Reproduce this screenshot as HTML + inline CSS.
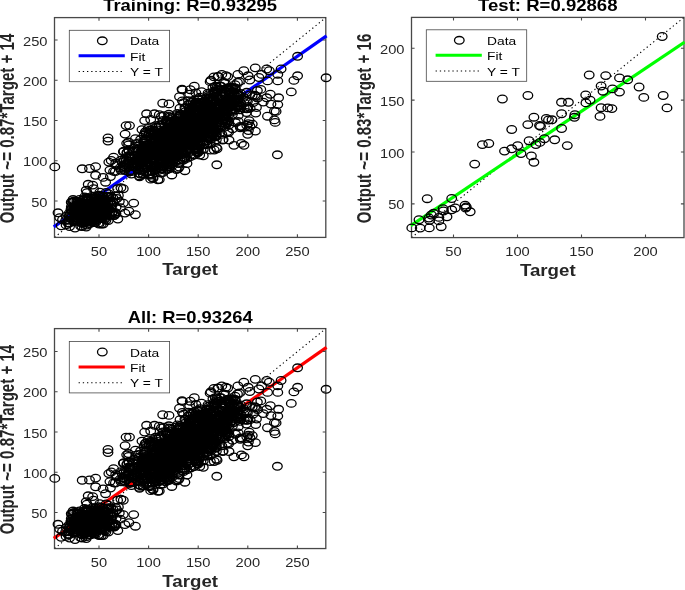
<!DOCTYPE html>
<html><head><meta charset="utf-8"><title>Regression</title>
<style>html,body{margin:0;padding:0;background:#fff}svg{display:block;font-family:"Liberation Sans",sans-serif;will-change:transform}</style>
</head><body>
<svg width="685" height="590" viewBox="0 0 685 590">
<rect width="685" height="590" fill="#fff"/>
<clipPath id="c1"><rect x="54.5" y="17.6" width="271.3" height="219.8"/></clipPath>
<rect x="54.5" y="17.6" width="271.3" height="219.8" fill="none" stroke="#484848" stroke-width="1.3"/>
<line x1="54.5" y1="237.4" x2="325.8" y2="17.6" stroke="#000" stroke-width="1.1" stroke-dasharray="1.3 2.9" clip-path="url(#c1)"/>
<line x1="53.76" y1="226.82" x2="326.54" y2="35.88" stroke="#0000ff" stroke-width="3.2"/>
<g fill="none" stroke="#000" stroke-width="1.3"><ellipse cx="176.7" cy="132.01" rx="4.8" ry="3.8"/><ellipse cx="174.94" cy="152.29" rx="4.8" ry="3.8"/><ellipse cx="217.4" cy="106.04" rx="4.8" ry="3.8"/><ellipse cx="191.72" cy="123.86" rx="4.8" ry="3.8"/><ellipse cx="134.73" cy="147.82" rx="4.8" ry="3.8"/><ellipse cx="199.16" cy="146.72" rx="4.8" ry="3.8"/><ellipse cx="157.84" cy="156.95" rx="4.8" ry="3.8"/><ellipse cx="182.95" cy="127.85" rx="4.8" ry="3.8"/><ellipse cx="193.5" cy="122.72" rx="4.8" ry="3.8"/><ellipse cx="235.43" cy="95.43" rx="4.8" ry="3.8"/><ellipse cx="165.85" cy="155.62" rx="4.8" ry="3.8"/><ellipse cx="181.14" cy="127.53" rx="4.8" ry="3.8"/><ellipse cx="171" cy="155.19" rx="4.8" ry="3.8"/><ellipse cx="220.65" cy="122.83" rx="4.8" ry="3.8"/><ellipse cx="197.01" cy="145.49" rx="4.8" ry="3.8"/><ellipse cx="223.19" cy="139.58" rx="4.8" ry="3.8"/><ellipse cx="181.15" cy="146.78" rx="4.8" ry="3.8"/><ellipse cx="182.46" cy="154.54" rx="4.8" ry="3.8"/><ellipse cx="204.23" cy="108.11" rx="4.8" ry="3.8"/><ellipse cx="195.09" cy="125.35" rx="4.8" ry="3.8"/><ellipse cx="202.63" cy="129.93" rx="4.8" ry="3.8"/><ellipse cx="146.67" cy="166.94" rx="4.8" ry="3.8"/><ellipse cx="222.67" cy="140.09" rx="4.8" ry="3.8"/><ellipse cx="191.44" cy="110.12" rx="4.8" ry="3.8"/><ellipse cx="213" cy="115.86" rx="4.8" ry="3.8"/><ellipse cx="166.78" cy="143.28" rx="4.8" ry="3.8"/><ellipse cx="191.27" cy="128.6" rx="4.8" ry="3.8"/><ellipse cx="184.76" cy="120.37" rx="4.8" ry="3.8"/><ellipse cx="175.49" cy="155.5" rx="4.8" ry="3.8"/><ellipse cx="225.23" cy="127.03" rx="4.8" ry="3.8"/><ellipse cx="166.18" cy="156.38" rx="4.8" ry="3.8"/><ellipse cx="240.21" cy="126.35" rx="4.8" ry="3.8"/><ellipse cx="199.37" cy="123.01" rx="4.8" ry="3.8"/><ellipse cx="144.8" cy="152.98" rx="4.8" ry="3.8"/><ellipse cx="187" cy="143.29" rx="4.8" ry="3.8"/><ellipse cx="154.51" cy="170.06" rx="4.8" ry="3.8"/><ellipse cx="179.88" cy="140.71" rx="4.8" ry="3.8"/><ellipse cx="153.75" cy="135.21" rx="4.8" ry="3.8"/><ellipse cx="160.89" cy="140.61" rx="4.8" ry="3.8"/><ellipse cx="209.88" cy="112.1" rx="4.8" ry="3.8"/><ellipse cx="188.85" cy="123.32" rx="4.8" ry="3.8"/><ellipse cx="192.57" cy="120.95" rx="4.8" ry="3.8"/><ellipse cx="207.05" cy="111.16" rx="4.8" ry="3.8"/><ellipse cx="193.98" cy="133.33" rx="4.8" ry="3.8"/><ellipse cx="183.92" cy="121.87" rx="4.8" ry="3.8"/><ellipse cx="195.79" cy="102.08" rx="4.8" ry="3.8"/><ellipse cx="150.86" cy="149.59" rx="4.8" ry="3.8"/><ellipse cx="191.41" cy="135.03" rx="4.8" ry="3.8"/><ellipse cx="192.71" cy="135.4" rx="4.8" ry="3.8"/><ellipse cx="194.88" cy="134.43" rx="4.8" ry="3.8"/><ellipse cx="177.6" cy="139.05" rx="4.8" ry="3.8"/><ellipse cx="169.82" cy="129.84" rx="4.8" ry="3.8"/><ellipse cx="182.33" cy="122.5" rx="4.8" ry="3.8"/><ellipse cx="228.69" cy="132.29" rx="4.8" ry="3.8"/><ellipse cx="174.17" cy="132.15" rx="4.8" ry="3.8"/><ellipse cx="203.28" cy="144.37" rx="4.8" ry="3.8"/><ellipse cx="163.01" cy="160" rx="4.8" ry="3.8"/><ellipse cx="191.28" cy="128.82" rx="4.8" ry="3.8"/><ellipse cx="206.97" cy="130.49" rx="4.8" ry="3.8"/><ellipse cx="207.09" cy="106.5" rx="4.8" ry="3.8"/><ellipse cx="188.25" cy="121.98" rx="4.8" ry="3.8"/><ellipse cx="203.32" cy="141.6" rx="4.8" ry="3.8"/><ellipse cx="202.61" cy="134.61" rx="4.8" ry="3.8"/><ellipse cx="140.56" cy="139.54" rx="4.8" ry="3.8"/><ellipse cx="228.15" cy="121.17" rx="4.8" ry="3.8"/><ellipse cx="150.38" cy="142.8" rx="4.8" ry="3.8"/><ellipse cx="157.82" cy="130.01" rx="4.8" ry="3.8"/><ellipse cx="179.02" cy="163.49" rx="4.8" ry="3.8"/><ellipse cx="181.45" cy="143.74" rx="4.8" ry="3.8"/><ellipse cx="196.51" cy="106.12" rx="4.8" ry="3.8"/><ellipse cx="218.13" cy="89.86" rx="4.8" ry="3.8"/><ellipse cx="178.94" cy="147.24" rx="4.8" ry="3.8"/><ellipse cx="187.74" cy="130.03" rx="4.8" ry="3.8"/><ellipse cx="176.47" cy="169.45" rx="4.8" ry="3.8"/><ellipse cx="129.14" cy="151.03" rx="4.8" ry="3.8"/><ellipse cx="166.12" cy="145.75" rx="4.8" ry="3.8"/><ellipse cx="186.66" cy="114.75" rx="4.8" ry="3.8"/><ellipse cx="215.27" cy="91.16" rx="4.8" ry="3.8"/><ellipse cx="164.32" cy="135.1" rx="4.8" ry="3.8"/><ellipse cx="147.65" cy="153.96" rx="4.8" ry="3.8"/><ellipse cx="183.46" cy="142.29" rx="4.8" ry="3.8"/><ellipse cx="237.62" cy="102.01" rx="4.8" ry="3.8"/><ellipse cx="214.09" cy="116.89" rx="4.8" ry="3.8"/><ellipse cx="167.78" cy="130.29" rx="4.8" ry="3.8"/><ellipse cx="166.52" cy="131.98" rx="4.8" ry="3.8"/><ellipse cx="184.54" cy="123.05" rx="4.8" ry="3.8"/><ellipse cx="149.23" cy="174.09" rx="4.8" ry="3.8"/><ellipse cx="211.77" cy="122.86" rx="4.8" ry="3.8"/><ellipse cx="161.37" cy="169.03" rx="4.8" ry="3.8"/><ellipse cx="149.21" cy="148.49" rx="4.8" ry="3.8"/><ellipse cx="194.07" cy="136.12" rx="4.8" ry="3.8"/><ellipse cx="205.88" cy="123.17" rx="4.8" ry="3.8"/><ellipse cx="158.27" cy="146.74" rx="4.8" ry="3.8"/><ellipse cx="207.52" cy="108.42" rx="4.8" ry="3.8"/><ellipse cx="194.03" cy="109.9" rx="4.8" ry="3.8"/><ellipse cx="197.74" cy="152.9" rx="4.8" ry="3.8"/><ellipse cx="223.28" cy="113.96" rx="4.8" ry="3.8"/><ellipse cx="242.06" cy="126.73" rx="4.8" ry="3.8"/><ellipse cx="256.44" cy="107.48" rx="4.8" ry="3.8"/><ellipse cx="240.45" cy="103.11" rx="4.8" ry="3.8"/><ellipse cx="211.17" cy="127.8" rx="4.8" ry="3.8"/><ellipse cx="193.03" cy="117.3" rx="4.8" ry="3.8"/><ellipse cx="178.5" cy="151.13" rx="4.8" ry="3.8"/><ellipse cx="210.85" cy="114.65" rx="4.8" ry="3.8"/><ellipse cx="159.27" cy="114.63" rx="4.8" ry="3.8"/><ellipse cx="203.28" cy="155.78" rx="4.8" ry="3.8"/><ellipse cx="198.62" cy="102.26" rx="4.8" ry="3.8"/><ellipse cx="182.3" cy="128.24" rx="4.8" ry="3.8"/><ellipse cx="215.06" cy="108.64" rx="4.8" ry="3.8"/><ellipse cx="223.76" cy="82.36" rx="4.8" ry="3.8"/><ellipse cx="164.48" cy="142.81" rx="4.8" ry="3.8"/><ellipse cx="172.45" cy="154.48" rx="4.8" ry="3.8"/><ellipse cx="215.18" cy="131.2" rx="4.8" ry="3.8"/><ellipse cx="235" cy="89.2" rx="4.8" ry="3.8"/><ellipse cx="208.42" cy="129.29" rx="4.8" ry="3.8"/><ellipse cx="120.03" cy="168.02" rx="4.8" ry="3.8"/><ellipse cx="210.73" cy="115.61" rx="4.8" ry="3.8"/><ellipse cx="189.37" cy="127" rx="4.8" ry="3.8"/><ellipse cx="208.88" cy="124.99" rx="4.8" ry="3.8"/><ellipse cx="175.61" cy="124.35" rx="4.8" ry="3.8"/><ellipse cx="209.02" cy="107.27" rx="4.8" ry="3.8"/><ellipse cx="232.46" cy="102.81" rx="4.8" ry="3.8"/><ellipse cx="178.23" cy="168.45" rx="4.8" ry="3.8"/><ellipse cx="227.51" cy="90.46" rx="4.8" ry="3.8"/><ellipse cx="198.69" cy="117.85" rx="4.8" ry="3.8"/><ellipse cx="138.95" cy="157.21" rx="4.8" ry="3.8"/><ellipse cx="181.31" cy="125.54" rx="4.8" ry="3.8"/><ellipse cx="164.41" cy="156.93" rx="4.8" ry="3.8"/><ellipse cx="192.45" cy="125.15" rx="4.8" ry="3.8"/><ellipse cx="183" cy="144.92" rx="4.8" ry="3.8"/><ellipse cx="195" cy="112.42" rx="4.8" ry="3.8"/><ellipse cx="172.72" cy="150.86" rx="4.8" ry="3.8"/><ellipse cx="209.07" cy="124.78" rx="4.8" ry="3.8"/><ellipse cx="162.38" cy="144.57" rx="4.8" ry="3.8"/><ellipse cx="165.33" cy="155.65" rx="4.8" ry="3.8"/><ellipse cx="209.33" cy="119.51" rx="4.8" ry="3.8"/><ellipse cx="185.39" cy="144.28" rx="4.8" ry="3.8"/><ellipse cx="164.38" cy="146.9" rx="4.8" ry="3.8"/><ellipse cx="184.22" cy="134.46" rx="4.8" ry="3.8"/><ellipse cx="177.3" cy="136.12" rx="4.8" ry="3.8"/><ellipse cx="187.88" cy="129.68" rx="4.8" ry="3.8"/><ellipse cx="135.55" cy="160.98" rx="4.8" ry="3.8"/><ellipse cx="144.84" cy="145.07" rx="4.8" ry="3.8"/><ellipse cx="144.69" cy="120.58" rx="4.8" ry="3.8"/><ellipse cx="222.86" cy="112.51" rx="4.8" ry="3.8"/><ellipse cx="216.37" cy="139.86" rx="4.8" ry="3.8"/><ellipse cx="149.57" cy="150.44" rx="4.8" ry="3.8"/><ellipse cx="149.44" cy="155.59" rx="4.8" ry="3.8"/><ellipse cx="138.01" cy="149.15" rx="4.8" ry="3.8"/><ellipse cx="219.57" cy="125.39" rx="4.8" ry="3.8"/><ellipse cx="164.15" cy="139.93" rx="4.8" ry="3.8"/><ellipse cx="175.33" cy="134.88" rx="4.8" ry="3.8"/><ellipse cx="151.66" cy="165.53" rx="4.8" ry="3.8"/><ellipse cx="169.75" cy="157.24" rx="4.8" ry="3.8"/><ellipse cx="185.42" cy="133.34" rx="4.8" ry="3.8"/><ellipse cx="141.7" cy="159.83" rx="4.8" ry="3.8"/><ellipse cx="203.92" cy="120.96" rx="4.8" ry="3.8"/><ellipse cx="179.62" cy="115.55" rx="4.8" ry="3.8"/><ellipse cx="231.23" cy="88.55" rx="4.8" ry="3.8"/><ellipse cx="159.17" cy="139.9" rx="4.8" ry="3.8"/><ellipse cx="137.86" cy="169.8" rx="4.8" ry="3.8"/><ellipse cx="199.17" cy="120.74" rx="4.8" ry="3.8"/><ellipse cx="233.37" cy="111.18" rx="4.8" ry="3.8"/><ellipse cx="194.81" cy="126.75" rx="4.8" ry="3.8"/><ellipse cx="228.44" cy="115.01" rx="4.8" ry="3.8"/><ellipse cx="175.2" cy="124.28" rx="4.8" ry="3.8"/><ellipse cx="191.66" cy="108.47" rx="4.8" ry="3.8"/><ellipse cx="210.11" cy="81.65" rx="4.8" ry="3.8"/><ellipse cx="182.13" cy="159.08" rx="4.8" ry="3.8"/><ellipse cx="216.18" cy="116.18" rx="4.8" ry="3.8"/><ellipse cx="204.6" cy="111.8" rx="4.8" ry="3.8"/><ellipse cx="169.97" cy="146.74" rx="4.8" ry="3.8"/><ellipse cx="173.24" cy="124.48" rx="4.8" ry="3.8"/><ellipse cx="122.28" cy="162.38" rx="4.8" ry="3.8"/><ellipse cx="247.43" cy="101.31" rx="4.8" ry="3.8"/><ellipse cx="218.92" cy="111.23" rx="4.8" ry="3.8"/><ellipse cx="191.99" cy="121.2" rx="4.8" ry="3.8"/><ellipse cx="161.32" cy="125.44" rx="4.8" ry="3.8"/><ellipse cx="184.85" cy="129.97" rx="4.8" ry="3.8"/><ellipse cx="226.4" cy="118.55" rx="4.8" ry="3.8"/><ellipse cx="170.04" cy="152.32" rx="4.8" ry="3.8"/><ellipse cx="224.01" cy="109.34" rx="4.8" ry="3.8"/><ellipse cx="208.46" cy="118.34" rx="4.8" ry="3.8"/><ellipse cx="229.63" cy="89.64" rx="4.8" ry="3.8"/><ellipse cx="252.27" cy="95.61" rx="4.8" ry="3.8"/><ellipse cx="165.05" cy="146.91" rx="4.8" ry="3.8"/><ellipse cx="237.48" cy="82.4" rx="4.8" ry="3.8"/><ellipse cx="139.52" cy="176.79" rx="4.8" ry="3.8"/><ellipse cx="170.64" cy="143.51" rx="4.8" ry="3.8"/><ellipse cx="180.71" cy="150.67" rx="4.8" ry="3.8"/><ellipse cx="141.52" cy="156.57" rx="4.8" ry="3.8"/><ellipse cx="198.23" cy="127.99" rx="4.8" ry="3.8"/><ellipse cx="189.06" cy="137.26" rx="4.8" ry="3.8"/><ellipse cx="207.16" cy="120.13" rx="4.8" ry="3.8"/><ellipse cx="163.4" cy="159.83" rx="4.8" ry="3.8"/><ellipse cx="193.08" cy="121.38" rx="4.8" ry="3.8"/><ellipse cx="246.77" cy="108.79" rx="4.8" ry="3.8"/><ellipse cx="267.48" cy="116.18" rx="4.8" ry="3.8"/><ellipse cx="189.36" cy="128.58" rx="4.8" ry="3.8"/><ellipse cx="177.21" cy="133.61" rx="4.8" ry="3.8"/><ellipse cx="207.27" cy="143.66" rx="4.8" ry="3.8"/><ellipse cx="184.25" cy="147.64" rx="4.8" ry="3.8"/><ellipse cx="202.99" cy="130.18" rx="4.8" ry="3.8"/><ellipse cx="206.51" cy="114.99" rx="4.8" ry="3.8"/><ellipse cx="181.2" cy="154.61" rx="4.8" ry="3.8"/><ellipse cx="197.83" cy="132.2" rx="4.8" ry="3.8"/><ellipse cx="206.61" cy="130.65" rx="4.8" ry="3.8"/><ellipse cx="239.74" cy="109.92" rx="4.8" ry="3.8"/><ellipse cx="179.83" cy="116.32" rx="4.8" ry="3.8"/><ellipse cx="211.03" cy="125.04" rx="4.8" ry="3.8"/><ellipse cx="184.02" cy="157.66" rx="4.8" ry="3.8"/><ellipse cx="211.08" cy="139.07" rx="4.8" ry="3.8"/><ellipse cx="180.41" cy="130.45" rx="4.8" ry="3.8"/><ellipse cx="139.7" cy="158.88" rx="4.8" ry="3.8"/><ellipse cx="167.2" cy="158.51" rx="4.8" ry="3.8"/><ellipse cx="147.97" cy="149.24" rx="4.8" ry="3.8"/><ellipse cx="197.09" cy="122.38" rx="4.8" ry="3.8"/><ellipse cx="168.85" cy="152.81" rx="4.8" ry="3.8"/><ellipse cx="200.64" cy="136.69" rx="4.8" ry="3.8"/><ellipse cx="192.97" cy="125.01" rx="4.8" ry="3.8"/><ellipse cx="178.29" cy="144.98" rx="4.8" ry="3.8"/><ellipse cx="180.84" cy="137.27" rx="4.8" ry="3.8"/><ellipse cx="215.67" cy="92.47" rx="4.8" ry="3.8"/><ellipse cx="209.49" cy="127.02" rx="4.8" ry="3.8"/><ellipse cx="206.63" cy="98.86" rx="4.8" ry="3.8"/><ellipse cx="182.11" cy="132.7" rx="4.8" ry="3.8"/><ellipse cx="184.79" cy="142.56" rx="4.8" ry="3.8"/><ellipse cx="150.68" cy="179.14" rx="4.8" ry="3.8"/><ellipse cx="192.07" cy="136.17" rx="4.8" ry="3.8"/><ellipse cx="176.18" cy="147.18" rx="4.8" ry="3.8"/><ellipse cx="137.64" cy="165.08" rx="4.8" ry="3.8"/><ellipse cx="209.58" cy="119.06" rx="4.8" ry="3.8"/><ellipse cx="164.8" cy="142.46" rx="4.8" ry="3.8"/><ellipse cx="163.89" cy="115.64" rx="4.8" ry="3.8"/><ellipse cx="184.82" cy="131.26" rx="4.8" ry="3.8"/><ellipse cx="207.98" cy="109.74" rx="4.8" ry="3.8"/><ellipse cx="190.41" cy="126.58" rx="4.8" ry="3.8"/><ellipse cx="195.29" cy="104.71" rx="4.8" ry="3.8"/><ellipse cx="173.23" cy="128.76" rx="4.8" ry="3.8"/><ellipse cx="184.14" cy="137.38" rx="4.8" ry="3.8"/><ellipse cx="159.38" cy="158.35" rx="4.8" ry="3.8"/><ellipse cx="185.41" cy="132.3" rx="4.8" ry="3.8"/><ellipse cx="211.52" cy="108.96" rx="4.8" ry="3.8"/><ellipse cx="204.09" cy="122.78" rx="4.8" ry="3.8"/><ellipse cx="227.62" cy="100.53" rx="4.8" ry="3.8"/><ellipse cx="216.42" cy="107.69" rx="4.8" ry="3.8"/><ellipse cx="232.22" cy="100.29" rx="4.8" ry="3.8"/><ellipse cx="190.2" cy="132.07" rx="4.8" ry="3.8"/><ellipse cx="213.23" cy="113.9" rx="4.8" ry="3.8"/><ellipse cx="194.76" cy="126.11" rx="4.8" ry="3.8"/><ellipse cx="173.27" cy="141.49" rx="4.8" ry="3.8"/><ellipse cx="171.71" cy="133.04" rx="4.8" ry="3.8"/><ellipse cx="173.48" cy="142.49" rx="4.8" ry="3.8"/><ellipse cx="174.62" cy="130.39" rx="4.8" ry="3.8"/><ellipse cx="185.5" cy="116.83" rx="4.8" ry="3.8"/><ellipse cx="190.49" cy="130.93" rx="4.8" ry="3.8"/><ellipse cx="217.93" cy="76.51" rx="4.8" ry="3.8"/><ellipse cx="167.2" cy="138.32" rx="4.8" ry="3.8"/><ellipse cx="199.1" cy="116.69" rx="4.8" ry="3.8"/><ellipse cx="200.12" cy="144.15" rx="4.8" ry="3.8"/><ellipse cx="138.34" cy="165.22" rx="4.8" ry="3.8"/><ellipse cx="172.37" cy="130.18" rx="4.8" ry="3.8"/><ellipse cx="172.48" cy="134.3" rx="4.8" ry="3.8"/><ellipse cx="184.5" cy="128.91" rx="4.8" ry="3.8"/><ellipse cx="192.28" cy="145.8" rx="4.8" ry="3.8"/><ellipse cx="250.03" cy="126.29" rx="4.8" ry="3.8"/><ellipse cx="196.73" cy="113.05" rx="4.8" ry="3.8"/><ellipse cx="176.21" cy="153.11" rx="4.8" ry="3.8"/><ellipse cx="215.07" cy="129.7" rx="4.8" ry="3.8"/><ellipse cx="183.58" cy="160.09" rx="4.8" ry="3.8"/><ellipse cx="171.32" cy="136.28" rx="4.8" ry="3.8"/><ellipse cx="158.06" cy="155.9" rx="4.8" ry="3.8"/><ellipse cx="164.53" cy="146.49" rx="4.8" ry="3.8"/><ellipse cx="219.58" cy="85.92" rx="4.8" ry="3.8"/><ellipse cx="171.82" cy="174.93" rx="4.8" ry="3.8"/><ellipse cx="162.74" cy="148.24" rx="4.8" ry="3.8"/><ellipse cx="143.88" cy="148.76" rx="4.8" ry="3.8"/><ellipse cx="129.97" cy="156.07" rx="4.8" ry="3.8"/><ellipse cx="128.73" cy="160.85" rx="4.8" ry="3.8"/><ellipse cx="213.95" cy="76.84" rx="4.8" ry="3.8"/><ellipse cx="150.03" cy="171.58" rx="4.8" ry="3.8"/><ellipse cx="162.39" cy="144.79" rx="4.8" ry="3.8"/><ellipse cx="113.57" cy="171.4" rx="4.8" ry="3.8"/><ellipse cx="190.07" cy="117.69" rx="4.8" ry="3.8"/><ellipse cx="199.91" cy="124.27" rx="4.8" ry="3.8"/><ellipse cx="172.68" cy="148.69" rx="4.8" ry="3.8"/><ellipse cx="186.2" cy="136.37" rx="4.8" ry="3.8"/><ellipse cx="176.67" cy="130.54" rx="4.8" ry="3.8"/><ellipse cx="148.31" cy="147.93" rx="4.8" ry="3.8"/><ellipse cx="154.55" cy="141.45" rx="4.8" ry="3.8"/><ellipse cx="174.33" cy="129.76" rx="4.8" ry="3.8"/><ellipse cx="163.82" cy="141.29" rx="4.8" ry="3.8"/><ellipse cx="253.18" cy="102.57" rx="4.8" ry="3.8"/><ellipse cx="165.05" cy="135.54" rx="4.8" ry="3.8"/><ellipse cx="199.95" cy="103.42" rx="4.8" ry="3.8"/><ellipse cx="187.41" cy="120.52" rx="4.8" ry="3.8"/><ellipse cx="197.31" cy="137.76" rx="4.8" ry="3.8"/><ellipse cx="162.1" cy="147.02" rx="4.8" ry="3.8"/><ellipse cx="143.95" cy="160.95" rx="4.8" ry="3.8"/><ellipse cx="177.41" cy="147.54" rx="4.8" ry="3.8"/><ellipse cx="167.61" cy="144.87" rx="4.8" ry="3.8"/><ellipse cx="219.64" cy="104.9" rx="4.8" ry="3.8"/><ellipse cx="130.61" cy="157.77" rx="4.8" ry="3.8"/><ellipse cx="180.23" cy="114.27" rx="4.8" ry="3.8"/><ellipse cx="218.08" cy="114.65" rx="4.8" ry="3.8"/><ellipse cx="206.67" cy="140.87" rx="4.8" ry="3.8"/><ellipse cx="143.92" cy="171.91" rx="4.8" ry="3.8"/><ellipse cx="228.47" cy="104.41" rx="4.8" ry="3.8"/><ellipse cx="216.15" cy="135.97" rx="4.8" ry="3.8"/><ellipse cx="203.37" cy="134.25" rx="4.8" ry="3.8"/><ellipse cx="172.96" cy="136.66" rx="4.8" ry="3.8"/><ellipse cx="232.12" cy="101.86" rx="4.8" ry="3.8"/><ellipse cx="138.01" cy="164.6" rx="4.8" ry="3.8"/><ellipse cx="197.79" cy="111.92" rx="4.8" ry="3.8"/><ellipse cx="144.56" cy="160.49" rx="4.8" ry="3.8"/><ellipse cx="213.46" cy="127.86" rx="4.8" ry="3.8"/><ellipse cx="166.76" cy="157.36" rx="4.8" ry="3.8"/><ellipse cx="186.76" cy="143.61" rx="4.8" ry="3.8"/><ellipse cx="188.99" cy="108.41" rx="4.8" ry="3.8"/><ellipse cx="151.94" cy="146.06" rx="4.8" ry="3.8"/><ellipse cx="196.52" cy="121.67" rx="4.8" ry="3.8"/><ellipse cx="189.83" cy="145.16" rx="4.8" ry="3.8"/><ellipse cx="225.27" cy="103.22" rx="4.8" ry="3.8"/><ellipse cx="208.22" cy="115.11" rx="4.8" ry="3.8"/><ellipse cx="217.52" cy="106.4" rx="4.8" ry="3.8"/><ellipse cx="235.03" cy="84.65" rx="4.8" ry="3.8"/><ellipse cx="232.6" cy="105.67" rx="4.8" ry="3.8"/><ellipse cx="166.39" cy="130.1" rx="4.8" ry="3.8"/><ellipse cx="248.11" cy="106.57" rx="4.8" ry="3.8"/><ellipse cx="229.47" cy="101.6" rx="4.8" ry="3.8"/><ellipse cx="154.7" cy="133.7" rx="4.8" ry="3.8"/><ellipse cx="237.57" cy="106.98" rx="4.8" ry="3.8"/><ellipse cx="206.11" cy="107.04" rx="4.8" ry="3.8"/><ellipse cx="174.5" cy="141.49" rx="4.8" ry="3.8"/><ellipse cx="180.88" cy="132.8" rx="4.8" ry="3.8"/><ellipse cx="200.38" cy="104.93" rx="4.8" ry="3.8"/><ellipse cx="198.64" cy="129.55" rx="4.8" ry="3.8"/><ellipse cx="169.95" cy="161.69" rx="4.8" ry="3.8"/><ellipse cx="145.84" cy="133.52" rx="4.8" ry="3.8"/><ellipse cx="170.99" cy="137.86" rx="4.8" ry="3.8"/><ellipse cx="226.22" cy="109.06" rx="4.8" ry="3.8"/><ellipse cx="217.12" cy="116.7" rx="4.8" ry="3.8"/><ellipse cx="159.44" cy="155.8" rx="4.8" ry="3.8"/><ellipse cx="152.29" cy="142.66" rx="4.8" ry="3.8"/><ellipse cx="236.89" cy="94.78" rx="4.8" ry="3.8"/><ellipse cx="226.8" cy="88.18" rx="4.8" ry="3.8"/><ellipse cx="171.01" cy="152.32" rx="4.8" ry="3.8"/><ellipse cx="184.4" cy="122.97" rx="4.8" ry="3.8"/><ellipse cx="151.82" cy="145.96" rx="4.8" ry="3.8"/><ellipse cx="174.65" cy="137.37" rx="4.8" ry="3.8"/><ellipse cx="186.44" cy="132.38" rx="4.8" ry="3.8"/><ellipse cx="195.47" cy="132.59" rx="4.8" ry="3.8"/><ellipse cx="149.97" cy="161.98" rx="4.8" ry="3.8"/><ellipse cx="224.22" cy="117" rx="4.8" ry="3.8"/><ellipse cx="204.81" cy="124.11" rx="4.8" ry="3.8"/><ellipse cx="195.08" cy="144.31" rx="4.8" ry="3.8"/><ellipse cx="190.37" cy="143.17" rx="4.8" ry="3.8"/><ellipse cx="188.82" cy="141.45" rx="4.8" ry="3.8"/><ellipse cx="159.04" cy="134.73" rx="4.8" ry="3.8"/><ellipse cx="208.54" cy="118.66" rx="4.8" ry="3.8"/><ellipse cx="191.65" cy="131.42" rx="4.8" ry="3.8"/><ellipse cx="178.33" cy="137.39" rx="4.8" ry="3.8"/><ellipse cx="185.16" cy="135.4" rx="4.8" ry="3.8"/><ellipse cx="162.05" cy="142.7" rx="4.8" ry="3.8"/><ellipse cx="156.77" cy="160.97" rx="4.8" ry="3.8"/><ellipse cx="141.96" cy="150.29" rx="4.8" ry="3.8"/><ellipse cx="181.4" cy="131.79" rx="4.8" ry="3.8"/><ellipse cx="150.99" cy="153.11" rx="4.8" ry="3.8"/><ellipse cx="211.83" cy="133.52" rx="4.8" ry="3.8"/><ellipse cx="194.91" cy="136.13" rx="4.8" ry="3.8"/><ellipse cx="201.39" cy="116.74" rx="4.8" ry="3.8"/><ellipse cx="190.81" cy="129.74" rx="4.8" ry="3.8"/><ellipse cx="210.78" cy="133.35" rx="4.8" ry="3.8"/><ellipse cx="221.93" cy="134.34" rx="4.8" ry="3.8"/><ellipse cx="161.19" cy="150.32" rx="4.8" ry="3.8"/><ellipse cx="124.29" cy="159.66" rx="4.8" ry="3.8"/><ellipse cx="182.89" cy="125.08" rx="4.8" ry="3.8"/><ellipse cx="155.84" cy="127.1" rx="4.8" ry="3.8"/><ellipse cx="203.69" cy="105.38" rx="4.8" ry="3.8"/><ellipse cx="168.84" cy="162.27" rx="4.8" ry="3.8"/><ellipse cx="179.91" cy="125.75" rx="4.8" ry="3.8"/><ellipse cx="204.27" cy="131.76" rx="4.8" ry="3.8"/><ellipse cx="146.12" cy="157.5" rx="4.8" ry="3.8"/><ellipse cx="175.72" cy="143.16" rx="4.8" ry="3.8"/><ellipse cx="175.47" cy="133.37" rx="4.8" ry="3.8"/><ellipse cx="209" cy="122.58" rx="4.8" ry="3.8"/><ellipse cx="189.9" cy="110.57" rx="4.8" ry="3.8"/><ellipse cx="153.66" cy="167.29" rx="4.8" ry="3.8"/><ellipse cx="173.37" cy="151.58" rx="4.8" ry="3.8"/><ellipse cx="207" cy="141.12" rx="4.8" ry="3.8"/><ellipse cx="177.37" cy="118.5" rx="4.8" ry="3.8"/><ellipse cx="197.62" cy="127.47" rx="4.8" ry="3.8"/><ellipse cx="198.26" cy="99.72" rx="4.8" ry="3.8"/><ellipse cx="200.35" cy="140.84" rx="4.8" ry="3.8"/><ellipse cx="146.85" cy="155.45" rx="4.8" ry="3.8"/><ellipse cx="225.22" cy="94.15" rx="4.8" ry="3.8"/><ellipse cx="209.37" cy="119.47" rx="4.8" ry="3.8"/><ellipse cx="183.29" cy="123.73" rx="4.8" ry="3.8"/><ellipse cx="156.46" cy="165.89" rx="4.8" ry="3.8"/><ellipse cx="126.22" cy="160.66" rx="4.8" ry="3.8"/><ellipse cx="190.25" cy="151.13" rx="4.8" ry="3.8"/><ellipse cx="157.76" cy="133.73" rx="4.8" ry="3.8"/><ellipse cx="179.41" cy="133.29" rx="4.8" ry="3.8"/><ellipse cx="192.04" cy="136.25" rx="4.8" ry="3.8"/><ellipse cx="184.48" cy="130.98" rx="4.8" ry="3.8"/><ellipse cx="218.88" cy="111.17" rx="4.8" ry="3.8"/><ellipse cx="187.15" cy="125.85" rx="4.8" ry="3.8"/><ellipse cx="152.09" cy="131.91" rx="4.8" ry="3.8"/><ellipse cx="255.58" cy="96.25" rx="4.8" ry="3.8"/><ellipse cx="173.4" cy="155.75" rx="4.8" ry="3.8"/><ellipse cx="211.28" cy="95.25" rx="4.8" ry="3.8"/><ellipse cx="167.25" cy="166.97" rx="4.8" ry="3.8"/><ellipse cx="164.22" cy="157.67" rx="4.8" ry="3.8"/><ellipse cx="194.07" cy="131.18" rx="4.8" ry="3.8"/><ellipse cx="179.98" cy="133.86" rx="4.8" ry="3.8"/><ellipse cx="212.87" cy="123.68" rx="4.8" ry="3.8"/><ellipse cx="226.79" cy="106.15" rx="4.8" ry="3.8"/><ellipse cx="135.41" cy="161.32" rx="4.8" ry="3.8"/><ellipse cx="141.41" cy="162.44" rx="4.8" ry="3.8"/><ellipse cx="216.41" cy="89.09" rx="4.8" ry="3.8"/><ellipse cx="142.61" cy="148.39" rx="4.8" ry="3.8"/><ellipse cx="190.06" cy="147.47" rx="4.8" ry="3.8"/><ellipse cx="207.9" cy="110.73" rx="4.8" ry="3.8"/><ellipse cx="193.36" cy="117.55" rx="4.8" ry="3.8"/><ellipse cx="129.44" cy="155.9" rx="4.8" ry="3.8"/><ellipse cx="184.71" cy="121.82" rx="4.8" ry="3.8"/><ellipse cx="181.86" cy="139.52" rx="4.8" ry="3.8"/><ellipse cx="231.8" cy="109.2" rx="4.8" ry="3.8"/><ellipse cx="229.81" cy="94.63" rx="4.8" ry="3.8"/><ellipse cx="237.01" cy="105.65" rx="4.8" ry="3.8"/><ellipse cx="152.69" cy="146" rx="4.8" ry="3.8"/><ellipse cx="200.16" cy="117.93" rx="4.8" ry="3.8"/><ellipse cx="189.36" cy="149.56" rx="4.8" ry="3.8"/><ellipse cx="172.11" cy="156.43" rx="4.8" ry="3.8"/><ellipse cx="159.77" cy="138.36" rx="4.8" ry="3.8"/><ellipse cx="143.91" cy="142.61" rx="4.8" ry="3.8"/><ellipse cx="167.07" cy="164.75" rx="4.8" ry="3.8"/><ellipse cx="165.45" cy="141.51" rx="4.8" ry="3.8"/><ellipse cx="123.95" cy="166.27" rx="4.8" ry="3.8"/><ellipse cx="166.06" cy="162.85" rx="4.8" ry="3.8"/><ellipse cx="191.68" cy="133.31" rx="4.8" ry="3.8"/><ellipse cx="138.83" cy="145.86" rx="4.8" ry="3.8"/><ellipse cx="143.49" cy="155.05" rx="4.8" ry="3.8"/><ellipse cx="144.46" cy="149.6" rx="4.8" ry="3.8"/><ellipse cx="208.38" cy="110.09" rx="4.8" ry="3.8"/><ellipse cx="155.15" cy="170.56" rx="4.8" ry="3.8"/><ellipse cx="206.54" cy="115.38" rx="4.8" ry="3.8"/><ellipse cx="167.34" cy="146.95" rx="4.8" ry="3.8"/><ellipse cx="215.63" cy="101.65" rx="4.8" ry="3.8"/><ellipse cx="172.25" cy="160.58" rx="4.8" ry="3.8"/><ellipse cx="201.52" cy="136.77" rx="4.8" ry="3.8"/><ellipse cx="222.95" cy="104.08" rx="4.8" ry="3.8"/><ellipse cx="144.92" cy="140.52" rx="4.8" ry="3.8"/><ellipse cx="244.04" cy="102.73" rx="4.8" ry="3.8"/><ellipse cx="179.73" cy="123.58" rx="4.8" ry="3.8"/><ellipse cx="186.9" cy="150.27" rx="4.8" ry="3.8"/><ellipse cx="170.33" cy="134.56" rx="4.8" ry="3.8"/><ellipse cx="232.63" cy="88.12" rx="4.8" ry="3.8"/><ellipse cx="194.7" cy="103.75" rx="4.8" ry="3.8"/><ellipse cx="197.21" cy="109.75" rx="4.8" ry="3.8"/><ellipse cx="199.75" cy="141.37" rx="4.8" ry="3.8"/><ellipse cx="191.68" cy="123.99" rx="4.8" ry="3.8"/><ellipse cx="158.68" cy="135.31" rx="4.8" ry="3.8"/><ellipse cx="134.57" cy="167.11" rx="4.8" ry="3.8"/><ellipse cx="169.62" cy="145.41" rx="4.8" ry="3.8"/><ellipse cx="160.22" cy="143.23" rx="4.8" ry="3.8"/><ellipse cx="168.1" cy="137.21" rx="4.8" ry="3.8"/><ellipse cx="192.86" cy="107.13" rx="4.8" ry="3.8"/><ellipse cx="179.96" cy="126.93" rx="4.8" ry="3.8"/><ellipse cx="216.54" cy="131.87" rx="4.8" ry="3.8"/><ellipse cx="169.07" cy="154.33" rx="4.8" ry="3.8"/><ellipse cx="159.01" cy="126.88" rx="4.8" ry="3.8"/><ellipse cx="227.55" cy="122.04" rx="4.8" ry="3.8"/><ellipse cx="227.66" cy="109.17" rx="4.8" ry="3.8"/><ellipse cx="257.4" cy="90.56" rx="4.8" ry="3.8"/><ellipse cx="165.56" cy="140.06" rx="4.8" ry="3.8"/><ellipse cx="189.6" cy="107.61" rx="4.8" ry="3.8"/><ellipse cx="198.39" cy="105.41" rx="4.8" ry="3.8"/><ellipse cx="215.22" cy="86.11" rx="4.8" ry="3.8"/><ellipse cx="151.65" cy="166.38" rx="4.8" ry="3.8"/><ellipse cx="197.78" cy="149.85" rx="4.8" ry="3.8"/><ellipse cx="227.56" cy="131.54" rx="4.8" ry="3.8"/><ellipse cx="127.23" cy="152.37" rx="4.8" ry="3.8"/><ellipse cx="205.96" cy="109.53" rx="4.8" ry="3.8"/><ellipse cx="215.48" cy="107.28" rx="4.8" ry="3.8"/><ellipse cx="211.58" cy="132.02" rx="4.8" ry="3.8"/><ellipse cx="186.54" cy="133.61" rx="4.8" ry="3.8"/><ellipse cx="156.17" cy="169.38" rx="4.8" ry="3.8"/><ellipse cx="199.86" cy="134.6" rx="4.8" ry="3.8"/><ellipse cx="221.27" cy="91.63" rx="4.8" ry="3.8"/><ellipse cx="179.61" cy="139.33" rx="4.8" ry="3.8"/><ellipse cx="155.64" cy="140.58" rx="4.8" ry="3.8"/><ellipse cx="219.66" cy="113.32" rx="4.8" ry="3.8"/><ellipse cx="190.42" cy="109.28" rx="4.8" ry="3.8"/><ellipse cx="165.21" cy="154.77" rx="4.8" ry="3.8"/><ellipse cx="162.61" cy="163.9" rx="4.8" ry="3.8"/><ellipse cx="186.95" cy="141.25" rx="4.8" ry="3.8"/><ellipse cx="196.66" cy="149.37" rx="4.8" ry="3.8"/><ellipse cx="169.45" cy="119.46" rx="4.8" ry="3.8"/><ellipse cx="204.35" cy="122.73" rx="4.8" ry="3.8"/><ellipse cx="227.17" cy="111.07" rx="4.8" ry="3.8"/><ellipse cx="158.55" cy="155.09" rx="4.8" ry="3.8"/><ellipse cx="148.15" cy="163.38" rx="4.8" ry="3.8"/><ellipse cx="176" cy="143.98" rx="4.8" ry="3.8"/><ellipse cx="175.19" cy="140.96" rx="4.8" ry="3.8"/><ellipse cx="187.47" cy="120.81" rx="4.8" ry="3.8"/><ellipse cx="150.49" cy="165.22" rx="4.8" ry="3.8"/><ellipse cx="120.98" cy="170.32" rx="4.8" ry="3.8"/><ellipse cx="171.07" cy="159.32" rx="4.8" ry="3.8"/><ellipse cx="165.65" cy="153.25" rx="4.8" ry="3.8"/><ellipse cx="185.41" cy="139.3" rx="4.8" ry="3.8"/><ellipse cx="191.73" cy="124.58" rx="4.8" ry="3.8"/><ellipse cx="168.37" cy="154.74" rx="4.8" ry="3.8"/><ellipse cx="137.36" cy="165.57" rx="4.8" ry="3.8"/><ellipse cx="174.31" cy="127.18" rx="4.8" ry="3.8"/><ellipse cx="213.02" cy="133.93" rx="4.8" ry="3.8"/><ellipse cx="220.6" cy="104.34" rx="4.8" ry="3.8"/><ellipse cx="187.98" cy="125.09" rx="4.8" ry="3.8"/><ellipse cx="212.54" cy="121.87" rx="4.8" ry="3.8"/><ellipse cx="186.92" cy="158.42" rx="4.8" ry="3.8"/><ellipse cx="217.87" cy="114.17" rx="4.8" ry="3.8"/><ellipse cx="191.53" cy="134.88" rx="4.8" ry="3.8"/><ellipse cx="187.36" cy="130" rx="4.8" ry="3.8"/><ellipse cx="185.67" cy="108.04" rx="4.8" ry="3.8"/><ellipse cx="235.4" cy="87.93" rx="4.8" ry="3.8"/><ellipse cx="188.4" cy="133.15" rx="4.8" ry="3.8"/><ellipse cx="182.33" cy="143.67" rx="4.8" ry="3.8"/><ellipse cx="200.22" cy="129.44" rx="4.8" ry="3.8"/><ellipse cx="182.73" cy="140.44" rx="4.8" ry="3.8"/><ellipse cx="182.36" cy="100.87" rx="4.8" ry="3.8"/><ellipse cx="179.9" cy="117.55" rx="4.8" ry="3.8"/><ellipse cx="189.29" cy="135.61" rx="4.8" ry="3.8"/><ellipse cx="228.93" cy="91.93" rx="4.8" ry="3.8"/><ellipse cx="173.9" cy="140.2" rx="4.8" ry="3.8"/><ellipse cx="213.09" cy="135.16" rx="4.8" ry="3.8"/><ellipse cx="216.93" cy="91.56" rx="4.8" ry="3.8"/><ellipse cx="216.74" cy="123.3" rx="4.8" ry="3.8"/><ellipse cx="144.94" cy="139.26" rx="4.8" ry="3.8"/><ellipse cx="166.62" cy="155.39" rx="4.8" ry="3.8"/><ellipse cx="258.93" cy="77.51" rx="4.8" ry="3.8"/><ellipse cx="130.92" cy="165.94" rx="4.8" ry="3.8"/><ellipse cx="239.89" cy="105.55" rx="4.8" ry="3.8"/><ellipse cx="169.14" cy="168.72" rx="4.8" ry="3.8"/><ellipse cx="152" cy="138.36" rx="4.8" ry="3.8"/><ellipse cx="146.51" cy="150.3" rx="4.8" ry="3.8"/><ellipse cx="207.56" cy="118.21" rx="4.8" ry="3.8"/><ellipse cx="202.82" cy="110.48" rx="4.8" ry="3.8"/><ellipse cx="238.66" cy="94.77" rx="4.8" ry="3.8"/><ellipse cx="128.96" cy="166.68" rx="4.8" ry="3.8"/><ellipse cx="216.37" cy="134.59" rx="4.8" ry="3.8"/><ellipse cx="123.91" cy="151.21" rx="4.8" ry="3.8"/><ellipse cx="190.15" cy="138.61" rx="4.8" ry="3.8"/><ellipse cx="115.36" cy="171.5" rx="4.8" ry="3.8"/><ellipse cx="164.54" cy="144.69" rx="4.8" ry="3.8"/><ellipse cx="233.92" cy="100.17" rx="4.8" ry="3.8"/><ellipse cx="230.27" cy="92.06" rx="4.8" ry="3.8"/><ellipse cx="162.85" cy="172.58" rx="4.8" ry="3.8"/><ellipse cx="211.44" cy="126.24" rx="4.8" ry="3.8"/><ellipse cx="190.13" cy="126.89" rx="4.8" ry="3.8"/><ellipse cx="203.82" cy="102.24" rx="4.8" ry="3.8"/><ellipse cx="213.44" cy="128.96" rx="4.8" ry="3.8"/><ellipse cx="189.64" cy="127.22" rx="4.8" ry="3.8"/><ellipse cx="183.79" cy="119.45" rx="4.8" ry="3.8"/><ellipse cx="188.34" cy="138.81" rx="4.8" ry="3.8"/><ellipse cx="168.61" cy="146.7" rx="4.8" ry="3.8"/><ellipse cx="203.31" cy="111.1" rx="4.8" ry="3.8"/><ellipse cx="163.17" cy="151.77" rx="4.8" ry="3.8"/><ellipse cx="153.48" cy="130.63" rx="4.8" ry="3.8"/><ellipse cx="216.4" cy="147.62" rx="4.8" ry="3.8"/><ellipse cx="192.58" cy="126.01" rx="4.8" ry="3.8"/><ellipse cx="192.64" cy="126.36" rx="4.8" ry="3.8"/><ellipse cx="193.46" cy="130.58" rx="4.8" ry="3.8"/><ellipse cx="167" cy="120.54" rx="4.8" ry="3.8"/><ellipse cx="182.58" cy="117.9" rx="4.8" ry="3.8"/><ellipse cx="126.72" cy="168.24" rx="4.8" ry="3.8"/><ellipse cx="225.85" cy="75.68" rx="4.8" ry="3.8"/><ellipse cx="183.22" cy="124.68" rx="4.8" ry="3.8"/><ellipse cx="145.89" cy="131.33" rx="4.8" ry="3.8"/><ellipse cx="152.31" cy="130.06" rx="4.8" ry="3.8"/><ellipse cx="173.53" cy="159.39" rx="4.8" ry="3.8"/><ellipse cx="183.39" cy="120.81" rx="4.8" ry="3.8"/><ellipse cx="225.84" cy="116.63" rx="4.8" ry="3.8"/><ellipse cx="222.28" cy="109.67" rx="4.8" ry="3.8"/><ellipse cx="174.04" cy="131.36" rx="4.8" ry="3.8"/><ellipse cx="208.29" cy="113" rx="4.8" ry="3.8"/><ellipse cx="212.17" cy="99.42" rx="4.8" ry="3.8"/><ellipse cx="188.06" cy="130.25" rx="4.8" ry="3.8"/><ellipse cx="203.19" cy="125.52" rx="4.8" ry="3.8"/><ellipse cx="160.23" cy="143.85" rx="4.8" ry="3.8"/><ellipse cx="171.6" cy="140.13" rx="4.8" ry="3.8"/><ellipse cx="159.56" cy="159.94" rx="4.8" ry="3.8"/><ellipse cx="154.7" cy="130.78" rx="4.8" ry="3.8"/><ellipse cx="190.2" cy="124.22" rx="4.8" ry="3.8"/><ellipse cx="228.42" cy="98.86" rx="4.8" ry="3.8"/><ellipse cx="178.84" cy="130.23" rx="4.8" ry="3.8"/><ellipse cx="169.59" cy="139.32" rx="4.8" ry="3.8"/><ellipse cx="240.74" cy="105.75" rx="4.8" ry="3.8"/><ellipse cx="158.31" cy="149.93" rx="4.8" ry="3.8"/><ellipse cx="175.94" cy="134.79" rx="4.8" ry="3.8"/><ellipse cx="219.25" cy="125.02" rx="4.8" ry="3.8"/><ellipse cx="217.21" cy="115.04" rx="4.8" ry="3.8"/><ellipse cx="192.79" cy="116.35" rx="4.8" ry="3.8"/><ellipse cx="178.38" cy="132.35" rx="4.8" ry="3.8"/><ellipse cx="168.78" cy="116.5" rx="4.8" ry="3.8"/><ellipse cx="201.25" cy="132.73" rx="4.8" ry="3.8"/><ellipse cx="238.02" cy="99.76" rx="4.8" ry="3.8"/><ellipse cx="198.07" cy="99.91" rx="4.8" ry="3.8"/><ellipse cx="165.5" cy="147.44" rx="4.8" ry="3.8"/><ellipse cx="210.27" cy="112.98" rx="4.8" ry="3.8"/><ellipse cx="196.44" cy="119.68" rx="4.8" ry="3.8"/><ellipse cx="137.77" cy="155.12" rx="4.8" ry="3.8"/><ellipse cx="219.08" cy="100.9" rx="4.8" ry="3.8"/><ellipse cx="184.99" cy="128.46" rx="4.8" ry="3.8"/><ellipse cx="170.05" cy="166.51" rx="4.8" ry="3.8"/><ellipse cx="174.35" cy="120.55" rx="4.8" ry="3.8"/><ellipse cx="144.43" cy="143.16" rx="4.8" ry="3.8"/><ellipse cx="202.82" cy="134.68" rx="4.8" ry="3.8"/><ellipse cx="207.17" cy="130.24" rx="4.8" ry="3.8"/><ellipse cx="190.64" cy="156.45" rx="4.8" ry="3.8"/><ellipse cx="182.36" cy="126.67" rx="4.8" ry="3.8"/><ellipse cx="159.51" cy="143.27" rx="4.8" ry="3.8"/><ellipse cx="181.94" cy="136.14" rx="4.8" ry="3.8"/><ellipse cx="180.3" cy="143.19" rx="4.8" ry="3.8"/><ellipse cx="172.22" cy="165.55" rx="4.8" ry="3.8"/><ellipse cx="164.72" cy="149.67" rx="4.8" ry="3.8"/><ellipse cx="184.4" cy="138.55" rx="4.8" ry="3.8"/><ellipse cx="131.37" cy="171.51" rx="4.8" ry="3.8"/><ellipse cx="148.04" cy="156.82" rx="4.8" ry="3.8"/><ellipse cx="194.41" cy="125.99" rx="4.8" ry="3.8"/><ellipse cx="202.37" cy="115.92" rx="4.8" ry="3.8"/><ellipse cx="177.6" cy="121.3" rx="4.8" ry="3.8"/><ellipse cx="186.21" cy="130.3" rx="4.8" ry="3.8"/><ellipse cx="161.5" cy="169.08" rx="4.8" ry="3.8"/><ellipse cx="232.26" cy="87.14" rx="4.8" ry="3.8"/><ellipse cx="175.46" cy="128.51" rx="4.8" ry="3.8"/><ellipse cx="160.21" cy="149.49" rx="4.8" ry="3.8"/><ellipse cx="205.37" cy="108.27" rx="4.8" ry="3.8"/><ellipse cx="195.11" cy="132.67" rx="4.8" ry="3.8"/><ellipse cx="162.52" cy="135.21" rx="4.8" ry="3.8"/><ellipse cx="211.6" cy="120.51" rx="4.8" ry="3.8"/><ellipse cx="211.59" cy="128.63" rx="4.8" ry="3.8"/><ellipse cx="232.39" cy="114.48" rx="4.8" ry="3.8"/><ellipse cx="203.05" cy="128.74" rx="4.8" ry="3.8"/><ellipse cx="237.7" cy="105.8" rx="4.8" ry="3.8"/><ellipse cx="155.82" cy="148.8" rx="4.8" ry="3.8"/><ellipse cx="176.15" cy="139.09" rx="4.8" ry="3.8"/><ellipse cx="165.27" cy="155.54" rx="4.8" ry="3.8"/><ellipse cx="182.14" cy="149.66" rx="4.8" ry="3.8"/><ellipse cx="200.48" cy="122.37" rx="4.8" ry="3.8"/><ellipse cx="174.56" cy="122.82" rx="4.8" ry="3.8"/><ellipse cx="206.8" cy="144.55" rx="4.8" ry="3.8"/><ellipse cx="179.09" cy="143.83" rx="4.8" ry="3.8"/><ellipse cx="173.97" cy="150.12" rx="4.8" ry="3.8"/><ellipse cx="166.57" cy="152.63" rx="4.8" ry="3.8"/><ellipse cx="152.83" cy="154.04" rx="4.8" ry="3.8"/><ellipse cx="176.87" cy="145.23" rx="4.8" ry="3.8"/><ellipse cx="213.39" cy="100.55" rx="4.8" ry="3.8"/><ellipse cx="174.58" cy="141.89" rx="4.8" ry="3.8"/><ellipse cx="167.82" cy="146.11" rx="4.8" ry="3.8"/><ellipse cx="195.4" cy="130.4" rx="4.8" ry="3.8"/><ellipse cx="179.01" cy="127.67" rx="4.8" ry="3.8"/><ellipse cx="203.93" cy="111.14" rx="4.8" ry="3.8"/><ellipse cx="145.3" cy="162.72" rx="4.8" ry="3.8"/><ellipse cx="228.98" cy="125.02" rx="4.8" ry="3.8"/><ellipse cx="158.89" cy="160.01" rx="4.8" ry="3.8"/><ellipse cx="204.9" cy="117.37" rx="4.8" ry="3.8"/><ellipse cx="154.98" cy="139.78" rx="4.8" ry="3.8"/><ellipse cx="186.38" cy="126.21" rx="4.8" ry="3.8"/><ellipse cx="151.88" cy="157.9" rx="4.8" ry="3.8"/><ellipse cx="270.32" cy="94.24" rx="4.8" ry="3.8"/><ellipse cx="190.33" cy="125.86" rx="4.8" ry="3.8"/><ellipse cx="161.13" cy="136.67" rx="4.8" ry="3.8"/><ellipse cx="139.2" cy="148.75" rx="4.8" ry="3.8"/><ellipse cx="197.78" cy="104.14" rx="4.8" ry="3.8"/><ellipse cx="199.55" cy="114.04" rx="4.8" ry="3.8"/><ellipse cx="220.02" cy="132.7" rx="4.8" ry="3.8"/><ellipse cx="199.86" cy="138.22" rx="4.8" ry="3.8"/><ellipse cx="135.36" cy="156.67" rx="4.8" ry="3.8"/><ellipse cx="194.49" cy="147.68" rx="4.8" ry="3.8"/><ellipse cx="176.38" cy="138.15" rx="4.8" ry="3.8"/><ellipse cx="188.2" cy="148.93" rx="4.8" ry="3.8"/><ellipse cx="185.33" cy="145.66" rx="4.8" ry="3.8"/><ellipse cx="197.01" cy="152.07" rx="4.8" ry="3.8"/><ellipse cx="166.16" cy="159.64" rx="4.8" ry="3.8"/><ellipse cx="180.14" cy="147.48" rx="4.8" ry="3.8"/><ellipse cx="208.34" cy="126.53" rx="4.8" ry="3.8"/><ellipse cx="197.68" cy="150.41" rx="4.8" ry="3.8"/><ellipse cx="184.4" cy="129.29" rx="4.8" ry="3.8"/><ellipse cx="208.19" cy="104.14" rx="4.8" ry="3.8"/><ellipse cx="178.05" cy="127.62" rx="4.8" ry="3.8"/><ellipse cx="215.76" cy="136.81" rx="4.8" ry="3.8"/><ellipse cx="179.16" cy="163.34" rx="4.8" ry="3.8"/><ellipse cx="193.57" cy="127.64" rx="4.8" ry="3.8"/><ellipse cx="170.46" cy="122.74" rx="4.8" ry="3.8"/><ellipse cx="158.82" cy="170.41" rx="4.8" ry="3.8"/><ellipse cx="162.79" cy="139.78" rx="4.8" ry="3.8"/><ellipse cx="168.79" cy="125" rx="4.8" ry="3.8"/><ellipse cx="170.9" cy="143.5" rx="4.8" ry="3.8"/><ellipse cx="205.69" cy="135.72" rx="4.8" ry="3.8"/><ellipse cx="240.31" cy="127.75" rx="4.8" ry="3.8"/><ellipse cx="186.99" cy="163.54" rx="4.8" ry="3.8"/><ellipse cx="164.08" cy="133.34" rx="4.8" ry="3.8"/><ellipse cx="167.64" cy="159.9" rx="4.8" ry="3.8"/><ellipse cx="200.72" cy="137.29" rx="4.8" ry="3.8"/><ellipse cx="224.7" cy="119.04" rx="4.8" ry="3.8"/><ellipse cx="246.49" cy="100.34" rx="4.8" ry="3.8"/><ellipse cx="192.59" cy="132.49" rx="4.8" ry="3.8"/><ellipse cx="165.11" cy="146.54" rx="4.8" ry="3.8"/><ellipse cx="222.56" cy="120.97" rx="4.8" ry="3.8"/><ellipse cx="226.62" cy="108.77" rx="4.8" ry="3.8"/><ellipse cx="192.36" cy="126.03" rx="4.8" ry="3.8"/><ellipse cx="183.35" cy="135.6" rx="4.8" ry="3.8"/><ellipse cx="238.18" cy="121.36" rx="4.8" ry="3.8"/><ellipse cx="195.8" cy="111.75" rx="4.8" ry="3.8"/><ellipse cx="176.63" cy="148.72" rx="4.8" ry="3.8"/><ellipse cx="223.21" cy="109.93" rx="4.8" ry="3.8"/><ellipse cx="192.34" cy="116.31" rx="4.8" ry="3.8"/><ellipse cx="195.03" cy="123.19" rx="4.8" ry="3.8"/><ellipse cx="216.08" cy="103.88" rx="4.8" ry="3.8"/><ellipse cx="188.02" cy="135.95" rx="4.8" ry="3.8"/><ellipse cx="188.32" cy="140.61" rx="4.8" ry="3.8"/><ellipse cx="173.3" cy="134.56" rx="4.8" ry="3.8"/><ellipse cx="197.86" cy="110.7" rx="4.8" ry="3.8"/><ellipse cx="165.37" cy="134.3" rx="4.8" ry="3.8"/><ellipse cx="190.88" cy="116.08" rx="4.8" ry="3.8"/><ellipse cx="215.32" cy="117.38" rx="4.8" ry="3.8"/><ellipse cx="168.86" cy="114.32" rx="4.8" ry="3.8"/><ellipse cx="200.14" cy="132.7" rx="4.8" ry="3.8"/><ellipse cx="151.82" cy="158.51" rx="4.8" ry="3.8"/><ellipse cx="218.03" cy="116.38" rx="4.8" ry="3.8"/><ellipse cx="177.41" cy="154.62" rx="4.8" ry="3.8"/><ellipse cx="188.89" cy="119.7" rx="4.8" ry="3.8"/><ellipse cx="160.14" cy="146.85" rx="4.8" ry="3.8"/><ellipse cx="197.28" cy="114.43" rx="4.8" ry="3.8"/><ellipse cx="257.49" cy="98" rx="4.8" ry="3.8"/><ellipse cx="211.91" cy="104.41" rx="4.8" ry="3.8"/><ellipse cx="204.22" cy="114.43" rx="4.8" ry="3.8"/><ellipse cx="197.01" cy="136.68" rx="4.8" ry="3.8"/><ellipse cx="203.69" cy="123.1" rx="4.8" ry="3.8"/><ellipse cx="227.23" cy="102.86" rx="4.8" ry="3.8"/><ellipse cx="198.86" cy="126.07" rx="4.8" ry="3.8"/><ellipse cx="177.35" cy="113.36" rx="4.8" ry="3.8"/><ellipse cx="207.48" cy="105.98" rx="4.8" ry="3.8"/><ellipse cx="199.3" cy="113.72" rx="4.8" ry="3.8"/><ellipse cx="155.8" cy="142.58" rx="4.8" ry="3.8"/><ellipse cx="217.93" cy="117.46" rx="4.8" ry="3.8"/><ellipse cx="216.65" cy="96.85" rx="4.8" ry="3.8"/><ellipse cx="180" cy="108.25" rx="4.8" ry="3.8"/><ellipse cx="169.41" cy="143.08" rx="4.8" ry="3.8"/><ellipse cx="198.39" cy="98.58" rx="4.8" ry="3.8"/><ellipse cx="209.2" cy="127.33" rx="4.8" ry="3.8"/><ellipse cx="188.31" cy="144.28" rx="4.8" ry="3.8"/><ellipse cx="152.1" cy="157.38" rx="4.8" ry="3.8"/><ellipse cx="200.24" cy="119.22" rx="4.8" ry="3.8"/><ellipse cx="163.22" cy="150.82" rx="4.8" ry="3.8"/><ellipse cx="158.23" cy="155.39" rx="4.8" ry="3.8"/><ellipse cx="184.25" cy="123.42" rx="4.8" ry="3.8"/><ellipse cx="186.59" cy="125.59" rx="4.8" ry="3.8"/><ellipse cx="160.6" cy="173.07" rx="4.8" ry="3.8"/><ellipse cx="193.95" cy="154.83" rx="4.8" ry="3.8"/><ellipse cx="172.18" cy="142.25" rx="4.8" ry="3.8"/><ellipse cx="165.51" cy="163.74" rx="4.8" ry="3.8"/><ellipse cx="208.98" cy="128.45" rx="4.8" ry="3.8"/><ellipse cx="184.88" cy="107.79" rx="4.8" ry="3.8"/><ellipse cx="217.88" cy="109.06" rx="4.8" ry="3.8"/><ellipse cx="225.64" cy="121.05" rx="4.8" ry="3.8"/><ellipse cx="175.99" cy="131.6" rx="4.8" ry="3.8"/><ellipse cx="192.42" cy="117.97" rx="4.8" ry="3.8"/><ellipse cx="190.05" cy="137.26" rx="4.8" ry="3.8"/><ellipse cx="208.65" cy="94.58" rx="4.8" ry="3.8"/><ellipse cx="164.14" cy="147.32" rx="4.8" ry="3.8"/><ellipse cx="173.25" cy="152.3" rx="4.8" ry="3.8"/><ellipse cx="184.66" cy="131.86" rx="4.8" ry="3.8"/><ellipse cx="240.59" cy="93.46" rx="4.8" ry="3.8"/><ellipse cx="178.52" cy="137.4" rx="4.8" ry="3.8"/><ellipse cx="189.57" cy="139.31" rx="4.8" ry="3.8"/><ellipse cx="158.97" cy="132.7" rx="4.8" ry="3.8"/><ellipse cx="145.56" cy="140.76" rx="4.8" ry="3.8"/><ellipse cx="163.03" cy="120.48" rx="4.8" ry="3.8"/><ellipse cx="123.33" cy="151.82" rx="4.8" ry="3.8"/><ellipse cx="128.43" cy="162.75" rx="4.8" ry="3.8"/><ellipse cx="174.26" cy="153.68" rx="4.8" ry="3.8"/><ellipse cx="179.22" cy="121.53" rx="4.8" ry="3.8"/><ellipse cx="228.93" cy="100.54" rx="4.8" ry="3.8"/><ellipse cx="160.1" cy="162.17" rx="4.8" ry="3.8"/><ellipse cx="194.73" cy="135.74" rx="4.8" ry="3.8"/><ellipse cx="192.03" cy="117.99" rx="4.8" ry="3.8"/><ellipse cx="219.59" cy="116.57" rx="4.8" ry="3.8"/><ellipse cx="186.18" cy="116.72" rx="4.8" ry="3.8"/><ellipse cx="207.93" cy="124.73" rx="4.8" ry="3.8"/><ellipse cx="196.64" cy="130.8" rx="4.8" ry="3.8"/><ellipse cx="173.93" cy="133.9" rx="4.8" ry="3.8"/><ellipse cx="185.51" cy="141.19" rx="4.8" ry="3.8"/><ellipse cx="149.5" cy="175.21" rx="4.8" ry="3.8"/><ellipse cx="191.48" cy="134.98" rx="4.8" ry="3.8"/><ellipse cx="211.6" cy="114.2" rx="4.8" ry="3.8"/><ellipse cx="180.51" cy="127.7" rx="4.8" ry="3.8"/><ellipse cx="153.36" cy="143.15" rx="4.8" ry="3.8"/><ellipse cx="156.6" cy="148.64" rx="4.8" ry="3.8"/><ellipse cx="194.31" cy="86.19" rx="4.8" ry="3.8"/><ellipse cx="184.35" cy="139.43" rx="4.8" ry="3.8"/><ellipse cx="211.04" cy="106.14" rx="4.8" ry="3.8"/><ellipse cx="192.06" cy="130.54" rx="4.8" ry="3.8"/><ellipse cx="221.76" cy="120.64" rx="4.8" ry="3.8"/><ellipse cx="134.23" cy="162.8" rx="4.8" ry="3.8"/><ellipse cx="184.72" cy="126.37" rx="4.8" ry="3.8"/><ellipse cx="193.2" cy="122.21" rx="4.8" ry="3.8"/><ellipse cx="200.98" cy="105.55" rx="4.8" ry="3.8"/><ellipse cx="128.22" cy="155.59" rx="4.8" ry="3.8"/><ellipse cx="183.04" cy="146.51" rx="4.8" ry="3.8"/><ellipse cx="235.27" cy="109.89" rx="4.8" ry="3.8"/><ellipse cx="157.2" cy="154.95" rx="4.8" ry="3.8"/><ellipse cx="165.11" cy="129.66" rx="4.8" ry="3.8"/><ellipse cx="146.15" cy="171.97" rx="4.8" ry="3.8"/><ellipse cx="149.32" cy="152.74" rx="4.8" ry="3.8"/><ellipse cx="205.3" cy="124.66" rx="4.8" ry="3.8"/><ellipse cx="177.55" cy="145.59" rx="4.8" ry="3.8"/><ellipse cx="211.83" cy="112.1" rx="4.8" ry="3.8"/><ellipse cx="166.33" cy="142.28" rx="4.8" ry="3.8"/><ellipse cx="182.11" cy="121.2" rx="4.8" ry="3.8"/><ellipse cx="191.51" cy="142.85" rx="4.8" ry="3.8"/><ellipse cx="227.17" cy="123.18" rx="4.8" ry="3.8"/><ellipse cx="167.4" cy="132.68" rx="4.8" ry="3.8"/><ellipse cx="136.21" cy="151.36" rx="4.8" ry="3.8"/><ellipse cx="175.18" cy="125.99" rx="4.8" ry="3.8"/><ellipse cx="173.64" cy="138.89" rx="4.8" ry="3.8"/><ellipse cx="169.54" cy="130.21" rx="4.8" ry="3.8"/><ellipse cx="172.63" cy="117.57" rx="4.8" ry="3.8"/><ellipse cx="224.52" cy="113.87" rx="4.8" ry="3.8"/><ellipse cx="174.61" cy="148.27" rx="4.8" ry="3.8"/><ellipse cx="173.03" cy="124.63" rx="4.8" ry="3.8"/><ellipse cx="174.36" cy="147.04" rx="4.8" ry="3.8"/><ellipse cx="150.03" cy="130.07" rx="4.8" ry="3.8"/><ellipse cx="187.66" cy="137.99" rx="4.8" ry="3.8"/><ellipse cx="221.93" cy="99.02" rx="4.8" ry="3.8"/><ellipse cx="212.58" cy="128.9" rx="4.8" ry="3.8"/><ellipse cx="156.86" cy="156.31" rx="4.8" ry="3.8"/><ellipse cx="196.66" cy="113.02" rx="4.8" ry="3.8"/><ellipse cx="229.42" cy="87.38" rx="4.8" ry="3.8"/><ellipse cx="197.6" cy="135.24" rx="4.8" ry="3.8"/><ellipse cx="146.58" cy="152.98" rx="4.8" ry="3.8"/><ellipse cx="222.7" cy="96.27" rx="4.8" ry="3.8"/><ellipse cx="173.97" cy="143.42" rx="4.8" ry="3.8"/><ellipse cx="190.66" cy="154.41" rx="4.8" ry="3.8"/><ellipse cx="139.54" cy="162.5" rx="4.8" ry="3.8"/><ellipse cx="169.64" cy="122.15" rx="4.8" ry="3.8"/><ellipse cx="229.22" cy="89.92" rx="4.8" ry="3.8"/><ellipse cx="195.76" cy="109.94" rx="4.8" ry="3.8"/><ellipse cx="186.84" cy="139.38" rx="4.8" ry="3.8"/><ellipse cx="174.2" cy="139.35" rx="4.8" ry="3.8"/><ellipse cx="224.11" cy="107.24" rx="4.8" ry="3.8"/><ellipse cx="208.77" cy="121.16" rx="4.8" ry="3.8"/><ellipse cx="216.03" cy="126.37" rx="4.8" ry="3.8"/><ellipse cx="156.75" cy="127.72" rx="4.8" ry="3.8"/><ellipse cx="208.57" cy="98.49" rx="4.8" ry="3.8"/><ellipse cx="226.75" cy="119.65" rx="4.8" ry="3.8"/><ellipse cx="204.93" cy="111.23" rx="4.8" ry="3.8"/><ellipse cx="223.3" cy="104.06" rx="4.8" ry="3.8"/><ellipse cx="206.31" cy="117.07" rx="4.8" ry="3.8"/><ellipse cx="224.12" cy="119.23" rx="4.8" ry="3.8"/><ellipse cx="203.8" cy="144.92" rx="4.8" ry="3.8"/><ellipse cx="171.57" cy="145.3" rx="4.8" ry="3.8"/><ellipse cx="186.2" cy="130.01" rx="4.8" ry="3.8"/><ellipse cx="161.1" cy="152.54" rx="4.8" ry="3.8"/><ellipse cx="157.41" cy="134.14" rx="4.8" ry="3.8"/><ellipse cx="140.12" cy="160.74" rx="4.8" ry="3.8"/><ellipse cx="116.56" cy="165.35" rx="4.8" ry="3.8"/><ellipse cx="123.85" cy="161.14" rx="4.8" ry="3.8"/><ellipse cx="188.48" cy="122.86" rx="4.8" ry="3.8"/><ellipse cx="157.91" cy="141.28" rx="4.8" ry="3.8"/><ellipse cx="232.51" cy="128.84" rx="4.8" ry="3.8"/><ellipse cx="175.24" cy="143.12" rx="4.8" ry="3.8"/><ellipse cx="202.57" cy="107.91" rx="4.8" ry="3.8"/><ellipse cx="201.78" cy="120.2" rx="4.8" ry="3.8"/><ellipse cx="209.93" cy="128.29" rx="4.8" ry="3.8"/><ellipse cx="182.33" cy="134.01" rx="4.8" ry="3.8"/><ellipse cx="171.51" cy="127.53" rx="4.8" ry="3.8"/><ellipse cx="193.35" cy="128.4" rx="4.8" ry="3.8"/><ellipse cx="219.52" cy="113.03" rx="4.8" ry="3.8"/><ellipse cx="161.11" cy="148.86" rx="4.8" ry="3.8"/><ellipse cx="169" cy="103.9" rx="4.8" ry="3.8"/><ellipse cx="221.61" cy="106.28" rx="4.8" ry="3.8"/><ellipse cx="124.45" cy="169.33" rx="4.8" ry="3.8"/><ellipse cx="168.55" cy="135.86" rx="4.8" ry="3.8"/><ellipse cx="126.31" cy="163.57" rx="4.8" ry="3.8"/><ellipse cx="188.4" cy="152.96" rx="4.8" ry="3.8"/><ellipse cx="181.95" cy="145.33" rx="4.8" ry="3.8"/><ellipse cx="175.58" cy="136.9" rx="4.8" ry="3.8"/><ellipse cx="206.76" cy="103.7" rx="4.8" ry="3.8"/><ellipse cx="169.37" cy="136.18" rx="4.8" ry="3.8"/><ellipse cx="211.77" cy="114.29" rx="4.8" ry="3.8"/><ellipse cx="206.84" cy="129.4" rx="4.8" ry="3.8"/><ellipse cx="197.27" cy="128.14" rx="4.8" ry="3.8"/><ellipse cx="207.36" cy="113.9" rx="4.8" ry="3.8"/><ellipse cx="229.04" cy="140.04" rx="4.8" ry="3.8"/><ellipse cx="148.2" cy="128.39" rx="4.8" ry="3.8"/><ellipse cx="178.23" cy="130.23" rx="4.8" ry="3.8"/><ellipse cx="212.19" cy="116.03" rx="4.8" ry="3.8"/><ellipse cx="153.21" cy="148.75" rx="4.8" ry="3.8"/><ellipse cx="120.87" cy="160.14" rx="4.8" ry="3.8"/><ellipse cx="190.73" cy="124.38" rx="4.8" ry="3.8"/><ellipse cx="178.41" cy="146.64" rx="4.8" ry="3.8"/><ellipse cx="196.05" cy="147.49" rx="4.8" ry="3.8"/><ellipse cx="172.54" cy="148.53" rx="4.8" ry="3.8"/><ellipse cx="231.91" cy="92.44" rx="4.8" ry="3.8"/><ellipse cx="165.15" cy="140.64" rx="4.8" ry="3.8"/><ellipse cx="125.2" cy="164.85" rx="4.8" ry="3.8"/><ellipse cx="174.74" cy="150.31" rx="4.8" ry="3.8"/><ellipse cx="166.31" cy="156.4" rx="4.8" ry="3.8"/><ellipse cx="159.94" cy="136.76" rx="4.8" ry="3.8"/><ellipse cx="224.38" cy="103.13" rx="4.8" ry="3.8"/><ellipse cx="214.28" cy="123.23" rx="4.8" ry="3.8"/><ellipse cx="179.52" cy="136.48" rx="4.8" ry="3.8"/><ellipse cx="166.96" cy="140.58" rx="4.8" ry="3.8"/><ellipse cx="148.28" cy="167.59" rx="4.8" ry="3.8"/><ellipse cx="195.9" cy="122.32" rx="4.8" ry="3.8"/><ellipse cx="185.7" cy="138.72" rx="4.8" ry="3.8"/><ellipse cx="155.58" cy="168.59" rx="4.8" ry="3.8"/><ellipse cx="143.33" cy="161.67" rx="4.8" ry="3.8"/><ellipse cx="168.42" cy="144.71" rx="4.8" ry="3.8"/><ellipse cx="172.19" cy="163.6" rx="4.8" ry="3.8"/><ellipse cx="159.05" cy="145.01" rx="4.8" ry="3.8"/><ellipse cx="161.31" cy="145.61" rx="4.8" ry="3.8"/><ellipse cx="173.98" cy="139.35" rx="4.8" ry="3.8"/><ellipse cx="141.38" cy="152.77" rx="4.8" ry="3.8"/><ellipse cx="156.4" cy="141.62" rx="4.8" ry="3.8"/><ellipse cx="184.85" cy="139.3" rx="4.8" ry="3.8"/><ellipse cx="187.1" cy="117.51" rx="4.8" ry="3.8"/><ellipse cx="166.58" cy="148.19" rx="4.8" ry="3.8"/><ellipse cx="173.82" cy="135.75" rx="4.8" ry="3.8"/><ellipse cx="179.15" cy="167.09" rx="4.8" ry="3.8"/><ellipse cx="190.46" cy="128.18" rx="4.8" ry="3.8"/><ellipse cx="219.08" cy="113.49" rx="4.8" ry="3.8"/><ellipse cx="163.68" cy="142.59" rx="4.8" ry="3.8"/><ellipse cx="155.52" cy="125.74" rx="4.8" ry="3.8"/><ellipse cx="214.64" cy="94.02" rx="4.8" ry="3.8"/><ellipse cx="135.81" cy="143.74" rx="4.8" ry="3.8"/><ellipse cx="198.43" cy="149.91" rx="4.8" ry="3.8"/><ellipse cx="223.64" cy="116.46" rx="4.8" ry="3.8"/><ellipse cx="206.69" cy="120.03" rx="4.8" ry="3.8"/><ellipse cx="186.65" cy="123.49" rx="4.8" ry="3.8"/><ellipse cx="141.69" cy="168.31" rx="4.8" ry="3.8"/><ellipse cx="192.36" cy="111.83" rx="4.8" ry="3.8"/><ellipse cx="233.75" cy="96.52" rx="4.8" ry="3.8"/><ellipse cx="184.85" cy="158.25" rx="4.8" ry="3.8"/><ellipse cx="210.46" cy="144.12" rx="4.8" ry="3.8"/><ellipse cx="208.09" cy="100.84" rx="4.8" ry="3.8"/><ellipse cx="165.5" cy="170.19" rx="4.8" ry="3.8"/><ellipse cx="199.73" cy="97.18" rx="4.8" ry="3.8"/><ellipse cx="224.13" cy="102.96" rx="4.8" ry="3.8"/><ellipse cx="247.7" cy="134.3" rx="4.8" ry="3.8"/><ellipse cx="190.64" cy="102.33" rx="4.8" ry="3.8"/><ellipse cx="249.75" cy="94.92" rx="4.8" ry="3.8"/><ellipse cx="223.75" cy="101.91" rx="4.8" ry="3.8"/><ellipse cx="179.01" cy="142.58" rx="4.8" ry="3.8"/><ellipse cx="240.68" cy="107.67" rx="4.8" ry="3.8"/><ellipse cx="191.95" cy="129.4" rx="4.8" ry="3.8"/><ellipse cx="236.81" cy="104.6" rx="4.8" ry="3.8"/><ellipse cx="162.72" cy="148.11" rx="4.8" ry="3.8"/><ellipse cx="190.24" cy="89.72" rx="4.8" ry="3.8"/><ellipse cx="159.52" cy="124.95" rx="4.8" ry="3.8"/><ellipse cx="207.94" cy="108.82" rx="4.8" ry="3.8"/><ellipse cx="203.84" cy="102.72" rx="4.8" ry="3.8"/><ellipse cx="223.36" cy="116.77" rx="4.8" ry="3.8"/><ellipse cx="163.2" cy="135.13" rx="4.8" ry="3.8"/><ellipse cx="170.82" cy="135.04" rx="4.8" ry="3.8"/><ellipse cx="220.14" cy="127.22" rx="4.8" ry="3.8"/><ellipse cx="202.71" cy="122.21" rx="4.8" ry="3.8"/><ellipse cx="218.5" cy="107.07" rx="4.8" ry="3.8"/><ellipse cx="205.03" cy="121.37" rx="4.8" ry="3.8"/><ellipse cx="167.9" cy="162.36" rx="4.8" ry="3.8"/><ellipse cx="174.07" cy="154.33" rx="4.8" ry="3.8"/><ellipse cx="217.59" cy="129.11" rx="4.8" ry="3.8"/><ellipse cx="199.72" cy="155.04" rx="4.8" ry="3.8"/><ellipse cx="162.03" cy="139.72" rx="4.8" ry="3.8"/><ellipse cx="193.18" cy="126.81" rx="4.8" ry="3.8"/><ellipse cx="131.36" cy="173.99" rx="4.8" ry="3.8"/><ellipse cx="225.18" cy="116.54" rx="4.8" ry="3.8"/><ellipse cx="189.02" cy="124.59" rx="4.8" ry="3.8"/><ellipse cx="140.87" cy="152.35" rx="4.8" ry="3.8"/><ellipse cx="175.26" cy="150.77" rx="4.8" ry="3.8"/><ellipse cx="154.46" cy="165.95" rx="4.8" ry="3.8"/><ellipse cx="233.59" cy="104.46" rx="4.8" ry="3.8"/><ellipse cx="188.41" cy="112.62" rx="4.8" ry="3.8"/><ellipse cx="155.3" cy="154.62" rx="4.8" ry="3.8"/><ellipse cx="143.87" cy="157.93" rx="4.8" ry="3.8"/><ellipse cx="160.77" cy="160.54" rx="4.8" ry="3.8"/><ellipse cx="191.16" cy="111.43" rx="4.8" ry="3.8"/><ellipse cx="249.15" cy="120.63" rx="4.8" ry="3.8"/><ellipse cx="150.77" cy="154.94" rx="4.8" ry="3.8"/><ellipse cx="200.52" cy="108.67" rx="4.8" ry="3.8"/><ellipse cx="148.28" cy="156.04" rx="4.8" ry="3.8"/><ellipse cx="164.05" cy="135.39" rx="4.8" ry="3.8"/><ellipse cx="143.06" cy="150.48" rx="4.8" ry="3.8"/><ellipse cx="128.58" cy="150.06" rx="4.8" ry="3.8"/><ellipse cx="211.41" cy="136.92" rx="4.8" ry="3.8"/><ellipse cx="196.32" cy="126.2" rx="4.8" ry="3.8"/><ellipse cx="150.99" cy="134.02" rx="4.8" ry="3.8"/><ellipse cx="179.94" cy="125.37" rx="4.8" ry="3.8"/><ellipse cx="230.17" cy="106.68" rx="4.8" ry="3.8"/><ellipse cx="194.94" cy="120.34" rx="4.8" ry="3.8"/><ellipse cx="210.75" cy="99.85" rx="4.8" ry="3.8"/><ellipse cx="211.09" cy="114.83" rx="4.8" ry="3.8"/><ellipse cx="168.68" cy="132.99" rx="4.8" ry="3.8"/><ellipse cx="186.53" cy="136.59" rx="4.8" ry="3.8"/><ellipse cx="204.9" cy="101.16" rx="4.8" ry="3.8"/><ellipse cx="210.33" cy="115.07" rx="4.8" ry="3.8"/><ellipse cx="219.85" cy="99.68" rx="4.8" ry="3.8"/><ellipse cx="168.83" cy="164.73" rx="4.8" ry="3.8"/><ellipse cx="163.14" cy="156.19" rx="4.8" ry="3.8"/><ellipse cx="193.07" cy="142.32" rx="4.8" ry="3.8"/><ellipse cx="175.77" cy="126.35" rx="4.8" ry="3.8"/><ellipse cx="140.74" cy="163.54" rx="4.8" ry="3.8"/><ellipse cx="124.72" cy="170.48" rx="4.8" ry="3.8"/><ellipse cx="175.91" cy="152.97" rx="4.8" ry="3.8"/><ellipse cx="178.85" cy="132.94" rx="4.8" ry="3.8"/><ellipse cx="155.26" cy="166.86" rx="4.8" ry="3.8"/><ellipse cx="225.05" cy="123.25" rx="4.8" ry="3.8"/><ellipse cx="190.7" cy="144.15" rx="4.8" ry="3.8"/><ellipse cx="200.75" cy="134.76" rx="4.8" ry="3.8"/><ellipse cx="194.64" cy="141.57" rx="4.8" ry="3.8"/><ellipse cx="128.93" cy="160.81" rx="4.8" ry="3.8"/><ellipse cx="141.42" cy="158.74" rx="4.8" ry="3.8"/><ellipse cx="168.18" cy="159.56" rx="4.8" ry="3.8"/><ellipse cx="133.67" cy="152.13" rx="4.8" ry="3.8"/><ellipse cx="232.88" cy="92.15" rx="4.8" ry="3.8"/><ellipse cx="191.94" cy="128.61" rx="4.8" ry="3.8"/><ellipse cx="226.64" cy="100.3" rx="4.8" ry="3.8"/><ellipse cx="151.16" cy="133.57" rx="4.8" ry="3.8"/><ellipse cx="150.03" cy="144.4" rx="4.8" ry="3.8"/><ellipse cx="183.66" cy="129.15" rx="4.8" ry="3.8"/><ellipse cx="166.13" cy="131.76" rx="4.8" ry="3.8"/><ellipse cx="187.68" cy="133.31" rx="4.8" ry="3.8"/><ellipse cx="175.5" cy="130.17" rx="4.8" ry="3.8"/><ellipse cx="154.93" cy="165.44" rx="4.8" ry="3.8"/><ellipse cx="208.37" cy="114.17" rx="4.8" ry="3.8"/><ellipse cx="144.54" cy="148.37" rx="4.8" ry="3.8"/><ellipse cx="187.2" cy="127.87" rx="4.8" ry="3.8"/><ellipse cx="177.7" cy="153.15" rx="4.8" ry="3.8"/><ellipse cx="159.76" cy="156.1" rx="4.8" ry="3.8"/><ellipse cx="165.45" cy="131.25" rx="4.8" ry="3.8"/><ellipse cx="208.84" cy="113.77" rx="4.8" ry="3.8"/><ellipse cx="178.01" cy="148.73" rx="4.8" ry="3.8"/><ellipse cx="176.49" cy="115.51" rx="4.8" ry="3.8"/><ellipse cx="229.59" cy="100.06" rx="4.8" ry="3.8"/><ellipse cx="203.88" cy="117.62" rx="4.8" ry="3.8"/><ellipse cx="145.45" cy="146.78" rx="4.8" ry="3.8"/><ellipse cx="202.27" cy="105.96" rx="4.8" ry="3.8"/><ellipse cx="212.9" cy="87.36" rx="4.8" ry="3.8"/><ellipse cx="164.31" cy="166.68" rx="4.8" ry="3.8"/><ellipse cx="173.01" cy="151.07" rx="4.8" ry="3.8"/><ellipse cx="239.43" cy="81.53" rx="4.8" ry="3.8"/><ellipse cx="187.98" cy="125.62" rx="4.8" ry="3.8"/><ellipse cx="213.67" cy="99.45" rx="4.8" ry="3.8"/><ellipse cx="171.87" cy="150.53" rx="4.8" ry="3.8"/><ellipse cx="159.06" cy="147.62" rx="4.8" ry="3.8"/><ellipse cx="181.4" cy="139.42" rx="4.8" ry="3.8"/><ellipse cx="163.04" cy="145.7" rx="4.8" ry="3.8"/><ellipse cx="168.34" cy="128.72" rx="4.8" ry="3.8"/><ellipse cx="238.33" cy="115.21" rx="4.8" ry="3.8"/><ellipse cx="215.15" cy="91.65" rx="4.8" ry="3.8"/><ellipse cx="180.61" cy="123.56" rx="4.8" ry="3.8"/><ellipse cx="170.9" cy="149.84" rx="4.8" ry="3.8"/><ellipse cx="180.57" cy="157.21" rx="4.8" ry="3.8"/><ellipse cx="143.74" cy="146.42" rx="4.8" ry="3.8"/><ellipse cx="221.1" cy="86.29" rx="4.8" ry="3.8"/><ellipse cx="254.77" cy="95.32" rx="4.8" ry="3.8"/><ellipse cx="180.25" cy="149.28" rx="4.8" ry="3.8"/><ellipse cx="115.73" cy="163.03" rx="4.8" ry="3.8"/><ellipse cx="190" cy="143.76" rx="4.8" ry="3.8"/><ellipse cx="198.18" cy="121.1" rx="4.8" ry="3.8"/><ellipse cx="246.68" cy="92.3" rx="4.8" ry="3.8"/><ellipse cx="191.11" cy="131.06" rx="4.8" ry="3.8"/><ellipse cx="139.03" cy="173.24" rx="4.8" ry="3.8"/><ellipse cx="179.03" cy="140.84" rx="4.8" ry="3.8"/><ellipse cx="212.5" cy="114.48" rx="4.8" ry="3.8"/><ellipse cx="206.96" cy="97.65" rx="4.8" ry="3.8"/><ellipse cx="195.09" cy="132.49" rx="4.8" ry="3.8"/><ellipse cx="134.62" cy="164.14" rx="4.8" ry="3.8"/><ellipse cx="165.6" cy="130.37" rx="4.8" ry="3.8"/><ellipse cx="219.48" cy="99.03" rx="4.8" ry="3.8"/><ellipse cx="213.14" cy="123.09" rx="4.8" ry="3.8"/><ellipse cx="175.07" cy="146.64" rx="4.8" ry="3.8"/><ellipse cx="246.39" cy="112.52" rx="4.8" ry="3.8"/><ellipse cx="208.15" cy="128.75" rx="4.8" ry="3.8"/><ellipse cx="194.96" cy="122.21" rx="4.8" ry="3.8"/><ellipse cx="147.44" cy="153.45" rx="4.8" ry="3.8"/><ellipse cx="206.82" cy="110.38" rx="4.8" ry="3.8"/><ellipse cx="155.88" cy="151.86" rx="4.8" ry="3.8"/><ellipse cx="212.96" cy="112.51" rx="4.8" ry="3.8"/><ellipse cx="188.14" cy="104.56" rx="4.8" ry="3.8"/><ellipse cx="183.61" cy="102.66" rx="4.8" ry="3.8"/><ellipse cx="131.79" cy="157.16" rx="4.8" ry="3.8"/><ellipse cx="164.84" cy="143.58" rx="4.8" ry="3.8"/><ellipse cx="197.58" cy="116.77" rx="4.8" ry="3.8"/><ellipse cx="190.06" cy="141.15" rx="4.8" ry="3.8"/><ellipse cx="193.96" cy="131.2" rx="4.8" ry="3.8"/><ellipse cx="174.02" cy="159.73" rx="4.8" ry="3.8"/><ellipse cx="181.71" cy="140.18" rx="4.8" ry="3.8"/><ellipse cx="224.54" cy="104.64" rx="4.8" ry="3.8"/><ellipse cx="150.68" cy="166.67" rx="4.8" ry="3.8"/><ellipse cx="159.3" cy="144.54" rx="4.8" ry="3.8"/><ellipse cx="188.16" cy="132.34" rx="4.8" ry="3.8"/><ellipse cx="173.08" cy="145.89" rx="4.8" ry="3.8"/><ellipse cx="185.88" cy="111.28" rx="4.8" ry="3.8"/><ellipse cx="168.95" cy="147.88" rx="4.8" ry="3.8"/><ellipse cx="191.01" cy="120.7" rx="4.8" ry="3.8"/><ellipse cx="255.27" cy="67.85" rx="4.8" ry="3.8"/><ellipse cx="149.69" cy="151.2" rx="4.8" ry="3.8"/><ellipse cx="171.33" cy="148.95" rx="4.8" ry="3.8"/><ellipse cx="143.59" cy="153.68" rx="4.8" ry="3.8"/><ellipse cx="178.71" cy="149.56" rx="4.8" ry="3.8"/><ellipse cx="250.16" cy="108.17" rx="4.8" ry="3.8"/><ellipse cx="221.28" cy="89.53" rx="4.8" ry="3.8"/><ellipse cx="159.48" cy="150.7" rx="4.8" ry="3.8"/><ellipse cx="197.11" cy="142.43" rx="4.8" ry="3.8"/><ellipse cx="206.28" cy="113.45" rx="4.8" ry="3.8"/><ellipse cx="161.36" cy="116.46" rx="4.8" ry="3.8"/><ellipse cx="170.1" cy="116.98" rx="4.8" ry="3.8"/><ellipse cx="189.6" cy="140.32" rx="4.8" ry="3.8"/><ellipse cx="165.93" cy="141.03" rx="4.8" ry="3.8"/><ellipse cx="187.22" cy="116.59" rx="4.8" ry="3.8"/><ellipse cx="159.61" cy="153.08" rx="4.8" ry="3.8"/><ellipse cx="195.47" cy="149.76" rx="4.8" ry="3.8"/><ellipse cx="173.75" cy="137.55" rx="4.8" ry="3.8"/><ellipse cx="138" cy="165.52" rx="4.8" ry="3.8"/><ellipse cx="211.57" cy="135.68" rx="4.8" ry="3.8"/><ellipse cx="185.29" cy="126.86" rx="4.8" ry="3.8"/><ellipse cx="196.15" cy="139.03" rx="4.8" ry="3.8"/><ellipse cx="164.18" cy="151.58" rx="4.8" ry="3.8"/><ellipse cx="149.49" cy="132.86" rx="4.8" ry="3.8"/><ellipse cx="167.46" cy="135.77" rx="4.8" ry="3.8"/><ellipse cx="174.6" cy="153.83" rx="4.8" ry="3.8"/><ellipse cx="138.54" cy="142.83" rx="4.8" ry="3.8"/><ellipse cx="237.81" cy="95.43" rx="4.8" ry="3.8"/><ellipse cx="206" cy="107.26" rx="4.8" ry="3.8"/><ellipse cx="194.4" cy="99.84" rx="4.8" ry="3.8"/><ellipse cx="144.06" cy="167.18" rx="4.8" ry="3.8"/><ellipse cx="218.34" cy="116.76" rx="4.8" ry="3.8"/><ellipse cx="182.93" cy="130.95" rx="4.8" ry="3.8"/><ellipse cx="183.53" cy="134.45" rx="4.8" ry="3.8"/><ellipse cx="248.25" cy="123.6" rx="4.8" ry="3.8"/><ellipse cx="184.17" cy="121.6" rx="4.8" ry="3.8"/><ellipse cx="206.67" cy="108.6" rx="4.8" ry="3.8"/><ellipse cx="135.45" cy="138.66" rx="4.8" ry="3.8"/><ellipse cx="157.03" cy="134.47" rx="4.8" ry="3.8"/><ellipse cx="210.08" cy="126.49" rx="4.8" ry="3.8"/><ellipse cx="158.6" cy="139.12" rx="4.8" ry="3.8"/><ellipse cx="237.21" cy="92.97" rx="4.8" ry="3.8"/><ellipse cx="149.58" cy="174.18" rx="4.8" ry="3.8"/><ellipse cx="221.57" cy="125.56" rx="4.8" ry="3.8"/><ellipse cx="176.36" cy="142.3" rx="4.8" ry="3.8"/><ellipse cx="244.31" cy="108.61" rx="4.8" ry="3.8"/><ellipse cx="215.54" cy="117.33" rx="4.8" ry="3.8"/><ellipse cx="145.84" cy="140.53" rx="4.8" ry="3.8"/><ellipse cx="165.55" cy="145.13" rx="4.8" ry="3.8"/><ellipse cx="154.41" cy="155.57" rx="4.8" ry="3.8"/><ellipse cx="178.42" cy="130.94" rx="4.8" ry="3.8"/><ellipse cx="128.44" cy="142.06" rx="4.8" ry="3.8"/><ellipse cx="161.96" cy="139.17" rx="4.8" ry="3.8"/><ellipse cx="208.57" cy="138.57" rx="4.8" ry="3.8"/><ellipse cx="197.69" cy="152.33" rx="4.8" ry="3.8"/><ellipse cx="209.87" cy="98.17" rx="4.8" ry="3.8"/><ellipse cx="206.92" cy="108.23" rx="4.8" ry="3.8"/><ellipse cx="126.68" cy="143.35" rx="4.8" ry="3.8"/><ellipse cx="207.95" cy="109.78" rx="4.8" ry="3.8"/><ellipse cx="170.54" cy="129.9" rx="4.8" ry="3.8"/><ellipse cx="198.86" cy="134.76" rx="4.8" ry="3.8"/><ellipse cx="207.15" cy="120.98" rx="4.8" ry="3.8"/><ellipse cx="246.73" cy="125.31" rx="4.8" ry="3.8"/><ellipse cx="150.65" cy="170.39" rx="4.8" ry="3.8"/><ellipse cx="200.01" cy="122.98" rx="4.8" ry="3.8"/><ellipse cx="142.95" cy="162.34" rx="4.8" ry="3.8"/><ellipse cx="160.43" cy="168.6" rx="4.8" ry="3.8"/><ellipse cx="160.18" cy="151.46" rx="4.8" ry="3.8"/><ellipse cx="167.47" cy="144.24" rx="4.8" ry="3.8"/><ellipse cx="202.13" cy="137.37" rx="4.8" ry="3.8"/><ellipse cx="240.44" cy="102.4" rx="4.8" ry="3.8"/><ellipse cx="218.29" cy="103.95" rx="4.8" ry="3.8"/><ellipse cx="139.52" cy="175.89" rx="4.8" ry="3.8"/><ellipse cx="203.82" cy="113.64" rx="4.8" ry="3.8"/><ellipse cx="122.88" cy="166.54" rx="4.8" ry="3.8"/><ellipse cx="128.61" cy="144.86" rx="4.8" ry="3.8"/><ellipse cx="209.23" cy="112.92" rx="4.8" ry="3.8"/><ellipse cx="208" cy="93.26" rx="4.8" ry="3.8"/><ellipse cx="177.15" cy="152.38" rx="4.8" ry="3.8"/><ellipse cx="202.39" cy="112.98" rx="4.8" ry="3.8"/><ellipse cx="196.68" cy="151.86" rx="4.8" ry="3.8"/><ellipse cx="165.01" cy="161.51" rx="4.8" ry="3.8"/><ellipse cx="206.42" cy="122.94" rx="4.8" ry="3.8"/><ellipse cx="197.91" cy="149.73" rx="4.8" ry="3.8"/><ellipse cx="220.43" cy="110.45" rx="4.8" ry="3.8"/><ellipse cx="235.45" cy="122.72" rx="4.8" ry="3.8"/><ellipse cx="129.16" cy="171.73" rx="4.8" ry="3.8"/><ellipse cx="215.83" cy="96.03" rx="4.8" ry="3.8"/><ellipse cx="145.06" cy="155.35" rx="4.8" ry="3.8"/><ellipse cx="140.11" cy="170.52" rx="4.8" ry="3.8"/><ellipse cx="204.7" cy="119.38" rx="4.8" ry="3.8"/><ellipse cx="157.7" cy="152.38" rx="4.8" ry="3.8"/><ellipse cx="198.26" cy="134.89" rx="4.8" ry="3.8"/><ellipse cx="185.22" cy="126.45" rx="4.8" ry="3.8"/><ellipse cx="214.44" cy="107.9" rx="4.8" ry="3.8"/><ellipse cx="166.04" cy="121.54" rx="4.8" ry="3.8"/><ellipse cx="200.62" cy="117.16" rx="4.8" ry="3.8"/><ellipse cx="164.6" cy="155" rx="4.8" ry="3.8"/><ellipse cx="194.91" cy="103.94" rx="4.8" ry="3.8"/><ellipse cx="239.35" cy="95.18" rx="4.8" ry="3.8"/><ellipse cx="235.01" cy="99" rx="4.8" ry="3.8"/><ellipse cx="190.57" cy="134.11" rx="4.8" ry="3.8"/><ellipse cx="151.6" cy="168.15" rx="4.8" ry="3.8"/><ellipse cx="169.01" cy="161.42" rx="4.8" ry="3.8"/><ellipse cx="193.2" cy="101.74" rx="4.8" ry="3.8"/><ellipse cx="182.86" cy="123.3" rx="4.8" ry="3.8"/><ellipse cx="195.72" cy="126.97" rx="4.8" ry="3.8"/><ellipse cx="186.52" cy="151.75" rx="4.8" ry="3.8"/><ellipse cx="175.85" cy="153.48" rx="4.8" ry="3.8"/><ellipse cx="200.51" cy="132.17" rx="4.8" ry="3.8"/><ellipse cx="200.99" cy="102.6" rx="4.8" ry="3.8"/><ellipse cx="181.06" cy="129.3" rx="4.8" ry="3.8"/><ellipse cx="191.99" cy="119.07" rx="4.8" ry="3.8"/><ellipse cx="167.21" cy="123.19" rx="4.8" ry="3.8"/><ellipse cx="247.69" cy="108.53" rx="4.8" ry="3.8"/><ellipse cx="137.56" cy="149.17" rx="4.8" ry="3.8"/><ellipse cx="243.51" cy="97.42" rx="4.8" ry="3.8"/><ellipse cx="142.98" cy="156.27" rx="4.8" ry="3.8"/><ellipse cx="206.05" cy="103.3" rx="4.8" ry="3.8"/><ellipse cx="182.95" cy="126.84" rx="4.8" ry="3.8"/><ellipse cx="145.17" cy="132.09" rx="4.8" ry="3.8"/><ellipse cx="153.42" cy="147" rx="4.8" ry="3.8"/><ellipse cx="213.61" cy="92.92" rx="4.8" ry="3.8"/><ellipse cx="200.63" cy="103.11" rx="4.8" ry="3.8"/><ellipse cx="129.64" cy="156.36" rx="4.8" ry="3.8"/><ellipse cx="194.62" cy="141.81" rx="4.8" ry="3.8"/><ellipse cx="190.05" cy="120.39" rx="4.8" ry="3.8"/><ellipse cx="192.97" cy="136.22" rx="4.8" ry="3.8"/><ellipse cx="215.96" cy="114.99" rx="4.8" ry="3.8"/><ellipse cx="155.19" cy="141.87" rx="4.8" ry="3.8"/><ellipse cx="187.51" cy="130.23" rx="4.8" ry="3.8"/><ellipse cx="222.8" cy="111.23" rx="4.8" ry="3.8"/><ellipse cx="209.58" cy="137.31" rx="4.8" ry="3.8"/><ellipse cx="186.31" cy="120.01" rx="4.8" ry="3.8"/><ellipse cx="208.04" cy="112.91" rx="4.8" ry="3.8"/><ellipse cx="140.63" cy="174.31" rx="4.8" ry="3.8"/><ellipse cx="190.42" cy="120.41" rx="4.8" ry="3.8"/><ellipse cx="168" cy="130.3" rx="4.8" ry="3.8"/><ellipse cx="198.26" cy="118.57" rx="4.8" ry="3.8"/><ellipse cx="195" cy="140.62" rx="4.8" ry="3.8"/><ellipse cx="173.97" cy="138.72" rx="4.8" ry="3.8"/><ellipse cx="174.54" cy="153.39" rx="4.8" ry="3.8"/><ellipse cx="162.39" cy="166.62" rx="4.8" ry="3.8"/><ellipse cx="227.32" cy="113.6" rx="4.8" ry="3.8"/><ellipse cx="225.29" cy="83.22" rx="4.8" ry="3.8"/><ellipse cx="178.07" cy="135.12" rx="4.8" ry="3.8"/><ellipse cx="188.27" cy="118.19" rx="4.8" ry="3.8"/><ellipse cx="130.43" cy="170.44" rx="4.8" ry="3.8"/><ellipse cx="197.14" cy="124.21" rx="4.8" ry="3.8"/><ellipse cx="176.31" cy="134.97" rx="4.8" ry="3.8"/><ellipse cx="188.44" cy="100.59" rx="4.8" ry="3.8"/><ellipse cx="227.93" cy="88.06" rx="4.8" ry="3.8"/><ellipse cx="204.63" cy="125.43" rx="4.8" ry="3.8"/><ellipse cx="189" cy="130.58" rx="4.8" ry="3.8"/><ellipse cx="230.47" cy="110.03" rx="4.8" ry="3.8"/><ellipse cx="234.12" cy="95.06" rx="4.8" ry="3.8"/><ellipse cx="225.5" cy="92.32" rx="4.8" ry="3.8"/><ellipse cx="141.95" cy="129.59" rx="4.8" ry="3.8"/><ellipse cx="132.45" cy="165.35" rx="4.8" ry="3.8"/><ellipse cx="183.67" cy="154.03" rx="4.8" ry="3.8"/><ellipse cx="193.09" cy="126.14" rx="4.8" ry="3.8"/><ellipse cx="177.36" cy="139.69" rx="4.8" ry="3.8"/><ellipse cx="184.11" cy="136.95" rx="4.8" ry="3.8"/><ellipse cx="136.61" cy="163.01" rx="4.8" ry="3.8"/><ellipse cx="172.4" cy="148.9" rx="4.8" ry="3.8"/><ellipse cx="190.52" cy="113.37" rx="4.8" ry="3.8"/><ellipse cx="176.37" cy="134.29" rx="4.8" ry="3.8"/><ellipse cx="126.82" cy="152.67" rx="4.8" ry="3.8"/><ellipse cx="167.9" cy="123.18" rx="4.8" ry="3.8"/><ellipse cx="216.86" cy="87.36" rx="4.8" ry="3.8"/><ellipse cx="196.05" cy="126.08" rx="4.8" ry="3.8"/><ellipse cx="214.25" cy="128.55" rx="4.8" ry="3.8"/><ellipse cx="155.04" cy="147.83" rx="4.8" ry="3.8"/><ellipse cx="156.67" cy="132.42" rx="4.8" ry="3.8"/><ellipse cx="203.27" cy="149.45" rx="4.8" ry="3.8"/><ellipse cx="143.96" cy="135.19" rx="4.8" ry="3.8"/><ellipse cx="202.88" cy="133.03" rx="4.8" ry="3.8"/><ellipse cx="171.33" cy="128.84" rx="4.8" ry="3.8"/><ellipse cx="178.18" cy="147.6" rx="4.8" ry="3.8"/><ellipse cx="210.48" cy="118.93" rx="4.8" ry="3.8"/><ellipse cx="213.72" cy="91.13" rx="4.8" ry="3.8"/><ellipse cx="233.92" cy="145.35" rx="4.8" ry="3.8"/><ellipse cx="160.49" cy="149.23" rx="4.8" ry="3.8"/><ellipse cx="205.68" cy="118.38" rx="4.8" ry="3.8"/><ellipse cx="140.39" cy="166.47" rx="4.8" ry="3.8"/><ellipse cx="194.08" cy="155.14" rx="4.8" ry="3.8"/><ellipse cx="149.07" cy="133.74" rx="4.8" ry="3.8"/><ellipse cx="168.03" cy="127.21" rx="4.8" ry="3.8"/><ellipse cx="211.7" cy="107.71" rx="4.8" ry="3.8"/><ellipse cx="142" cy="159.2" rx="4.8" ry="3.8"/><ellipse cx="167.54" cy="169.28" rx="4.8" ry="3.8"/><ellipse cx="195.29" cy="133.54" rx="4.8" ry="3.8"/><ellipse cx="207.33" cy="117.6" rx="4.8" ry="3.8"/><ellipse cx="142.36" cy="147.69" rx="4.8" ry="3.8"/><ellipse cx="138.43" cy="156.37" rx="4.8" ry="3.8"/><ellipse cx="184" cy="130.95" rx="4.8" ry="3.8"/><ellipse cx="165.3" cy="148.2" rx="4.8" ry="3.8"/><ellipse cx="159.58" cy="163.76" rx="4.8" ry="3.8"/><ellipse cx="150.93" cy="156.64" rx="4.8" ry="3.8"/><ellipse cx="194.51" cy="125.38" rx="4.8" ry="3.8"/><ellipse cx="186.88" cy="128.16" rx="4.8" ry="3.8"/><ellipse cx="187.43" cy="135.22" rx="4.8" ry="3.8"/><ellipse cx="190.29" cy="124.54" rx="4.8" ry="3.8"/><ellipse cx="213.14" cy="120.39" rx="4.8" ry="3.8"/><ellipse cx="182.51" cy="140.93" rx="4.8" ry="3.8"/><ellipse cx="173.07" cy="139.5" rx="4.8" ry="3.8"/><ellipse cx="194.44" cy="135.73" rx="4.8" ry="3.8"/><ellipse cx="141.94" cy="160.62" rx="4.8" ry="3.8"/><ellipse cx="203.59" cy="120.59" rx="4.8" ry="3.8"/><ellipse cx="174.49" cy="149.76" rx="4.8" ry="3.8"/><ellipse cx="174.37" cy="147.41" rx="4.8" ry="3.8"/><ellipse cx="194.87" cy="114.1" rx="4.8" ry="3.8"/><ellipse cx="162.04" cy="162.35" rx="4.8" ry="3.8"/><ellipse cx="93.56" cy="196.44" rx="4.8" ry="3.8"/><ellipse cx="91.34" cy="198.11" rx="4.8" ry="3.8"/><ellipse cx="112.31" cy="213.12" rx="4.8" ry="3.8"/><ellipse cx="104.09" cy="199.98" rx="4.8" ry="3.8"/><ellipse cx="105.76" cy="207.34" rx="4.8" ry="3.8"/><ellipse cx="100.92" cy="211.36" rx="4.8" ry="3.8"/><ellipse cx="88.21" cy="210.29" rx="4.8" ry="3.8"/><ellipse cx="111.19" cy="207.75" rx="4.8" ry="3.8"/><ellipse cx="100.92" cy="207.7" rx="4.8" ry="3.8"/><ellipse cx="80.29" cy="210.21" rx="4.8" ry="3.8"/><ellipse cx="97.26" cy="213.55" rx="4.8" ry="3.8"/><ellipse cx="96.95" cy="213.61" rx="4.8" ry="3.8"/><ellipse cx="78.21" cy="210.73" rx="4.8" ry="3.8"/><ellipse cx="86.16" cy="217.34" rx="4.8" ry="3.8"/><ellipse cx="68.87" cy="213.71" rx="4.8" ry="3.8"/><ellipse cx="92.1" cy="212.79" rx="4.8" ry="3.8"/><ellipse cx="91.4" cy="220.05" rx="4.8" ry="3.8"/><ellipse cx="93.95" cy="206.61" rx="4.8" ry="3.8"/><ellipse cx="92.53" cy="213.74" rx="4.8" ry="3.8"/><ellipse cx="90.06" cy="209.21" rx="4.8" ry="3.8"/><ellipse cx="102.34" cy="206.05" rx="4.8" ry="3.8"/><ellipse cx="92.23" cy="214.53" rx="4.8" ry="3.8"/><ellipse cx="99.77" cy="200.52" rx="4.8" ry="3.8"/><ellipse cx="82.96" cy="207.08" rx="4.8" ry="3.8"/><ellipse cx="92.9" cy="209.89" rx="4.8" ry="3.8"/><ellipse cx="73.14" cy="201.37" rx="4.8" ry="3.8"/><ellipse cx="84.42" cy="203.44" rx="4.8" ry="3.8"/><ellipse cx="83.84" cy="210.93" rx="4.8" ry="3.8"/><ellipse cx="96.65" cy="205.86" rx="4.8" ry="3.8"/><ellipse cx="82.64" cy="206.86" rx="4.8" ry="3.8"/><ellipse cx="93.94" cy="202.79" rx="4.8" ry="3.8"/><ellipse cx="82.75" cy="211.69" rx="4.8" ry="3.8"/><ellipse cx="84.24" cy="216.71" rx="4.8" ry="3.8"/><ellipse cx="92.24" cy="206.96" rx="4.8" ry="3.8"/><ellipse cx="106.65" cy="209.29" rx="4.8" ry="3.8"/><ellipse cx="93.87" cy="201.78" rx="4.8" ry="3.8"/><ellipse cx="87.67" cy="210.09" rx="4.8" ry="3.8"/><ellipse cx="90.74" cy="214.56" rx="4.8" ry="3.8"/><ellipse cx="76.86" cy="205" rx="4.8" ry="3.8"/><ellipse cx="91.22" cy="210.37" rx="4.8" ry="3.8"/><ellipse cx="73.72" cy="212.22" rx="4.8" ry="3.8"/><ellipse cx="103.59" cy="215.33" rx="4.8" ry="3.8"/><ellipse cx="78.06" cy="204.84" rx="4.8" ry="3.8"/><ellipse cx="106.76" cy="196.76" rx="4.8" ry="3.8"/><ellipse cx="82.25" cy="207.48" rx="4.8" ry="3.8"/><ellipse cx="79.81" cy="208.45" rx="4.8" ry="3.8"/><ellipse cx="84.57" cy="209.76" rx="4.8" ry="3.8"/><ellipse cx="105.64" cy="205.05" rx="4.8" ry="3.8"/><ellipse cx="86.11" cy="210.42" rx="4.8" ry="3.8"/><ellipse cx="92.36" cy="213.08" rx="4.8" ry="3.8"/><ellipse cx="91.63" cy="205.81" rx="4.8" ry="3.8"/><ellipse cx="108.32" cy="220.53" rx="4.8" ry="3.8"/><ellipse cx="74.4" cy="221.1" rx="4.8" ry="3.8"/><ellipse cx="99.88" cy="192.11" rx="4.8" ry="3.8"/><ellipse cx="91.47" cy="209.02" rx="4.8" ry="3.8"/><ellipse cx="103.12" cy="223.97" rx="4.8" ry="3.8"/><ellipse cx="90.99" cy="213.29" rx="4.8" ry="3.8"/><ellipse cx="83.1" cy="209.07" rx="4.8" ry="3.8"/><ellipse cx="81.88" cy="204.16" rx="4.8" ry="3.8"/><ellipse cx="89.04" cy="207.73" rx="4.8" ry="3.8"/><ellipse cx="120.34" cy="207.65" rx="4.8" ry="3.8"/><ellipse cx="100.49" cy="213.71" rx="4.8" ry="3.8"/><ellipse cx="104.44" cy="201.12" rx="4.8" ry="3.8"/><ellipse cx="90.8" cy="203.37" rx="4.8" ry="3.8"/><ellipse cx="108.89" cy="197.58" rx="4.8" ry="3.8"/><ellipse cx="89.1" cy="210.62" rx="4.8" ry="3.8"/><ellipse cx="102.71" cy="217.58" rx="4.8" ry="3.8"/><ellipse cx="81.67" cy="208.37" rx="4.8" ry="3.8"/><ellipse cx="96.08" cy="196.68" rx="4.8" ry="3.8"/><ellipse cx="110.72" cy="204.25" rx="4.8" ry="3.8"/><ellipse cx="94.51" cy="218.02" rx="4.8" ry="3.8"/><ellipse cx="86.8" cy="208.93" rx="4.8" ry="3.8"/><ellipse cx="86.3" cy="210.36" rx="4.8" ry="3.8"/><ellipse cx="96.55" cy="215.22" rx="4.8" ry="3.8"/><ellipse cx="82.11" cy="223.26" rx="4.8" ry="3.8"/><ellipse cx="103.14" cy="214.73" rx="4.8" ry="3.8"/><ellipse cx="86.46" cy="204.34" rx="4.8" ry="3.8"/><ellipse cx="84.56" cy="197.01" rx="4.8" ry="3.8"/><ellipse cx="97.84" cy="207.7" rx="4.8" ry="3.8"/><ellipse cx="90.5" cy="211.36" rx="4.8" ry="3.8"/><ellipse cx="99" cy="195.27" rx="4.8" ry="3.8"/><ellipse cx="83.9" cy="218.37" rx="4.8" ry="3.8"/><ellipse cx="96.41" cy="201.9" rx="4.8" ry="3.8"/><ellipse cx="70.78" cy="218.09" rx="4.8" ry="3.8"/><ellipse cx="76.86" cy="208.73" rx="4.8" ry="3.8"/><ellipse cx="95.28" cy="214" rx="4.8" ry="3.8"/><ellipse cx="75.28" cy="208.21" rx="4.8" ry="3.8"/><ellipse cx="87.18" cy="197.93" rx="4.8" ry="3.8"/><ellipse cx="101.25" cy="211.91" rx="4.8" ry="3.8"/><ellipse cx="85.72" cy="212.68" rx="4.8" ry="3.8"/><ellipse cx="80.17" cy="211.31" rx="4.8" ry="3.8"/><ellipse cx="100.88" cy="218.09" rx="4.8" ry="3.8"/><ellipse cx="86.29" cy="200.92" rx="4.8" ry="3.8"/><ellipse cx="98.16" cy="214" rx="4.8" ry="3.8"/><ellipse cx="79.22" cy="217.65" rx="4.8" ry="3.8"/><ellipse cx="89.93" cy="214.7" rx="4.8" ry="3.8"/><ellipse cx="71.56" cy="215.91" rx="4.8" ry="3.8"/><ellipse cx="82.83" cy="200.04" rx="4.8" ry="3.8"/><ellipse cx="83.47" cy="210.5" rx="4.8" ry="3.8"/><ellipse cx="102.17" cy="203.53" rx="4.8" ry="3.8"/><ellipse cx="86.87" cy="225" rx="4.8" ry="3.8"/><ellipse cx="106.19" cy="203.27" rx="4.8" ry="3.8"/><ellipse cx="83.78" cy="211.79" rx="4.8" ry="3.8"/><ellipse cx="77.42" cy="218.25" rx="4.8" ry="3.8"/><ellipse cx="70.98" cy="210.19" rx="4.8" ry="3.8"/><ellipse cx="95.4" cy="207.98" rx="4.8" ry="3.8"/><ellipse cx="98.6" cy="205.04" rx="4.8" ry="3.8"/><ellipse cx="90.57" cy="215.79" rx="4.8" ry="3.8"/><ellipse cx="96.29" cy="201.18" rx="4.8" ry="3.8"/><ellipse cx="96.77" cy="200.69" rx="4.8" ry="3.8"/><ellipse cx="83.32" cy="217.72" rx="4.8" ry="3.8"/><ellipse cx="104.33" cy="211.37" rx="4.8" ry="3.8"/><ellipse cx="92.04" cy="210.98" rx="4.8" ry="3.8"/><ellipse cx="89.35" cy="211.99" rx="4.8" ry="3.8"/><ellipse cx="82.51" cy="223.13" rx="4.8" ry="3.8"/><ellipse cx="112.28" cy="204.78" rx="4.8" ry="3.8"/><ellipse cx="65.65" cy="220.39" rx="4.8" ry="3.8"/><ellipse cx="75.38" cy="217.57" rx="4.8" ry="3.8"/><ellipse cx="96.08" cy="198.26" rx="4.8" ry="3.8"/><ellipse cx="86.09" cy="205.92" rx="4.8" ry="3.8"/><ellipse cx="96.39" cy="217.11" rx="4.8" ry="3.8"/><ellipse cx="103.9" cy="218.65" rx="4.8" ry="3.8"/><ellipse cx="82.09" cy="213.86" rx="4.8" ry="3.8"/><ellipse cx="104.35" cy="206.75" rx="4.8" ry="3.8"/><ellipse cx="87.57" cy="215.79" rx="4.8" ry="3.8"/><ellipse cx="90.17" cy="209.78" rx="4.8" ry="3.8"/><ellipse cx="97.96" cy="199.54" rx="4.8" ry="3.8"/><ellipse cx="98.04" cy="208.54" rx="4.8" ry="3.8"/><ellipse cx="87.22" cy="200.11" rx="4.8" ry="3.8"/><ellipse cx="91.52" cy="209.93" rx="4.8" ry="3.8"/><ellipse cx="110.9" cy="196.1" rx="4.8" ry="3.8"/><ellipse cx="95.99" cy="209.74" rx="4.8" ry="3.8"/><ellipse cx="81.38" cy="204.65" rx="4.8" ry="3.8"/><ellipse cx="83.58" cy="204.96" rx="4.8" ry="3.8"/><ellipse cx="79.57" cy="211.27" rx="4.8" ry="3.8"/><ellipse cx="93.97" cy="208.44" rx="4.8" ry="3.8"/><ellipse cx="91.92" cy="207.26" rx="4.8" ry="3.8"/><ellipse cx="75.46" cy="219.94" rx="4.8" ry="3.8"/><ellipse cx="87.29" cy="198.78" rx="4.8" ry="3.8"/><ellipse cx="87.57" cy="216.58" rx="4.8" ry="3.8"/><ellipse cx="81.08" cy="211.46" rx="4.8" ry="3.8"/><ellipse cx="103.42" cy="211.39" rx="4.8" ry="3.8"/><ellipse cx="95.88" cy="207.82" rx="4.8" ry="3.8"/><ellipse cx="84.77" cy="217.19" rx="4.8" ry="3.8"/><ellipse cx="87.24" cy="215.31" rx="4.8" ry="3.8"/><ellipse cx="95.6" cy="220.6" rx="4.8" ry="3.8"/><ellipse cx="102.75" cy="202.86" rx="4.8" ry="3.8"/><ellipse cx="96.09" cy="199.23" rx="4.8" ry="3.8"/><ellipse cx="96.39" cy="220.11" rx="4.8" ry="3.8"/><ellipse cx="89.73" cy="207.21" rx="4.8" ry="3.8"/><ellipse cx="80.8" cy="219.11" rx="4.8" ry="3.8"/><ellipse cx="94.32" cy="205.98" rx="4.8" ry="3.8"/><ellipse cx="83.93" cy="212.76" rx="4.8" ry="3.8"/><ellipse cx="82.95" cy="215.05" rx="4.8" ry="3.8"/><ellipse cx="88.38" cy="203.38" rx="4.8" ry="3.8"/><ellipse cx="69.6" cy="215.95" rx="4.8" ry="3.8"/><ellipse cx="108.61" cy="204.7" rx="4.8" ry="3.8"/><ellipse cx="90.94" cy="204.48" rx="4.8" ry="3.8"/><ellipse cx="76.94" cy="220.31" rx="4.8" ry="3.8"/><ellipse cx="69.01" cy="223.34" rx="4.8" ry="3.8"/><ellipse cx="92.09" cy="204.18" rx="4.8" ry="3.8"/><ellipse cx="84.04" cy="215.59" rx="4.8" ry="3.8"/><ellipse cx="93.96" cy="205.39" rx="4.8" ry="3.8"/><ellipse cx="92.18" cy="222.11" rx="4.8" ry="3.8"/><ellipse cx="92.02" cy="215.26" rx="4.8" ry="3.8"/><ellipse cx="81.16" cy="201.88" rx="4.8" ry="3.8"/><ellipse cx="105.05" cy="204.27" rx="4.8" ry="3.8"/><ellipse cx="92.41" cy="208.54" rx="4.8" ry="3.8"/><ellipse cx="82" cy="211.85" rx="4.8" ry="3.8"/><ellipse cx="112.17" cy="211.83" rx="4.8" ry="3.8"/><ellipse cx="81.09" cy="210.63" rx="4.8" ry="3.8"/><ellipse cx="99.85" cy="202.91" rx="4.8" ry="3.8"/><ellipse cx="77.41" cy="213.19" rx="4.8" ry="3.8"/><ellipse cx="85.88" cy="218.85" rx="4.8" ry="3.8"/><ellipse cx="90.01" cy="213.22" rx="4.8" ry="3.8"/><ellipse cx="100.18" cy="205.46" rx="4.8" ry="3.8"/><ellipse cx="79.67" cy="211.41" rx="4.8" ry="3.8"/><ellipse cx="84.78" cy="215.15" rx="4.8" ry="3.8"/><ellipse cx="83.21" cy="204.39" rx="4.8" ry="3.8"/><ellipse cx="84.09" cy="222.29" rx="4.8" ry="3.8"/><ellipse cx="79.74" cy="206.68" rx="4.8" ry="3.8"/><ellipse cx="115.04" cy="212.47" rx="4.8" ry="3.8"/><ellipse cx="84.79" cy="213.16" rx="4.8" ry="3.8"/><ellipse cx="72.11" cy="210.68" rx="4.8" ry="3.8"/><ellipse cx="88.47" cy="208.55" rx="4.8" ry="3.8"/><ellipse cx="116.08" cy="207.17" rx="4.8" ry="3.8"/><ellipse cx="98.65" cy="203.13" rx="4.8" ry="3.8"/><ellipse cx="81.42" cy="215.47" rx="4.8" ry="3.8"/><ellipse cx="107.86" cy="202.26" rx="4.8" ry="3.8"/><ellipse cx="90.81" cy="217.05" rx="4.8" ry="3.8"/><ellipse cx="99.73" cy="204.93" rx="4.8" ry="3.8"/><ellipse cx="115.58" cy="195.95" rx="4.8" ry="3.8"/><ellipse cx="98.78" cy="206.78" rx="4.8" ry="3.8"/><ellipse cx="89.83" cy="213.7" rx="4.8" ry="3.8"/><ellipse cx="92.8" cy="208.01" rx="4.8" ry="3.8"/><ellipse cx="96.94" cy="201.8" rx="4.8" ry="3.8"/><ellipse cx="92.84" cy="213.11" rx="4.8" ry="3.8"/><ellipse cx="98.82" cy="198.43" rx="4.8" ry="3.8"/><ellipse cx="79.02" cy="209.33" rx="4.8" ry="3.8"/><ellipse cx="95.69" cy="205.59" rx="4.8" ry="3.8"/><ellipse cx="95.17" cy="209.76" rx="4.8" ry="3.8"/><ellipse cx="87.86" cy="199.52" rx="4.8" ry="3.8"/><ellipse cx="109.96" cy="215.63" rx="4.8" ry="3.8"/><ellipse cx="94.36" cy="213.69" rx="4.8" ry="3.8"/><ellipse cx="82.85" cy="221.72" rx="4.8" ry="3.8"/><ellipse cx="93.34" cy="209.85" rx="4.8" ry="3.8"/><ellipse cx="82.58" cy="205.58" rx="4.8" ry="3.8"/><ellipse cx="118.39" cy="195.45" rx="4.8" ry="3.8"/><ellipse cx="103.23" cy="210.4" rx="4.8" ry="3.8"/><ellipse cx="97.02" cy="209.08" rx="4.8" ry="3.8"/><ellipse cx="103.03" cy="203.98" rx="4.8" ry="3.8"/><ellipse cx="88.66" cy="206.74" rx="4.8" ry="3.8"/><ellipse cx="80.43" cy="206.65" rx="4.8" ry="3.8"/><ellipse cx="107.21" cy="209.36" rx="4.8" ry="3.8"/><ellipse cx="95.78" cy="219.87" rx="4.8" ry="3.8"/><ellipse cx="100.37" cy="202.54" rx="4.8" ry="3.8"/><ellipse cx="76.78" cy="201.13" rx="4.8" ry="3.8"/><ellipse cx="90.46" cy="221.24" rx="4.8" ry="3.8"/><ellipse cx="72.59" cy="207.52" rx="4.8" ry="3.8"/><ellipse cx="85.8" cy="203.68" rx="4.8" ry="3.8"/><ellipse cx="70.41" cy="214.23" rx="4.8" ry="3.8"/><ellipse cx="100.86" cy="212.55" rx="4.8" ry="3.8"/><ellipse cx="97.28" cy="211.12" rx="4.8" ry="3.8"/><ellipse cx="93.23" cy="207.42" rx="4.8" ry="3.8"/><ellipse cx="115.98" cy="213.49" rx="4.8" ry="3.8"/><ellipse cx="98.47" cy="200.06" rx="4.8" ry="3.8"/><ellipse cx="75.54" cy="212.14" rx="4.8" ry="3.8"/><ellipse cx="116.9" cy="198.47" rx="4.8" ry="3.8"/><ellipse cx="86.22" cy="221.86" rx="4.8" ry="3.8"/><ellipse cx="92.73" cy="214.32" rx="4.8" ry="3.8"/><ellipse cx="82.32" cy="216.9" rx="4.8" ry="3.8"/><ellipse cx="92.63" cy="212.65" rx="4.8" ry="3.8"/><ellipse cx="78.19" cy="213.67" rx="4.8" ry="3.8"/><ellipse cx="93.98" cy="214.94" rx="4.8" ry="3.8"/><ellipse cx="102.46" cy="218.64" rx="4.8" ry="3.8"/><ellipse cx="93.99" cy="211.9" rx="4.8" ry="3.8"/><ellipse cx="108.04" cy="211.05" rx="4.8" ry="3.8"/><ellipse cx="81.09" cy="220.39" rx="4.8" ry="3.8"/><ellipse cx="113" cy="201.98" rx="4.8" ry="3.8"/><ellipse cx="76.01" cy="214.77" rx="4.8" ry="3.8"/><ellipse cx="77.55" cy="202.43" rx="4.8" ry="3.8"/><ellipse cx="94.12" cy="222.58" rx="4.8" ry="3.8"/><ellipse cx="91.61" cy="203.86" rx="4.8" ry="3.8"/><ellipse cx="89.1" cy="207.18" rx="4.8" ry="3.8"/><ellipse cx="87.75" cy="209.14" rx="4.8" ry="3.8"/><ellipse cx="91.65" cy="214.39" rx="4.8" ry="3.8"/><ellipse cx="93.27" cy="208.43" rx="4.8" ry="3.8"/><ellipse cx="88.62" cy="214.78" rx="4.8" ry="3.8"/><ellipse cx="76.86" cy="210.84" rx="4.8" ry="3.8"/><ellipse cx="99.03" cy="224.17" rx="4.8" ry="3.8"/><ellipse cx="82.63" cy="202.62" rx="4.8" ry="3.8"/><ellipse cx="100.11" cy="212.92" rx="4.8" ry="3.8"/><ellipse cx="105.37" cy="213.76" rx="4.8" ry="3.8"/><ellipse cx="79.57" cy="199.36" rx="4.8" ry="3.8"/><ellipse cx="83.82" cy="212.6" rx="4.8" ry="3.8"/><ellipse cx="69.2" cy="220.37" rx="4.8" ry="3.8"/><ellipse cx="74.91" cy="213.68" rx="4.8" ry="3.8"/><ellipse cx="84.79" cy="214.96" rx="4.8" ry="3.8"/><ellipse cx="81.44" cy="206.79" rx="4.8" ry="3.8"/><ellipse cx="107.57" cy="209.6" rx="4.8" ry="3.8"/><ellipse cx="108.54" cy="196.32" rx="4.8" ry="3.8"/><ellipse cx="105.26" cy="205.43" rx="4.8" ry="3.8"/><ellipse cx="71.12" cy="209.08" rx="4.8" ry="3.8"/><ellipse cx="84.15" cy="209.87" rx="4.8" ry="3.8"/><ellipse cx="66.35" cy="216.15" rx="4.8" ry="3.8"/><ellipse cx="91.9" cy="215.84" rx="4.8" ry="3.8"/><ellipse cx="92.63" cy="198.75" rx="4.8" ry="3.8"/><ellipse cx="91.86" cy="214.21" rx="4.8" ry="3.8"/><ellipse cx="117.85" cy="219.12" rx="4.8" ry="3.8"/><ellipse cx="77.99" cy="209.58" rx="4.8" ry="3.8"/><ellipse cx="81.95" cy="226.44" rx="4.8" ry="3.8"/><ellipse cx="92.22" cy="204.29" rx="4.8" ry="3.8"/><ellipse cx="79.49" cy="202.43" rx="4.8" ry="3.8"/><ellipse cx="95.11" cy="201.43" rx="4.8" ry="3.8"/><ellipse cx="70.65" cy="213.57" rx="4.8" ry="3.8"/><ellipse cx="108.39" cy="193.7" rx="4.8" ry="3.8"/><ellipse cx="104.99" cy="207.42" rx="4.8" ry="3.8"/><ellipse cx="91.29" cy="213.94" rx="4.8" ry="3.8"/><ellipse cx="102.35" cy="212.41" rx="4.8" ry="3.8"/><ellipse cx="90.57" cy="223.42" rx="4.8" ry="3.8"/><ellipse cx="89.79" cy="208.73" rx="4.8" ry="3.8"/><ellipse cx="114.11" cy="215.53" rx="4.8" ry="3.8"/><ellipse cx="82.66" cy="212.77" rx="4.8" ry="3.8"/><ellipse cx="73.88" cy="221.81" rx="4.8" ry="3.8"/><ellipse cx="74.14" cy="208.75" rx="4.8" ry="3.8"/><ellipse cx="88.51" cy="205" rx="4.8" ry="3.8"/><ellipse cx="76.03" cy="208.74" rx="4.8" ry="3.8"/><ellipse cx="83.73" cy="210.63" rx="4.8" ry="3.8"/><ellipse cx="100.38" cy="208.02" rx="4.8" ry="3.8"/><ellipse cx="84.83" cy="221.88" rx="4.8" ry="3.8"/><ellipse cx="89.85" cy="205" rx="4.8" ry="3.8"/><ellipse cx="81.42" cy="212.06" rx="4.8" ry="3.8"/><ellipse cx="67.65" cy="222.8" rx="4.8" ry="3.8"/><ellipse cx="93.97" cy="200.92" rx="4.8" ry="3.8"/><ellipse cx="85.32" cy="221.86" rx="4.8" ry="3.8"/><ellipse cx="84.47" cy="221.3" rx="4.8" ry="3.8"/><ellipse cx="85.74" cy="198.23" rx="4.8" ry="3.8"/><ellipse cx="92.71" cy="210.6" rx="4.8" ry="3.8"/><ellipse cx="101.67" cy="210.49" rx="4.8" ry="3.8"/><ellipse cx="93.11" cy="208.23" rx="4.8" ry="3.8"/><ellipse cx="94.49" cy="218.91" rx="4.8" ry="3.8"/><ellipse cx="97.71" cy="202.94" rx="4.8" ry="3.8"/><ellipse cx="78.19" cy="202.43" rx="4.8" ry="3.8"/><ellipse cx="89.33" cy="205.76" rx="4.8" ry="3.8"/><ellipse cx="95.82" cy="203.23" rx="4.8" ry="3.8"/><ellipse cx="81.32" cy="215.48" rx="4.8" ry="3.8"/><ellipse cx="93.66" cy="205.45" rx="4.8" ry="3.8"/><ellipse cx="96.07" cy="206.78" rx="4.8" ry="3.8"/><ellipse cx="83.18" cy="204.06" rx="4.8" ry="3.8"/><ellipse cx="94.82" cy="202.25" rx="4.8" ry="3.8"/><ellipse cx="101.38" cy="224.08" rx="4.8" ry="3.8"/><ellipse cx="91.66" cy="214.16" rx="4.8" ry="3.8"/><ellipse cx="90.55" cy="213.12" rx="4.8" ry="3.8"/><ellipse cx="85.29" cy="209.67" rx="4.8" ry="3.8"/><ellipse cx="93.31" cy="214.76" rx="4.8" ry="3.8"/><ellipse cx="79.56" cy="208.39" rx="4.8" ry="3.8"/><ellipse cx="78.78" cy="209.28" rx="4.8" ry="3.8"/><ellipse cx="84.58" cy="217.27" rx="4.8" ry="3.8"/><ellipse cx="103.35" cy="196.79" rx="4.8" ry="3.8"/><ellipse cx="87.82" cy="210.82" rx="4.8" ry="3.8"/><ellipse cx="100.8" cy="216.91" rx="4.8" ry="3.8"/><ellipse cx="78.41" cy="204.7" rx="4.8" ry="3.8"/><ellipse cx="100.1" cy="211.54" rx="4.8" ry="3.8"/><ellipse cx="79.57" cy="209.64" rx="4.8" ry="3.8"/><ellipse cx="71.85" cy="216.63" rx="4.8" ry="3.8"/><ellipse cx="86.24" cy="227.01" rx="4.8" ry="3.8"/><ellipse cx="96.32" cy="203.92" rx="4.8" ry="3.8"/><ellipse cx="102.15" cy="217.42" rx="4.8" ry="3.8"/><ellipse cx="73.34" cy="218.45" rx="4.8" ry="3.8"/><ellipse cx="73.08" cy="199.54" rx="4.8" ry="3.8"/><ellipse cx="77.1" cy="214.47" rx="4.8" ry="3.8"/><ellipse cx="91.61" cy="206.79" rx="4.8" ry="3.8"/><ellipse cx="106.89" cy="214.28" rx="4.8" ry="3.8"/><ellipse cx="99.88" cy="207.34" rx="4.8" ry="3.8"/><ellipse cx="74.69" cy="211.83" rx="4.8" ry="3.8"/><ellipse cx="71.86" cy="202.6" rx="4.8" ry="3.8"/><ellipse cx="80.11" cy="205.19" rx="4.8" ry="3.8"/><ellipse cx="105.07" cy="211.5" rx="4.8" ry="3.8"/><ellipse cx="78.05" cy="211.36" rx="4.8" ry="3.8"/><ellipse cx="76.18" cy="206.6" rx="4.8" ry="3.8"/><ellipse cx="91.24" cy="214.93" rx="4.8" ry="3.8"/><ellipse cx="80.65" cy="206.95" rx="4.8" ry="3.8"/><ellipse cx="71.24" cy="202.24" rx="4.8" ry="3.8"/><ellipse cx="79.41" cy="213.28" rx="4.8" ry="3.8"/><ellipse cx="77.69" cy="201.51" rx="4.8" ry="3.8"/><ellipse cx="99.23" cy="199.8" rx="4.8" ry="3.8"/><ellipse cx="97.13" cy="208.22" rx="4.8" ry="3.8"/><ellipse cx="109.97" cy="202.11" rx="4.8" ry="3.8"/><ellipse cx="94.46" cy="205.46" rx="4.8" ry="3.8"/><ellipse cx="98.16" cy="206.79" rx="4.8" ry="3.8"/><ellipse cx="87.02" cy="221.23" rx="4.8" ry="3.8"/><ellipse cx="114.49" cy="214.37" rx="4.8" ry="3.8"/><ellipse cx="62.49" cy="219.75" rx="4.8" ry="3.8"/><ellipse cx="112.95" cy="197.88" rx="4.8" ry="3.8"/><ellipse cx="81.65" cy="209.82" rx="4.8" ry="3.8"/><ellipse cx="88.78" cy="223.53" rx="4.8" ry="3.8"/><ellipse cx="84.95" cy="209.05" rx="4.8" ry="3.8"/><ellipse cx="103.56" cy="215.68" rx="4.8" ry="3.8"/><ellipse cx="61.19" cy="225.73" rx="4.8" ry="3.8"/><ellipse cx="93.17" cy="208.99" rx="4.8" ry="3.8"/><ellipse cx="90.93" cy="208.94" rx="4.8" ry="3.8"/><ellipse cx="84.55" cy="220.17" rx="4.8" ry="3.8"/><ellipse cx="94.69" cy="206.68" rx="4.8" ry="3.8"/><ellipse cx="96.23" cy="200.67" rx="4.8" ry="3.8"/><ellipse cx="77.76" cy="209.61" rx="4.8" ry="3.8"/><ellipse cx="88.89" cy="205.43" rx="4.8" ry="3.8"/><ellipse cx="82.68" cy="212.53" rx="4.8" ry="3.8"/><ellipse cx="81.68" cy="209.94" rx="4.8" ry="3.8"/><ellipse cx="95.53" cy="215.58" rx="4.8" ry="3.8"/><ellipse cx="105.4" cy="199.69" rx="4.8" ry="3.8"/><ellipse cx="94.6" cy="210.01" rx="4.8" ry="3.8"/><ellipse cx="86.14" cy="221.76" rx="4.8" ry="3.8"/><ellipse cx="97.21" cy="215.32" rx="4.8" ry="3.8"/><ellipse cx="82.86" cy="204.71" rx="4.8" ry="3.8"/><ellipse cx="77.68" cy="215.78" rx="4.8" ry="3.8"/><ellipse cx="99.72" cy="195.95" rx="4.8" ry="3.8"/><ellipse cx="80.52" cy="204.41" rx="4.8" ry="3.8"/><ellipse cx="80.97" cy="209.11" rx="4.8" ry="3.8"/><ellipse cx="95.08" cy="216.79" rx="4.8" ry="3.8"/><ellipse cx="101.79" cy="195.97" rx="4.8" ry="3.8"/><ellipse cx="89.73" cy="208.34" rx="4.8" ry="3.8"/><ellipse cx="74.55" cy="200.91" rx="4.8" ry="3.8"/><ellipse cx="89.86" cy="218.65" rx="4.8" ry="3.8"/><ellipse cx="98.56" cy="218.33" rx="4.8" ry="3.8"/><ellipse cx="80.57" cy="226.02" rx="4.8" ry="3.8"/><ellipse cx="106.14" cy="192.44" rx="4.8" ry="3.8"/><ellipse cx="81.21" cy="216.03" rx="4.8" ry="3.8"/><ellipse cx="81.92" cy="215.31" rx="4.8" ry="3.8"/><ellipse cx="95.95" cy="199.29" rx="4.8" ry="3.8"/><ellipse cx="76.59" cy="209.55" rx="4.8" ry="3.8"/><ellipse cx="87.98" cy="215.13" rx="4.8" ry="3.8"/><ellipse cx="108.06" cy="207.58" rx="4.8" ry="3.8"/><ellipse cx="106.07" cy="200.05" rx="4.8" ry="3.8"/><ellipse cx="109.63" cy="211.94" rx="4.8" ry="3.8"/><ellipse cx="89.78" cy="207.67" rx="4.8" ry="3.8"/><ellipse cx="86.68" cy="200.51" rx="4.8" ry="3.8"/><ellipse cx="80.22" cy="205.14" rx="4.8" ry="3.8"/><ellipse cx="105.98" cy="220.29" rx="4.8" ry="3.8"/><ellipse cx="77.06" cy="218.44" rx="4.8" ry="3.8"/><ellipse cx="82.31" cy="208.86" rx="4.8" ry="3.8"/><ellipse cx="86.93" cy="210.11" rx="4.8" ry="3.8"/><ellipse cx="83.38" cy="211.82" rx="4.8" ry="3.8"/><ellipse cx="95.09" cy="204.2" rx="4.8" ry="3.8"/><ellipse cx="79.39" cy="212.75" rx="4.8" ry="3.8"/><ellipse cx="79.64" cy="213.14" rx="4.8" ry="3.8"/><ellipse cx="71.28" cy="207.06" rx="4.8" ry="3.8"/><ellipse cx="97.41" cy="209.59" rx="4.8" ry="3.8"/><ellipse cx="80.6" cy="214.82" rx="4.8" ry="3.8"/><ellipse cx="80.83" cy="222.04" rx="4.8" ry="3.8"/><ellipse cx="73.84" cy="220.78" rx="4.8" ry="3.8"/><ellipse cx="96.25" cy="204.93" rx="4.8" ry="3.8"/><ellipse cx="69.57" cy="226.58" rx="4.8" ry="3.8"/><ellipse cx="95.8" cy="222.36" rx="4.8" ry="3.8"/><ellipse cx="106.73" cy="210.42" rx="4.8" ry="3.8"/><ellipse cx="90.14" cy="210.09" rx="4.8" ry="3.8"/><ellipse cx="82.14" cy="212.45" rx="4.8" ry="3.8"/><ellipse cx="85.36" cy="202.61" rx="4.8" ry="3.8"/><ellipse cx="87.94" cy="210.67" rx="4.8" ry="3.8"/><ellipse cx="82.52" cy="215.67" rx="4.8" ry="3.8"/><ellipse cx="79.95" cy="211.82" rx="4.8" ry="3.8"/><ellipse cx="54.8" cy="166.9" rx="4.8" ry="3.8"/><ellipse cx="82.2" cy="168.8" rx="4.8" ry="3.8"/><ellipse cx="89.5" cy="168.5" rx="4.8" ry="3.8"/><ellipse cx="95.6" cy="166.6" rx="4.8" ry="3.8"/><ellipse cx="95.6" cy="175.3" rx="4.8" ry="3.8"/><ellipse cx="103.1" cy="177.4" rx="4.8" ry="3.8"/><ellipse cx="105.6" cy="182.2" rx="4.8" ry="3.8"/><ellipse cx="110.4" cy="176.6" rx="4.8" ry="3.8"/><ellipse cx="108.8" cy="162.1" rx="4.8" ry="3.8"/><ellipse cx="111.2" cy="160.5" rx="4.8" ry="3.8"/><ellipse cx="109.9" cy="170.1" rx="4.8" ry="3.8"/><ellipse cx="113.6" cy="157.2" rx="4.8" ry="3.8"/><ellipse cx="88.2" cy="184.3" rx="4.8" ry="3.8"/><ellipse cx="92.7" cy="185.1" rx="4.8" ry="3.8"/><ellipse cx="93.5" cy="188.7" rx="4.8" ry="3.8"/><ellipse cx="86.2" cy="190.3" rx="4.8" ry="3.8"/><ellipse cx="87" cy="192.7" rx="4.8" ry="3.8"/><ellipse cx="120.9" cy="187.8" rx="4.8" ry="3.8"/><ellipse cx="123.3" cy="188.7" rx="4.8" ry="3.8"/><ellipse cx="117.6" cy="188.7" rx="4.8" ry="3.8"/><ellipse cx="133.7" cy="203.1" rx="4.8" ry="3.8"/><ellipse cx="135.4" cy="214.7" rx="4.8" ry="3.8"/><ellipse cx="128.9" cy="211.2" rx="4.8" ry="3.8"/><ellipse cx="124.9" cy="213.1" rx="4.8" ry="3.8"/><ellipse cx="123.3" cy="203.1" rx="4.8" ry="3.8"/><ellipse cx="119.3" cy="201.5" rx="4.8" ry="3.8"/><ellipse cx="143.4" cy="174.2" rx="4.8" ry="3.8"/><ellipse cx="153.1" cy="178.2" rx="4.8" ry="3.8"/><ellipse cx="157.9" cy="179.8" rx="4.8" ry="3.8"/><ellipse cx="75" cy="228.1" rx="4.8" ry="3.8"/><ellipse cx="66.1" cy="224.9" rx="4.8" ry="3.8"/><ellipse cx="58" cy="212.8" rx="4.8" ry="3.8"/><ellipse cx="59.7" cy="217.6" rx="4.8" ry="3.8"/><ellipse cx="98.3" cy="223.3" rx="4.8" ry="3.8"/><ellipse cx="104.8" cy="219.3" rx="4.8" ry="3.8"/><ellipse cx="114.4" cy="215.2" rx="4.8" ry="3.8"/><ellipse cx="326.1" cy="77.8" rx="4.8" ry="3.8"/><ellipse cx="297.6" cy="56.3" rx="4.8" ry="3.8"/><ellipse cx="297.6" cy="75.8" rx="4.8" ry="3.8"/><ellipse cx="293.9" cy="80.4" rx="4.8" ry="3.8"/><ellipse cx="291.3" cy="91.9" rx="4.8" ry="3.8"/><ellipse cx="281.1" cy="69" rx="4.8" ry="3.8"/><ellipse cx="277.8" cy="74.4" rx="4.8" ry="3.8"/><ellipse cx="277.8" cy="80.9" rx="4.8" ry="3.8"/><ellipse cx="266.7" cy="69" rx="4.8" ry="3.8"/><ellipse cx="269.3" cy="70.7" rx="4.8" ry="3.8"/><ellipse cx="267.6" cy="80.9" rx="4.8" ry="3.8"/><ellipse cx="261.6" cy="74.4" rx="4.8" ry="3.8"/><ellipse cx="278.6" cy="97.8" rx="4.8" ry="3.8"/><ellipse cx="277.8" cy="104.6" rx="4.8" ry="3.8"/><ellipse cx="271" cy="104.1" rx="4.8" ry="3.8"/><ellipse cx="266.7" cy="97.8" rx="4.8" ry="3.8"/><ellipse cx="263.3" cy="102.1" rx="4.8" ry="3.8"/><ellipse cx="276.1" cy="111.4" rx="4.8" ry="3.8"/><ellipse cx="274.4" cy="111.1" rx="4.8" ry="3.8"/><ellipse cx="274.4" cy="119.9" rx="4.8" ry="3.8"/><ellipse cx="275.2" cy="122.4" rx="4.8" ry="3.8"/><ellipse cx="243.8" cy="70.7" rx="4.8" ry="3.8"/><ellipse cx="237.9" cy="74.4" rx="4.8" ry="3.8"/><ellipse cx="248.1" cy="75.8" rx="4.8" ry="3.8"/><ellipse cx="249.8" cy="80" rx="4.8" ry="3.8"/><ellipse cx="221.8" cy="74.4" rx="4.8" ry="3.8"/><ellipse cx="218.4" cy="76.6" rx="4.8" ry="3.8"/><ellipse cx="227.7" cy="76.6" rx="4.8" ry="3.8"/><ellipse cx="260.8" cy="89.4" rx="4.8" ry="3.8"/><ellipse cx="255.7" cy="113.1" rx="4.8" ry="3.8"/><ellipse cx="252.3" cy="124.1" rx="4.8" ry="3.8"/><ellipse cx="277.4" cy="154.8" rx="4.8" ry="3.8"/><ellipse cx="241.4" cy="143.4" rx="4.8" ry="3.8"/><ellipse cx="244" cy="145.3" rx="4.8" ry="3.8"/><ellipse cx="255.4" cy="131.1" rx="4.8" ry="3.8"/><ellipse cx="248.4" cy="130.5" rx="4.8" ry="3.8"/><ellipse cx="214.2" cy="150" rx="4.8" ry="3.8"/><ellipse cx="210.4" cy="150" rx="4.8" ry="3.8"/><ellipse cx="217.1" cy="148.7" rx="4.8" ry="3.8"/><ellipse cx="182" cy="89.1" rx="4.8" ry="3.8"/><ellipse cx="189.6" cy="94.1" rx="4.8" ry="3.8"/><ellipse cx="195.9" cy="92.9" rx="4.8" ry="3.8"/><ellipse cx="179.5" cy="96.7" rx="4.8" ry="3.8"/><ellipse cx="201.6" cy="91.6" rx="4.8" ry="3.8"/><ellipse cx="210.9" cy="80.3" rx="4.8" ry="3.8"/><ellipse cx="108" cy="138" rx="4.8" ry="3.8"/><ellipse cx="108" cy="141.1" rx="4.8" ry="3.8"/><ellipse cx="126.1" cy="125.6" rx="4.8" ry="3.8"/><ellipse cx="129.5" cy="125.6" rx="4.8" ry="3.8"/><ellipse cx="125.1" cy="134.1" rx="4.8" ry="3.8"/><ellipse cx="146.6" cy="113.8" rx="4.8" ry="3.8"/><ellipse cx="154.5" cy="113.8" rx="4.8" ry="3.8"/><ellipse cx="150.7" cy="119.5" rx="4.8" ry="3.8"/><ellipse cx="162.7" cy="103.2" rx="4.8" ry="3.8"/><ellipse cx="182.4" cy="89.9" rx="4.8" ry="3.8"/><ellipse cx="216.8" cy="164.8" rx="4.8" ry="3.8"/><ellipse cx="184.9" cy="170.7" rx="4.8" ry="3.8"/><ellipse cx="159.3" cy="179.6" rx="4.8" ry="3.8"/><ellipse cx="152.6" cy="177.7" rx="4.8" ry="3.8"/><ellipse cx="143.1" cy="174.3" rx="4.8" ry="3.8"/></g>
<path d="M99 237.4v-3.1M99 17.6v3.1M148.6 237.4v-3.1M148.6 17.6v3.1M198.2 237.4v-3.1M198.2 17.6v3.1M247.8 237.4v-3.1M247.8 17.6v3.1M297.4 237.4v-3.1M297.4 17.6v3.1M54.5 201h3.1M325.8 201h-3.1M54.5 160.75h3.1M325.8 160.75h-3.1M54.5 120.5h3.1M325.8 120.5h-3.1M54.5 80.25h3.1M325.8 80.25h-3.1M54.5 40h3.1M325.8 40h-3.1" stroke="#484848" stroke-width="1.1" fill="none"/>
<text transform="translate(99,255.65) scale(1,0.85)" font-size="14.7" text-anchor="middle" fill="#262626">50</text>
<text transform="translate(148.6,255.65) scale(1,0.85)" font-size="14.7" text-anchor="middle" fill="#262626">100</text>
<text transform="translate(198.2,255.65) scale(1,0.85)" font-size="14.7" text-anchor="middle" fill="#262626">150</text>
<text transform="translate(247.8,255.65) scale(1,0.85)" font-size="14.7" text-anchor="middle" fill="#262626">200</text>
<text transform="translate(297.4,255.65) scale(1,0.85)" font-size="14.7" text-anchor="middle" fill="#262626">250</text>
<text transform="translate(47.5,206.5) scale(1,0.85)" font-size="14.7" text-anchor="end" fill="#262626">50</text>
<text transform="translate(47.5,166.25) scale(1,0.85)" font-size="14.7" text-anchor="end" fill="#262626">100</text>
<text transform="translate(47.5,126) scale(1,0.85)" font-size="14.7" text-anchor="end" fill="#262626">150</text>
<text transform="translate(47.5,85.75) scale(1,0.85)" font-size="14.7" text-anchor="end" fill="#262626">200</text>
<text transform="translate(47.5,45.5) scale(1,0.85)" font-size="14.7" text-anchor="end" fill="#262626">250</text>
<text transform="translate(190.15,275.3) scale(1,0.85)" font-size="18.7" font-weight="bold" text-anchor="middle" fill="#262626">Target</text>
<text transform="translate(14.1,128.5) scale(1,0.808) rotate(-90)" font-size="19.4" font-weight="bold" text-anchor="middle" fill="#262626" textLength="234.6" lengthAdjust="spacingAndGlyphs">Output ~= 0.87*Target + 14</text>
<text transform="translate(190.15,11) scale(1,0.85)" font-size="18.5" font-weight="bold" text-anchor="middle" fill="#000" textLength="174" lengthAdjust="spacingAndGlyphs">Training: R=0.93295</text>
<rect x="69.3" y="30.3" width="100.3" height="51.4" fill="#fff" stroke="#484848" stroke-width="0.8"/>
<ellipse cx="102.3" cy="40.8" rx="4.8" ry="3.8" fill="none" stroke="#000" stroke-width="1.3"/>
<line x1="78.6" y1="55.7" x2="124.8" y2="55.7" stroke="#0000ff" stroke-width="3"/>
<line x1="78.6" y1="71.5" x2="124.8" y2="71.5" stroke="#000" stroke-width="1.1" stroke-dasharray="1.3 2.9"/>
<text transform="translate(130,45.4) scale(1,0.85)" font-size="13.8" text-anchor="start" fill="#000">Data</text>
<text transform="translate(130,60.75) scale(1,0.85)" font-size="13.8" text-anchor="start" fill="#000">Fit</text>
<text transform="translate(130,76.1) scale(1,0.85)" font-size="13.8" text-anchor="start" fill="#000">Y = T</text>
<clipPath id="c2"><rect x="411.5" y="17.4" width="272.5" height="220.2"/></clipPath>
<rect x="411.5" y="17.4" width="272.5" height="220.2" fill="none" stroke="#484848" stroke-width="1.3"/>
<line x1="411.5" y1="237.6" x2="684" y2="17.4" stroke="#000" stroke-width="1.1" stroke-dasharray="1.3 2.9" clip-path="url(#c2)"/>
<line x1="410.75" y1="225.7" x2="684.75" y2="42.1" stroke="#00ff00" stroke-width="3.2"/>
<g fill="none" stroke="#000" stroke-width="1.3"><ellipse cx="411.8" cy="227.9" rx="4.8" ry="3.8"/><ellipse cx="420.2" cy="228.1" rx="4.8" ry="3.8"/><ellipse cx="429.3" cy="227.9" rx="4.8" ry="3.8"/><ellipse cx="441.2" cy="226.7" rx="4.8" ry="3.8"/><ellipse cx="419" cy="219.7" rx="4.8" ry="3.8"/><ellipse cx="427.2" cy="198.7" rx="4.8" ry="3.8"/><ellipse cx="451.7" cy="198.5" rx="4.8" ry="3.8"/><ellipse cx="428.9" cy="218" rx="4.8" ry="3.8"/><ellipse cx="431.3" cy="215" rx="4.8" ry="3.8"/><ellipse cx="433.6" cy="213.3" rx="4.8" ry="3.8"/><ellipse cx="429.5" cy="220.3" rx="4.8" ry="3.8"/><ellipse cx="438.9" cy="220.9" rx="4.8" ry="3.8"/><ellipse cx="438.9" cy="217.4" rx="4.8" ry="3.8"/><ellipse cx="443" cy="208.6" rx="4.8" ry="3.8"/><ellipse cx="443.5" cy="211" rx="4.8" ry="3.8"/><ellipse cx="447" cy="216.8" rx="4.8" ry="3.8"/><ellipse cx="451.7" cy="209.8" rx="4.8" ry="3.8"/><ellipse cx="455.2" cy="208" rx="4.8" ry="3.8"/><ellipse cx="465.1" cy="205.1" rx="4.8" ry="3.8"/><ellipse cx="466.3" cy="206.9" rx="4.8" ry="3.8"/><ellipse cx="465.7" cy="208" rx="4.8" ry="3.8"/><ellipse cx="470.2" cy="211.8" rx="4.8" ry="3.8"/><ellipse cx="474.7" cy="164.1" rx="4.8" ry="3.8"/><ellipse cx="482.4" cy="144.6" rx="4.8" ry="3.8"/><ellipse cx="488.8" cy="143.5" rx="4.8" ry="3.8"/><ellipse cx="511.7" cy="129.5" rx="4.8" ry="3.8"/><ellipse cx="504.5" cy="151.1" rx="4.8" ry="3.8"/><ellipse cx="511.7" cy="148.8" rx="4.8" ry="3.8"/><ellipse cx="517.7" cy="145.6" rx="4.8" ry="3.8"/><ellipse cx="521" cy="153.6" rx="4.8" ry="3.8"/><ellipse cx="527.8" cy="124.6" rx="4.8" ry="3.8"/><ellipse cx="533.9" cy="117.2" rx="4.8" ry="3.8"/><ellipse cx="529.1" cy="140.7" rx="4.8" ry="3.8"/><ellipse cx="531.4" cy="155.9" rx="4.8" ry="3.8"/><ellipse cx="533.9" cy="162.3" rx="4.8" ry="3.8"/><ellipse cx="535.9" cy="144.6" rx="4.8" ry="3.8"/><ellipse cx="539.9" cy="142.4" rx="4.8" ry="3.8"/><ellipse cx="544.4" cy="138.7" rx="4.8" ry="3.8"/><ellipse cx="539.5" cy="125.5" rx="4.8" ry="3.8"/><ellipse cx="540.5" cy="126.3" rx="4.8" ry="3.8"/><ellipse cx="546.3" cy="118.5" rx="4.8" ry="3.8"/><ellipse cx="548.5" cy="120" rx="4.8" ry="3.8"/><ellipse cx="552" cy="119.8" rx="4.8" ry="3.8"/><ellipse cx="554.7" cy="139.8" rx="4.8" ry="3.8"/><ellipse cx="561.6" cy="113.7" rx="4.8" ry="3.8"/><ellipse cx="561.6" cy="128.5" rx="4.8" ry="3.8"/><ellipse cx="567.3" cy="145.6" rx="4.8" ry="3.8"/><ellipse cx="502.4" cy="99" rx="4.8" ry="3.8"/><ellipse cx="527.9" cy="95.5" rx="4.8" ry="3.8"/><ellipse cx="561.5" cy="102.3" rx="4.8" ry="3.8"/><ellipse cx="568.4" cy="102.3" rx="4.8" ry="3.8"/><ellipse cx="574.9" cy="114.7" rx="4.8" ry="3.8"/><ellipse cx="574.4" cy="117.3" rx="4.8" ry="3.8"/><ellipse cx="662.2" cy="36.5" rx="4.8" ry="3.8"/><ellipse cx="589.2" cy="75" rx="4.8" ry="3.8"/><ellipse cx="605.7" cy="75.6" rx="4.8" ry="3.8"/><ellipse cx="619.5" cy="77.9" rx="4.8" ry="3.8"/><ellipse cx="627.7" cy="79.8" rx="4.8" ry="3.8"/><ellipse cx="601.1" cy="86" rx="4.8" ry="3.8"/><ellipse cx="603" cy="91.2" rx="4.8" ry="3.8"/><ellipse cx="612.5" cy="88.9" rx="4.8" ry="3.8"/><ellipse cx="619.5" cy="92.1" rx="4.8" ry="3.8"/><ellipse cx="639.1" cy="87" rx="4.8" ry="3.8"/><ellipse cx="643.8" cy="97.4" rx="4.8" ry="3.8"/><ellipse cx="663.2" cy="95.5" rx="4.8" ry="3.8"/><ellipse cx="667" cy="107.9" rx="4.8" ry="3.8"/><ellipse cx="585.7" cy="95" rx="4.8" ry="3.8"/><ellipse cx="590.1" cy="100.1" rx="4.8" ry="3.8"/><ellipse cx="585.9" cy="102.9" rx="4.8" ry="3.8"/><ellipse cx="601.1" cy="107.7" rx="4.8" ry="3.8"/><ellipse cx="607.8" cy="107.9" rx="4.8" ry="3.8"/><ellipse cx="611.9" cy="108.6" rx="4.8" ry="3.8"/><ellipse cx="600" cy="116.4" rx="4.8" ry="3.8"/></g>
<path d="M453.5 237.6v-3.1M453.5 17.4v3.1M517.5 237.6v-3.1M517.5 17.4v3.1M581.5 237.6v-3.1M581.5 17.4v3.1M645.5 237.6v-3.1M645.5 17.4v3.1M411.5 203.85h3.1M684 203.85h-3.1M411.5 152h3.1M684 152h-3.1M411.5 100.15h3.1M684 100.15h-3.1M411.5 48.3h3.1M684 48.3h-3.1" stroke="#484848" stroke-width="1.1" fill="none"/>
<text transform="translate(453.5,256.15) scale(1,0.85)" font-size="14.7" text-anchor="middle" fill="#262626">50</text>
<text transform="translate(517.5,256.15) scale(1,0.85)" font-size="14.7" text-anchor="middle" fill="#262626">100</text>
<text transform="translate(581.5,256.15) scale(1,0.85)" font-size="14.7" text-anchor="middle" fill="#262626">150</text>
<text transform="translate(645.5,256.15) scale(1,0.85)" font-size="14.7" text-anchor="middle" fill="#262626">200</text>
<text transform="translate(404.5,209.35) scale(1,0.85)" font-size="14.7" text-anchor="end" fill="#262626">50</text>
<text transform="translate(404.5,157.5) scale(1,0.85)" font-size="14.7" text-anchor="end" fill="#262626">100</text>
<text transform="translate(404.5,105.65) scale(1,0.85)" font-size="14.7" text-anchor="end" fill="#262626">150</text>
<text transform="translate(404.5,53.8) scale(1,0.85)" font-size="14.7" text-anchor="end" fill="#262626">200</text>
<text transform="translate(547.75,275.8) scale(1,0.85)" font-size="18.7" font-weight="bold" text-anchor="middle" fill="#262626">Target</text>
<text transform="translate(371.2,128.5) scale(1,0.808) rotate(-90)" font-size="19.4" font-weight="bold" text-anchor="middle" fill="#262626" textLength="234.6" lengthAdjust="spacingAndGlyphs">Output ~= 0.83*Target + 16</text>
<text transform="translate(547.75,10.5) scale(1,0.85)" font-size="18.5" font-weight="bold" text-anchor="middle" fill="#000" textLength="139.5" lengthAdjust="spacingAndGlyphs">Test: R=0.92868</text>
<rect x="426.3" y="29.8" width="100.4" height="51.5" fill="#fff" stroke="#484848" stroke-width="0.8"/>
<ellipse cx="459.3" cy="40.3" rx="4.8" ry="3.8" fill="none" stroke="#000" stroke-width="1.3"/>
<line x1="435.6" y1="55.2" x2="481.8" y2="55.2" stroke="#00ff00" stroke-width="3"/>
<line x1="435.6" y1="71" x2="481.8" y2="71" stroke="#000" stroke-width="1.1" stroke-dasharray="1.3 2.9"/>
<text transform="translate(487,44.9) scale(1,0.85)" font-size="13.8" text-anchor="start" fill="#000">Data</text>
<text transform="translate(487,60.25) scale(1,0.85)" font-size="13.8" text-anchor="start" fill="#000">Fit</text>
<text transform="translate(487,75.6) scale(1,0.85)" font-size="13.8" text-anchor="start" fill="#000">Y = T</text>
<clipPath id="c3"><rect x="54.5" y="328.6" width="271.3" height="219.95"/></clipPath>
<rect x="54.5" y="328.6" width="271.3" height="219.95" fill="none" stroke="#484848" stroke-width="1.3"/>
<line x1="54.5" y1="548.55" x2="325.8" y2="328.6" stroke="#000" stroke-width="1.1" stroke-dasharray="1.3 2.9" clip-path="url(#c3)"/>
<line x1="53.76" y1="538.32" x2="326.54" y2="347.38" stroke="#ff0000" stroke-width="3.2"/>
<g fill="none" stroke="#000" stroke-width="1.3"><ellipse cx="176.7" cy="443.51" rx="4.8" ry="3.8"/><ellipse cx="174.94" cy="463.79" rx="4.8" ry="3.8"/><ellipse cx="217.4" cy="417.54" rx="4.8" ry="3.8"/><ellipse cx="191.72" cy="435.36" rx="4.8" ry="3.8"/><ellipse cx="134.73" cy="459.32" rx="4.8" ry="3.8"/><ellipse cx="199.16" cy="458.22" rx="4.8" ry="3.8"/><ellipse cx="157.84" cy="468.45" rx="4.8" ry="3.8"/><ellipse cx="182.95" cy="439.35" rx="4.8" ry="3.8"/><ellipse cx="193.5" cy="434.22" rx="4.8" ry="3.8"/><ellipse cx="235.43" cy="406.93" rx="4.8" ry="3.8"/><ellipse cx="165.85" cy="467.12" rx="4.8" ry="3.8"/><ellipse cx="181.14" cy="439.03" rx="4.8" ry="3.8"/><ellipse cx="171" cy="466.69" rx="4.8" ry="3.8"/><ellipse cx="220.65" cy="434.33" rx="4.8" ry="3.8"/><ellipse cx="197.01" cy="456.99" rx="4.8" ry="3.8"/><ellipse cx="223.19" cy="451.08" rx="4.8" ry="3.8"/><ellipse cx="181.15" cy="458.28" rx="4.8" ry="3.8"/><ellipse cx="182.46" cy="466.04" rx="4.8" ry="3.8"/><ellipse cx="204.23" cy="419.61" rx="4.8" ry="3.8"/><ellipse cx="195.09" cy="436.85" rx="4.8" ry="3.8"/><ellipse cx="202.63" cy="441.43" rx="4.8" ry="3.8"/><ellipse cx="146.67" cy="478.44" rx="4.8" ry="3.8"/><ellipse cx="222.67" cy="451.59" rx="4.8" ry="3.8"/><ellipse cx="191.44" cy="421.62" rx="4.8" ry="3.8"/><ellipse cx="213" cy="427.36" rx="4.8" ry="3.8"/><ellipse cx="166.78" cy="454.78" rx="4.8" ry="3.8"/><ellipse cx="191.27" cy="440.1" rx="4.8" ry="3.8"/><ellipse cx="184.76" cy="431.87" rx="4.8" ry="3.8"/><ellipse cx="175.49" cy="467" rx="4.8" ry="3.8"/><ellipse cx="225.23" cy="438.53" rx="4.8" ry="3.8"/><ellipse cx="166.18" cy="467.88" rx="4.8" ry="3.8"/><ellipse cx="240.21" cy="437.85" rx="4.8" ry="3.8"/><ellipse cx="199.37" cy="434.51" rx="4.8" ry="3.8"/><ellipse cx="144.8" cy="464.48" rx="4.8" ry="3.8"/><ellipse cx="187" cy="454.79" rx="4.8" ry="3.8"/><ellipse cx="154.51" cy="481.56" rx="4.8" ry="3.8"/><ellipse cx="179.88" cy="452.21" rx="4.8" ry="3.8"/><ellipse cx="153.75" cy="446.71" rx="4.8" ry="3.8"/><ellipse cx="160.89" cy="452.11" rx="4.8" ry="3.8"/><ellipse cx="209.88" cy="423.6" rx="4.8" ry="3.8"/><ellipse cx="188.85" cy="434.82" rx="4.8" ry="3.8"/><ellipse cx="192.57" cy="432.45" rx="4.8" ry="3.8"/><ellipse cx="207.05" cy="422.66" rx="4.8" ry="3.8"/><ellipse cx="193.98" cy="444.83" rx="4.8" ry="3.8"/><ellipse cx="183.92" cy="433.37" rx="4.8" ry="3.8"/><ellipse cx="195.79" cy="413.58" rx="4.8" ry="3.8"/><ellipse cx="150.86" cy="461.09" rx="4.8" ry="3.8"/><ellipse cx="191.41" cy="446.53" rx="4.8" ry="3.8"/><ellipse cx="192.71" cy="446.9" rx="4.8" ry="3.8"/><ellipse cx="194.88" cy="445.93" rx="4.8" ry="3.8"/><ellipse cx="177.6" cy="450.55" rx="4.8" ry="3.8"/><ellipse cx="169.82" cy="441.34" rx="4.8" ry="3.8"/><ellipse cx="182.33" cy="434" rx="4.8" ry="3.8"/><ellipse cx="228.69" cy="443.79" rx="4.8" ry="3.8"/><ellipse cx="174.17" cy="443.65" rx="4.8" ry="3.8"/><ellipse cx="203.28" cy="455.87" rx="4.8" ry="3.8"/><ellipse cx="163.01" cy="471.5" rx="4.8" ry="3.8"/><ellipse cx="191.28" cy="440.32" rx="4.8" ry="3.8"/><ellipse cx="206.97" cy="441.99" rx="4.8" ry="3.8"/><ellipse cx="207.09" cy="418" rx="4.8" ry="3.8"/><ellipse cx="188.25" cy="433.48" rx="4.8" ry="3.8"/><ellipse cx="203.32" cy="453.1" rx="4.8" ry="3.8"/><ellipse cx="202.61" cy="446.11" rx="4.8" ry="3.8"/><ellipse cx="140.56" cy="451.04" rx="4.8" ry="3.8"/><ellipse cx="228.15" cy="432.67" rx="4.8" ry="3.8"/><ellipse cx="150.38" cy="454.3" rx="4.8" ry="3.8"/><ellipse cx="157.82" cy="441.51" rx="4.8" ry="3.8"/><ellipse cx="179.02" cy="474.99" rx="4.8" ry="3.8"/><ellipse cx="181.45" cy="455.24" rx="4.8" ry="3.8"/><ellipse cx="196.51" cy="417.62" rx="4.8" ry="3.8"/><ellipse cx="218.13" cy="401.36" rx="4.8" ry="3.8"/><ellipse cx="178.94" cy="458.74" rx="4.8" ry="3.8"/><ellipse cx="187.74" cy="441.53" rx="4.8" ry="3.8"/><ellipse cx="176.47" cy="480.95" rx="4.8" ry="3.8"/><ellipse cx="129.14" cy="462.53" rx="4.8" ry="3.8"/><ellipse cx="166.12" cy="457.25" rx="4.8" ry="3.8"/><ellipse cx="186.66" cy="426.25" rx="4.8" ry="3.8"/><ellipse cx="215.27" cy="402.66" rx="4.8" ry="3.8"/><ellipse cx="164.32" cy="446.6" rx="4.8" ry="3.8"/><ellipse cx="147.65" cy="465.46" rx="4.8" ry="3.8"/><ellipse cx="183.46" cy="453.79" rx="4.8" ry="3.8"/><ellipse cx="237.62" cy="413.51" rx="4.8" ry="3.8"/><ellipse cx="214.09" cy="428.39" rx="4.8" ry="3.8"/><ellipse cx="167.78" cy="441.79" rx="4.8" ry="3.8"/><ellipse cx="166.52" cy="443.48" rx="4.8" ry="3.8"/><ellipse cx="184.54" cy="434.55" rx="4.8" ry="3.8"/><ellipse cx="149.23" cy="485.59" rx="4.8" ry="3.8"/><ellipse cx="211.77" cy="434.36" rx="4.8" ry="3.8"/><ellipse cx="161.37" cy="480.53" rx="4.8" ry="3.8"/><ellipse cx="149.21" cy="459.99" rx="4.8" ry="3.8"/><ellipse cx="194.07" cy="447.62" rx="4.8" ry="3.8"/><ellipse cx="205.88" cy="434.67" rx="4.8" ry="3.8"/><ellipse cx="158.27" cy="458.24" rx="4.8" ry="3.8"/><ellipse cx="207.52" cy="419.92" rx="4.8" ry="3.8"/><ellipse cx="194.03" cy="421.4" rx="4.8" ry="3.8"/><ellipse cx="197.74" cy="464.4" rx="4.8" ry="3.8"/><ellipse cx="223.28" cy="425.46" rx="4.8" ry="3.8"/><ellipse cx="242.06" cy="438.23" rx="4.8" ry="3.8"/><ellipse cx="256.44" cy="418.98" rx="4.8" ry="3.8"/><ellipse cx="240.45" cy="414.61" rx="4.8" ry="3.8"/><ellipse cx="211.17" cy="439.3" rx="4.8" ry="3.8"/><ellipse cx="193.03" cy="428.8" rx="4.8" ry="3.8"/><ellipse cx="178.5" cy="462.63" rx="4.8" ry="3.8"/><ellipse cx="210.85" cy="426.15" rx="4.8" ry="3.8"/><ellipse cx="159.27" cy="426.13" rx="4.8" ry="3.8"/><ellipse cx="203.28" cy="467.28" rx="4.8" ry="3.8"/><ellipse cx="198.62" cy="413.76" rx="4.8" ry="3.8"/><ellipse cx="182.3" cy="439.74" rx="4.8" ry="3.8"/><ellipse cx="215.06" cy="420.14" rx="4.8" ry="3.8"/><ellipse cx="223.76" cy="393.86" rx="4.8" ry="3.8"/><ellipse cx="164.48" cy="454.31" rx="4.8" ry="3.8"/><ellipse cx="172.45" cy="465.98" rx="4.8" ry="3.8"/><ellipse cx="215.18" cy="442.7" rx="4.8" ry="3.8"/><ellipse cx="235" cy="400.7" rx="4.8" ry="3.8"/><ellipse cx="208.42" cy="440.79" rx="4.8" ry="3.8"/><ellipse cx="120.03" cy="479.52" rx="4.8" ry="3.8"/><ellipse cx="210.73" cy="427.11" rx="4.8" ry="3.8"/><ellipse cx="189.37" cy="438.5" rx="4.8" ry="3.8"/><ellipse cx="208.88" cy="436.49" rx="4.8" ry="3.8"/><ellipse cx="175.61" cy="435.85" rx="4.8" ry="3.8"/><ellipse cx="209.02" cy="418.77" rx="4.8" ry="3.8"/><ellipse cx="232.46" cy="414.31" rx="4.8" ry="3.8"/><ellipse cx="178.23" cy="479.95" rx="4.8" ry="3.8"/><ellipse cx="227.51" cy="401.96" rx="4.8" ry="3.8"/><ellipse cx="198.69" cy="429.35" rx="4.8" ry="3.8"/><ellipse cx="138.95" cy="468.71" rx="4.8" ry="3.8"/><ellipse cx="181.31" cy="437.04" rx="4.8" ry="3.8"/><ellipse cx="164.41" cy="468.43" rx="4.8" ry="3.8"/><ellipse cx="192.45" cy="436.65" rx="4.8" ry="3.8"/><ellipse cx="183" cy="456.42" rx="4.8" ry="3.8"/><ellipse cx="195" cy="423.92" rx="4.8" ry="3.8"/><ellipse cx="172.72" cy="462.36" rx="4.8" ry="3.8"/><ellipse cx="209.07" cy="436.28" rx="4.8" ry="3.8"/><ellipse cx="162.38" cy="456.07" rx="4.8" ry="3.8"/><ellipse cx="165.33" cy="467.15" rx="4.8" ry="3.8"/><ellipse cx="209.33" cy="431.01" rx="4.8" ry="3.8"/><ellipse cx="185.39" cy="455.78" rx="4.8" ry="3.8"/><ellipse cx="164.38" cy="458.4" rx="4.8" ry="3.8"/><ellipse cx="184.22" cy="445.96" rx="4.8" ry="3.8"/><ellipse cx="177.3" cy="447.62" rx="4.8" ry="3.8"/><ellipse cx="187.88" cy="441.18" rx="4.8" ry="3.8"/><ellipse cx="135.55" cy="472.48" rx="4.8" ry="3.8"/><ellipse cx="144.84" cy="456.57" rx="4.8" ry="3.8"/><ellipse cx="144.69" cy="432.08" rx="4.8" ry="3.8"/><ellipse cx="222.86" cy="424.01" rx="4.8" ry="3.8"/><ellipse cx="216.37" cy="451.36" rx="4.8" ry="3.8"/><ellipse cx="149.57" cy="461.94" rx="4.8" ry="3.8"/><ellipse cx="149.44" cy="467.09" rx="4.8" ry="3.8"/><ellipse cx="138.01" cy="460.65" rx="4.8" ry="3.8"/><ellipse cx="219.57" cy="436.89" rx="4.8" ry="3.8"/><ellipse cx="164.15" cy="451.43" rx="4.8" ry="3.8"/><ellipse cx="175.33" cy="446.38" rx="4.8" ry="3.8"/><ellipse cx="151.66" cy="477.03" rx="4.8" ry="3.8"/><ellipse cx="169.75" cy="468.74" rx="4.8" ry="3.8"/><ellipse cx="185.42" cy="444.84" rx="4.8" ry="3.8"/><ellipse cx="141.7" cy="471.33" rx="4.8" ry="3.8"/><ellipse cx="203.92" cy="432.46" rx="4.8" ry="3.8"/><ellipse cx="179.62" cy="427.05" rx="4.8" ry="3.8"/><ellipse cx="231.23" cy="400.05" rx="4.8" ry="3.8"/><ellipse cx="159.17" cy="451.4" rx="4.8" ry="3.8"/><ellipse cx="137.86" cy="481.3" rx="4.8" ry="3.8"/><ellipse cx="199.17" cy="432.24" rx="4.8" ry="3.8"/><ellipse cx="233.37" cy="422.68" rx="4.8" ry="3.8"/><ellipse cx="194.81" cy="438.25" rx="4.8" ry="3.8"/><ellipse cx="228.44" cy="426.51" rx="4.8" ry="3.8"/><ellipse cx="175.2" cy="435.78" rx="4.8" ry="3.8"/><ellipse cx="191.66" cy="419.97" rx="4.8" ry="3.8"/><ellipse cx="210.11" cy="393.15" rx="4.8" ry="3.8"/><ellipse cx="182.13" cy="470.58" rx="4.8" ry="3.8"/><ellipse cx="216.18" cy="427.68" rx="4.8" ry="3.8"/><ellipse cx="204.6" cy="423.3" rx="4.8" ry="3.8"/><ellipse cx="169.97" cy="458.24" rx="4.8" ry="3.8"/><ellipse cx="173.24" cy="435.98" rx="4.8" ry="3.8"/><ellipse cx="122.28" cy="473.88" rx="4.8" ry="3.8"/><ellipse cx="247.43" cy="412.81" rx="4.8" ry="3.8"/><ellipse cx="218.92" cy="422.73" rx="4.8" ry="3.8"/><ellipse cx="191.99" cy="432.7" rx="4.8" ry="3.8"/><ellipse cx="161.32" cy="436.94" rx="4.8" ry="3.8"/><ellipse cx="184.85" cy="441.47" rx="4.8" ry="3.8"/><ellipse cx="226.4" cy="430.05" rx="4.8" ry="3.8"/><ellipse cx="170.04" cy="463.82" rx="4.8" ry="3.8"/><ellipse cx="224.01" cy="420.84" rx="4.8" ry="3.8"/><ellipse cx="208.46" cy="429.84" rx="4.8" ry="3.8"/><ellipse cx="229.63" cy="401.14" rx="4.8" ry="3.8"/><ellipse cx="252.27" cy="407.11" rx="4.8" ry="3.8"/><ellipse cx="165.05" cy="458.41" rx="4.8" ry="3.8"/><ellipse cx="237.48" cy="393.9" rx="4.8" ry="3.8"/><ellipse cx="139.52" cy="488.29" rx="4.8" ry="3.8"/><ellipse cx="170.64" cy="455.01" rx="4.8" ry="3.8"/><ellipse cx="180.71" cy="462.17" rx="4.8" ry="3.8"/><ellipse cx="141.52" cy="468.07" rx="4.8" ry="3.8"/><ellipse cx="198.23" cy="439.49" rx="4.8" ry="3.8"/><ellipse cx="189.06" cy="448.76" rx="4.8" ry="3.8"/><ellipse cx="207.16" cy="431.63" rx="4.8" ry="3.8"/><ellipse cx="163.4" cy="471.33" rx="4.8" ry="3.8"/><ellipse cx="193.08" cy="432.88" rx="4.8" ry="3.8"/><ellipse cx="246.77" cy="420.29" rx="4.8" ry="3.8"/><ellipse cx="267.48" cy="427.68" rx="4.8" ry="3.8"/><ellipse cx="189.36" cy="440.08" rx="4.8" ry="3.8"/><ellipse cx="177.21" cy="445.11" rx="4.8" ry="3.8"/><ellipse cx="207.27" cy="455.16" rx="4.8" ry="3.8"/><ellipse cx="184.25" cy="459.14" rx="4.8" ry="3.8"/><ellipse cx="202.99" cy="441.68" rx="4.8" ry="3.8"/><ellipse cx="206.51" cy="426.49" rx="4.8" ry="3.8"/><ellipse cx="181.2" cy="466.11" rx="4.8" ry="3.8"/><ellipse cx="197.83" cy="443.7" rx="4.8" ry="3.8"/><ellipse cx="206.61" cy="442.15" rx="4.8" ry="3.8"/><ellipse cx="239.74" cy="421.42" rx="4.8" ry="3.8"/><ellipse cx="179.83" cy="427.82" rx="4.8" ry="3.8"/><ellipse cx="211.03" cy="436.54" rx="4.8" ry="3.8"/><ellipse cx="184.02" cy="469.16" rx="4.8" ry="3.8"/><ellipse cx="211.08" cy="450.57" rx="4.8" ry="3.8"/><ellipse cx="180.41" cy="441.95" rx="4.8" ry="3.8"/><ellipse cx="139.7" cy="470.38" rx="4.8" ry="3.8"/><ellipse cx="167.2" cy="470.01" rx="4.8" ry="3.8"/><ellipse cx="147.97" cy="460.74" rx="4.8" ry="3.8"/><ellipse cx="197.09" cy="433.88" rx="4.8" ry="3.8"/><ellipse cx="168.85" cy="464.31" rx="4.8" ry="3.8"/><ellipse cx="200.64" cy="448.19" rx="4.8" ry="3.8"/><ellipse cx="192.97" cy="436.51" rx="4.8" ry="3.8"/><ellipse cx="178.29" cy="456.48" rx="4.8" ry="3.8"/><ellipse cx="180.84" cy="448.77" rx="4.8" ry="3.8"/><ellipse cx="215.67" cy="403.97" rx="4.8" ry="3.8"/><ellipse cx="209.49" cy="438.52" rx="4.8" ry="3.8"/><ellipse cx="206.63" cy="410.36" rx="4.8" ry="3.8"/><ellipse cx="182.11" cy="444.2" rx="4.8" ry="3.8"/><ellipse cx="184.79" cy="454.06" rx="4.8" ry="3.8"/><ellipse cx="150.68" cy="490.64" rx="4.8" ry="3.8"/><ellipse cx="192.07" cy="447.67" rx="4.8" ry="3.8"/><ellipse cx="176.18" cy="458.68" rx="4.8" ry="3.8"/><ellipse cx="137.64" cy="476.58" rx="4.8" ry="3.8"/><ellipse cx="209.58" cy="430.56" rx="4.8" ry="3.8"/><ellipse cx="164.8" cy="453.96" rx="4.8" ry="3.8"/><ellipse cx="163.89" cy="427.14" rx="4.8" ry="3.8"/><ellipse cx="184.82" cy="442.76" rx="4.8" ry="3.8"/><ellipse cx="207.98" cy="421.24" rx="4.8" ry="3.8"/><ellipse cx="190.41" cy="438.08" rx="4.8" ry="3.8"/><ellipse cx="195.29" cy="416.21" rx="4.8" ry="3.8"/><ellipse cx="173.23" cy="440.26" rx="4.8" ry="3.8"/><ellipse cx="184.14" cy="448.88" rx="4.8" ry="3.8"/><ellipse cx="159.38" cy="469.85" rx="4.8" ry="3.8"/><ellipse cx="185.41" cy="443.8" rx="4.8" ry="3.8"/><ellipse cx="211.52" cy="420.46" rx="4.8" ry="3.8"/><ellipse cx="204.09" cy="434.28" rx="4.8" ry="3.8"/><ellipse cx="227.62" cy="412.03" rx="4.8" ry="3.8"/><ellipse cx="216.42" cy="419.19" rx="4.8" ry="3.8"/><ellipse cx="232.22" cy="411.79" rx="4.8" ry="3.8"/><ellipse cx="190.2" cy="443.57" rx="4.8" ry="3.8"/><ellipse cx="213.23" cy="425.4" rx="4.8" ry="3.8"/><ellipse cx="194.76" cy="437.61" rx="4.8" ry="3.8"/><ellipse cx="173.27" cy="452.99" rx="4.8" ry="3.8"/><ellipse cx="171.71" cy="444.54" rx="4.8" ry="3.8"/><ellipse cx="173.48" cy="453.99" rx="4.8" ry="3.8"/><ellipse cx="174.62" cy="441.89" rx="4.8" ry="3.8"/><ellipse cx="185.5" cy="428.33" rx="4.8" ry="3.8"/><ellipse cx="190.49" cy="442.43" rx="4.8" ry="3.8"/><ellipse cx="217.93" cy="388.01" rx="4.8" ry="3.8"/><ellipse cx="167.2" cy="449.82" rx="4.8" ry="3.8"/><ellipse cx="199.1" cy="428.19" rx="4.8" ry="3.8"/><ellipse cx="200.12" cy="455.65" rx="4.8" ry="3.8"/><ellipse cx="138.34" cy="476.72" rx="4.8" ry="3.8"/><ellipse cx="172.37" cy="441.68" rx="4.8" ry="3.8"/><ellipse cx="172.48" cy="445.8" rx="4.8" ry="3.8"/><ellipse cx="184.5" cy="440.41" rx="4.8" ry="3.8"/><ellipse cx="192.28" cy="457.3" rx="4.8" ry="3.8"/><ellipse cx="250.03" cy="437.79" rx="4.8" ry="3.8"/><ellipse cx="196.73" cy="424.55" rx="4.8" ry="3.8"/><ellipse cx="176.21" cy="464.61" rx="4.8" ry="3.8"/><ellipse cx="215.07" cy="441.2" rx="4.8" ry="3.8"/><ellipse cx="183.58" cy="471.59" rx="4.8" ry="3.8"/><ellipse cx="171.32" cy="447.78" rx="4.8" ry="3.8"/><ellipse cx="158.06" cy="467.4" rx="4.8" ry="3.8"/><ellipse cx="164.53" cy="457.99" rx="4.8" ry="3.8"/><ellipse cx="219.58" cy="397.42" rx="4.8" ry="3.8"/><ellipse cx="171.82" cy="486.43" rx="4.8" ry="3.8"/><ellipse cx="162.74" cy="459.74" rx="4.8" ry="3.8"/><ellipse cx="143.88" cy="460.26" rx="4.8" ry="3.8"/><ellipse cx="129.97" cy="467.57" rx="4.8" ry="3.8"/><ellipse cx="128.73" cy="472.35" rx="4.8" ry="3.8"/><ellipse cx="213.95" cy="388.34" rx="4.8" ry="3.8"/><ellipse cx="150.03" cy="483.08" rx="4.8" ry="3.8"/><ellipse cx="162.39" cy="456.29" rx="4.8" ry="3.8"/><ellipse cx="113.57" cy="482.9" rx="4.8" ry="3.8"/><ellipse cx="190.07" cy="429.19" rx="4.8" ry="3.8"/><ellipse cx="199.91" cy="435.77" rx="4.8" ry="3.8"/><ellipse cx="172.68" cy="460.19" rx="4.8" ry="3.8"/><ellipse cx="186.2" cy="447.87" rx="4.8" ry="3.8"/><ellipse cx="176.67" cy="442.04" rx="4.8" ry="3.8"/><ellipse cx="148.31" cy="459.43" rx="4.8" ry="3.8"/><ellipse cx="154.55" cy="452.95" rx="4.8" ry="3.8"/><ellipse cx="174.33" cy="441.26" rx="4.8" ry="3.8"/><ellipse cx="163.82" cy="452.79" rx="4.8" ry="3.8"/><ellipse cx="253.18" cy="414.07" rx="4.8" ry="3.8"/><ellipse cx="165.05" cy="447.04" rx="4.8" ry="3.8"/><ellipse cx="199.95" cy="414.92" rx="4.8" ry="3.8"/><ellipse cx="187.41" cy="432.02" rx="4.8" ry="3.8"/><ellipse cx="197.31" cy="449.26" rx="4.8" ry="3.8"/><ellipse cx="162.1" cy="458.52" rx="4.8" ry="3.8"/><ellipse cx="143.95" cy="472.45" rx="4.8" ry="3.8"/><ellipse cx="177.41" cy="459.04" rx="4.8" ry="3.8"/><ellipse cx="167.61" cy="456.37" rx="4.8" ry="3.8"/><ellipse cx="219.64" cy="416.4" rx="4.8" ry="3.8"/><ellipse cx="130.61" cy="469.27" rx="4.8" ry="3.8"/><ellipse cx="180.23" cy="425.77" rx="4.8" ry="3.8"/><ellipse cx="218.08" cy="426.15" rx="4.8" ry="3.8"/><ellipse cx="206.67" cy="452.37" rx="4.8" ry="3.8"/><ellipse cx="143.92" cy="483.41" rx="4.8" ry="3.8"/><ellipse cx="228.47" cy="415.91" rx="4.8" ry="3.8"/><ellipse cx="216.15" cy="447.47" rx="4.8" ry="3.8"/><ellipse cx="203.37" cy="445.75" rx="4.8" ry="3.8"/><ellipse cx="172.96" cy="448.16" rx="4.8" ry="3.8"/><ellipse cx="232.12" cy="413.36" rx="4.8" ry="3.8"/><ellipse cx="138.01" cy="476.1" rx="4.8" ry="3.8"/><ellipse cx="197.79" cy="423.42" rx="4.8" ry="3.8"/><ellipse cx="144.56" cy="471.99" rx="4.8" ry="3.8"/><ellipse cx="213.46" cy="439.36" rx="4.8" ry="3.8"/><ellipse cx="166.76" cy="468.86" rx="4.8" ry="3.8"/><ellipse cx="186.76" cy="455.11" rx="4.8" ry="3.8"/><ellipse cx="188.99" cy="419.91" rx="4.8" ry="3.8"/><ellipse cx="151.94" cy="457.56" rx="4.8" ry="3.8"/><ellipse cx="196.52" cy="433.17" rx="4.8" ry="3.8"/><ellipse cx="189.83" cy="456.66" rx="4.8" ry="3.8"/><ellipse cx="225.27" cy="414.72" rx="4.8" ry="3.8"/><ellipse cx="208.22" cy="426.61" rx="4.8" ry="3.8"/><ellipse cx="217.52" cy="417.9" rx="4.8" ry="3.8"/><ellipse cx="235.03" cy="396.15" rx="4.8" ry="3.8"/><ellipse cx="232.6" cy="417.17" rx="4.8" ry="3.8"/><ellipse cx="166.39" cy="441.6" rx="4.8" ry="3.8"/><ellipse cx="248.11" cy="418.07" rx="4.8" ry="3.8"/><ellipse cx="229.47" cy="413.1" rx="4.8" ry="3.8"/><ellipse cx="154.7" cy="445.2" rx="4.8" ry="3.8"/><ellipse cx="237.57" cy="418.48" rx="4.8" ry="3.8"/><ellipse cx="206.11" cy="418.54" rx="4.8" ry="3.8"/><ellipse cx="174.5" cy="452.99" rx="4.8" ry="3.8"/><ellipse cx="180.88" cy="444.3" rx="4.8" ry="3.8"/><ellipse cx="200.38" cy="416.43" rx="4.8" ry="3.8"/><ellipse cx="198.64" cy="441.05" rx="4.8" ry="3.8"/><ellipse cx="169.95" cy="473.19" rx="4.8" ry="3.8"/><ellipse cx="145.84" cy="445.02" rx="4.8" ry="3.8"/><ellipse cx="170.99" cy="449.36" rx="4.8" ry="3.8"/><ellipse cx="226.22" cy="420.56" rx="4.8" ry="3.8"/><ellipse cx="217.12" cy="428.2" rx="4.8" ry="3.8"/><ellipse cx="159.44" cy="467.3" rx="4.8" ry="3.8"/><ellipse cx="152.29" cy="454.16" rx="4.8" ry="3.8"/><ellipse cx="236.89" cy="406.28" rx="4.8" ry="3.8"/><ellipse cx="226.8" cy="399.68" rx="4.8" ry="3.8"/><ellipse cx="171.01" cy="463.82" rx="4.8" ry="3.8"/><ellipse cx="184.4" cy="434.47" rx="4.8" ry="3.8"/><ellipse cx="151.82" cy="457.46" rx="4.8" ry="3.8"/><ellipse cx="174.65" cy="448.87" rx="4.8" ry="3.8"/><ellipse cx="186.44" cy="443.88" rx="4.8" ry="3.8"/><ellipse cx="195.47" cy="444.09" rx="4.8" ry="3.8"/><ellipse cx="149.97" cy="473.48" rx="4.8" ry="3.8"/><ellipse cx="224.22" cy="428.5" rx="4.8" ry="3.8"/><ellipse cx="204.81" cy="435.61" rx="4.8" ry="3.8"/><ellipse cx="195.08" cy="455.81" rx="4.8" ry="3.8"/><ellipse cx="190.37" cy="454.67" rx="4.8" ry="3.8"/><ellipse cx="188.82" cy="452.95" rx="4.8" ry="3.8"/><ellipse cx="159.04" cy="446.23" rx="4.8" ry="3.8"/><ellipse cx="208.54" cy="430.16" rx="4.8" ry="3.8"/><ellipse cx="191.65" cy="442.92" rx="4.8" ry="3.8"/><ellipse cx="178.33" cy="448.89" rx="4.8" ry="3.8"/><ellipse cx="185.16" cy="446.9" rx="4.8" ry="3.8"/><ellipse cx="162.05" cy="454.2" rx="4.8" ry="3.8"/><ellipse cx="156.77" cy="472.47" rx="4.8" ry="3.8"/><ellipse cx="141.96" cy="461.79" rx="4.8" ry="3.8"/><ellipse cx="181.4" cy="443.29" rx="4.8" ry="3.8"/><ellipse cx="150.99" cy="464.61" rx="4.8" ry="3.8"/><ellipse cx="211.83" cy="445.02" rx="4.8" ry="3.8"/><ellipse cx="194.91" cy="447.63" rx="4.8" ry="3.8"/><ellipse cx="201.39" cy="428.24" rx="4.8" ry="3.8"/><ellipse cx="190.81" cy="441.24" rx="4.8" ry="3.8"/><ellipse cx="210.78" cy="444.85" rx="4.8" ry="3.8"/><ellipse cx="221.93" cy="445.84" rx="4.8" ry="3.8"/><ellipse cx="161.19" cy="461.82" rx="4.8" ry="3.8"/><ellipse cx="124.29" cy="471.16" rx="4.8" ry="3.8"/><ellipse cx="182.89" cy="436.58" rx="4.8" ry="3.8"/><ellipse cx="155.84" cy="438.6" rx="4.8" ry="3.8"/><ellipse cx="203.69" cy="416.88" rx="4.8" ry="3.8"/><ellipse cx="168.84" cy="473.77" rx="4.8" ry="3.8"/><ellipse cx="179.91" cy="437.25" rx="4.8" ry="3.8"/><ellipse cx="204.27" cy="443.26" rx="4.8" ry="3.8"/><ellipse cx="146.12" cy="469" rx="4.8" ry="3.8"/><ellipse cx="175.72" cy="454.66" rx="4.8" ry="3.8"/><ellipse cx="175.47" cy="444.87" rx="4.8" ry="3.8"/><ellipse cx="209" cy="434.08" rx="4.8" ry="3.8"/><ellipse cx="189.9" cy="422.07" rx="4.8" ry="3.8"/><ellipse cx="153.66" cy="478.79" rx="4.8" ry="3.8"/><ellipse cx="173.37" cy="463.08" rx="4.8" ry="3.8"/><ellipse cx="207" cy="452.62" rx="4.8" ry="3.8"/><ellipse cx="177.37" cy="430" rx="4.8" ry="3.8"/><ellipse cx="197.62" cy="438.97" rx="4.8" ry="3.8"/><ellipse cx="198.26" cy="411.22" rx="4.8" ry="3.8"/><ellipse cx="200.35" cy="452.34" rx="4.8" ry="3.8"/><ellipse cx="146.85" cy="466.95" rx="4.8" ry="3.8"/><ellipse cx="225.22" cy="405.65" rx="4.8" ry="3.8"/><ellipse cx="209.37" cy="430.97" rx="4.8" ry="3.8"/><ellipse cx="183.29" cy="435.23" rx="4.8" ry="3.8"/><ellipse cx="156.46" cy="477.39" rx="4.8" ry="3.8"/><ellipse cx="126.22" cy="472.16" rx="4.8" ry="3.8"/><ellipse cx="190.25" cy="462.63" rx="4.8" ry="3.8"/><ellipse cx="157.76" cy="445.23" rx="4.8" ry="3.8"/><ellipse cx="179.41" cy="444.79" rx="4.8" ry="3.8"/><ellipse cx="192.04" cy="447.75" rx="4.8" ry="3.8"/><ellipse cx="184.48" cy="442.48" rx="4.8" ry="3.8"/><ellipse cx="218.88" cy="422.67" rx="4.8" ry="3.8"/><ellipse cx="187.15" cy="437.35" rx="4.8" ry="3.8"/><ellipse cx="152.09" cy="443.41" rx="4.8" ry="3.8"/><ellipse cx="255.58" cy="407.75" rx="4.8" ry="3.8"/><ellipse cx="173.4" cy="467.25" rx="4.8" ry="3.8"/><ellipse cx="211.28" cy="406.75" rx="4.8" ry="3.8"/><ellipse cx="167.25" cy="478.47" rx="4.8" ry="3.8"/><ellipse cx="164.22" cy="469.17" rx="4.8" ry="3.8"/><ellipse cx="194.07" cy="442.68" rx="4.8" ry="3.8"/><ellipse cx="179.98" cy="445.36" rx="4.8" ry="3.8"/><ellipse cx="212.87" cy="435.18" rx="4.8" ry="3.8"/><ellipse cx="226.79" cy="417.65" rx="4.8" ry="3.8"/><ellipse cx="135.41" cy="472.82" rx="4.8" ry="3.8"/><ellipse cx="141.41" cy="473.94" rx="4.8" ry="3.8"/><ellipse cx="216.41" cy="400.59" rx="4.8" ry="3.8"/><ellipse cx="142.61" cy="459.89" rx="4.8" ry="3.8"/><ellipse cx="190.06" cy="458.97" rx="4.8" ry="3.8"/><ellipse cx="207.9" cy="422.23" rx="4.8" ry="3.8"/><ellipse cx="193.36" cy="429.05" rx="4.8" ry="3.8"/><ellipse cx="129.44" cy="467.4" rx="4.8" ry="3.8"/><ellipse cx="184.71" cy="433.32" rx="4.8" ry="3.8"/><ellipse cx="181.86" cy="451.02" rx="4.8" ry="3.8"/><ellipse cx="231.8" cy="420.7" rx="4.8" ry="3.8"/><ellipse cx="229.81" cy="406.13" rx="4.8" ry="3.8"/><ellipse cx="237.01" cy="417.15" rx="4.8" ry="3.8"/><ellipse cx="152.69" cy="457.5" rx="4.8" ry="3.8"/><ellipse cx="200.16" cy="429.43" rx="4.8" ry="3.8"/><ellipse cx="189.36" cy="461.06" rx="4.8" ry="3.8"/><ellipse cx="172.11" cy="467.93" rx="4.8" ry="3.8"/><ellipse cx="159.77" cy="449.86" rx="4.8" ry="3.8"/><ellipse cx="143.91" cy="454.11" rx="4.8" ry="3.8"/><ellipse cx="167.07" cy="476.25" rx="4.8" ry="3.8"/><ellipse cx="165.45" cy="453.01" rx="4.8" ry="3.8"/><ellipse cx="123.95" cy="477.77" rx="4.8" ry="3.8"/><ellipse cx="166.06" cy="474.35" rx="4.8" ry="3.8"/><ellipse cx="191.68" cy="444.81" rx="4.8" ry="3.8"/><ellipse cx="138.83" cy="457.36" rx="4.8" ry="3.8"/><ellipse cx="143.49" cy="466.55" rx="4.8" ry="3.8"/><ellipse cx="144.46" cy="461.1" rx="4.8" ry="3.8"/><ellipse cx="208.38" cy="421.59" rx="4.8" ry="3.8"/><ellipse cx="155.15" cy="482.06" rx="4.8" ry="3.8"/><ellipse cx="206.54" cy="426.88" rx="4.8" ry="3.8"/><ellipse cx="167.34" cy="458.45" rx="4.8" ry="3.8"/><ellipse cx="215.63" cy="413.15" rx="4.8" ry="3.8"/><ellipse cx="172.25" cy="472.08" rx="4.8" ry="3.8"/><ellipse cx="201.52" cy="448.27" rx="4.8" ry="3.8"/><ellipse cx="222.95" cy="415.58" rx="4.8" ry="3.8"/><ellipse cx="144.92" cy="452.02" rx="4.8" ry="3.8"/><ellipse cx="244.04" cy="414.23" rx="4.8" ry="3.8"/><ellipse cx="179.73" cy="435.08" rx="4.8" ry="3.8"/><ellipse cx="186.9" cy="461.77" rx="4.8" ry="3.8"/><ellipse cx="170.33" cy="446.06" rx="4.8" ry="3.8"/><ellipse cx="232.63" cy="399.62" rx="4.8" ry="3.8"/><ellipse cx="194.7" cy="415.25" rx="4.8" ry="3.8"/><ellipse cx="197.21" cy="421.25" rx="4.8" ry="3.8"/><ellipse cx="199.75" cy="452.87" rx="4.8" ry="3.8"/><ellipse cx="191.68" cy="435.49" rx="4.8" ry="3.8"/><ellipse cx="158.68" cy="446.81" rx="4.8" ry="3.8"/><ellipse cx="134.57" cy="478.61" rx="4.8" ry="3.8"/><ellipse cx="169.62" cy="456.91" rx="4.8" ry="3.8"/><ellipse cx="160.22" cy="454.73" rx="4.8" ry="3.8"/><ellipse cx="168.1" cy="448.71" rx="4.8" ry="3.8"/><ellipse cx="192.86" cy="418.63" rx="4.8" ry="3.8"/><ellipse cx="179.96" cy="438.43" rx="4.8" ry="3.8"/><ellipse cx="216.54" cy="443.37" rx="4.8" ry="3.8"/><ellipse cx="169.07" cy="465.83" rx="4.8" ry="3.8"/><ellipse cx="159.01" cy="438.38" rx="4.8" ry="3.8"/><ellipse cx="227.55" cy="433.54" rx="4.8" ry="3.8"/><ellipse cx="227.66" cy="420.67" rx="4.8" ry="3.8"/><ellipse cx="257.4" cy="402.06" rx="4.8" ry="3.8"/><ellipse cx="165.56" cy="451.56" rx="4.8" ry="3.8"/><ellipse cx="189.6" cy="419.11" rx="4.8" ry="3.8"/><ellipse cx="198.39" cy="416.91" rx="4.8" ry="3.8"/><ellipse cx="215.22" cy="397.61" rx="4.8" ry="3.8"/><ellipse cx="151.65" cy="477.88" rx="4.8" ry="3.8"/><ellipse cx="197.78" cy="461.35" rx="4.8" ry="3.8"/><ellipse cx="227.56" cy="443.04" rx="4.8" ry="3.8"/><ellipse cx="127.23" cy="463.87" rx="4.8" ry="3.8"/><ellipse cx="205.96" cy="421.03" rx="4.8" ry="3.8"/><ellipse cx="215.48" cy="418.78" rx="4.8" ry="3.8"/><ellipse cx="211.58" cy="443.52" rx="4.8" ry="3.8"/><ellipse cx="186.54" cy="445.11" rx="4.8" ry="3.8"/><ellipse cx="156.17" cy="480.88" rx="4.8" ry="3.8"/><ellipse cx="199.86" cy="446.1" rx="4.8" ry="3.8"/><ellipse cx="221.27" cy="403.13" rx="4.8" ry="3.8"/><ellipse cx="179.61" cy="450.83" rx="4.8" ry="3.8"/><ellipse cx="155.64" cy="452.08" rx="4.8" ry="3.8"/><ellipse cx="219.66" cy="424.82" rx="4.8" ry="3.8"/><ellipse cx="190.42" cy="420.78" rx="4.8" ry="3.8"/><ellipse cx="165.21" cy="466.27" rx="4.8" ry="3.8"/><ellipse cx="162.61" cy="475.4" rx="4.8" ry="3.8"/><ellipse cx="186.95" cy="452.75" rx="4.8" ry="3.8"/><ellipse cx="196.66" cy="460.87" rx="4.8" ry="3.8"/><ellipse cx="169.45" cy="430.96" rx="4.8" ry="3.8"/><ellipse cx="204.35" cy="434.23" rx="4.8" ry="3.8"/><ellipse cx="227.17" cy="422.57" rx="4.8" ry="3.8"/><ellipse cx="158.55" cy="466.59" rx="4.8" ry="3.8"/><ellipse cx="148.15" cy="474.88" rx="4.8" ry="3.8"/><ellipse cx="176" cy="455.48" rx="4.8" ry="3.8"/><ellipse cx="175.19" cy="452.46" rx="4.8" ry="3.8"/><ellipse cx="187.47" cy="432.31" rx="4.8" ry="3.8"/><ellipse cx="150.49" cy="476.72" rx="4.8" ry="3.8"/><ellipse cx="120.98" cy="481.82" rx="4.8" ry="3.8"/><ellipse cx="171.07" cy="470.82" rx="4.8" ry="3.8"/><ellipse cx="165.65" cy="464.75" rx="4.8" ry="3.8"/><ellipse cx="185.41" cy="450.8" rx="4.8" ry="3.8"/><ellipse cx="191.73" cy="436.08" rx="4.8" ry="3.8"/><ellipse cx="168.37" cy="466.24" rx="4.8" ry="3.8"/><ellipse cx="137.36" cy="477.07" rx="4.8" ry="3.8"/><ellipse cx="174.31" cy="438.68" rx="4.8" ry="3.8"/><ellipse cx="213.02" cy="445.43" rx="4.8" ry="3.8"/><ellipse cx="220.6" cy="415.84" rx="4.8" ry="3.8"/><ellipse cx="187.98" cy="436.59" rx="4.8" ry="3.8"/><ellipse cx="212.54" cy="433.37" rx="4.8" ry="3.8"/><ellipse cx="186.92" cy="469.92" rx="4.8" ry="3.8"/><ellipse cx="217.87" cy="425.67" rx="4.8" ry="3.8"/><ellipse cx="191.53" cy="446.38" rx="4.8" ry="3.8"/><ellipse cx="187.36" cy="441.5" rx="4.8" ry="3.8"/><ellipse cx="185.67" cy="419.54" rx="4.8" ry="3.8"/><ellipse cx="235.4" cy="399.43" rx="4.8" ry="3.8"/><ellipse cx="188.4" cy="444.65" rx="4.8" ry="3.8"/><ellipse cx="182.33" cy="455.17" rx="4.8" ry="3.8"/><ellipse cx="200.22" cy="440.94" rx="4.8" ry="3.8"/><ellipse cx="182.73" cy="451.94" rx="4.8" ry="3.8"/><ellipse cx="182.36" cy="412.37" rx="4.8" ry="3.8"/><ellipse cx="179.9" cy="429.05" rx="4.8" ry="3.8"/><ellipse cx="189.29" cy="447.11" rx="4.8" ry="3.8"/><ellipse cx="228.93" cy="403.43" rx="4.8" ry="3.8"/><ellipse cx="173.9" cy="451.7" rx="4.8" ry="3.8"/><ellipse cx="213.09" cy="446.66" rx="4.8" ry="3.8"/><ellipse cx="216.93" cy="403.06" rx="4.8" ry="3.8"/><ellipse cx="216.74" cy="434.8" rx="4.8" ry="3.8"/><ellipse cx="144.94" cy="450.76" rx="4.8" ry="3.8"/><ellipse cx="166.62" cy="466.89" rx="4.8" ry="3.8"/><ellipse cx="258.93" cy="389.01" rx="4.8" ry="3.8"/><ellipse cx="130.92" cy="477.44" rx="4.8" ry="3.8"/><ellipse cx="239.89" cy="417.05" rx="4.8" ry="3.8"/><ellipse cx="169.14" cy="480.22" rx="4.8" ry="3.8"/><ellipse cx="152" cy="449.86" rx="4.8" ry="3.8"/><ellipse cx="146.51" cy="461.8" rx="4.8" ry="3.8"/><ellipse cx="207.56" cy="429.71" rx="4.8" ry="3.8"/><ellipse cx="202.82" cy="421.98" rx="4.8" ry="3.8"/><ellipse cx="238.66" cy="406.27" rx="4.8" ry="3.8"/><ellipse cx="128.96" cy="478.18" rx="4.8" ry="3.8"/><ellipse cx="216.37" cy="446.09" rx="4.8" ry="3.8"/><ellipse cx="123.91" cy="462.71" rx="4.8" ry="3.8"/><ellipse cx="190.15" cy="450.11" rx="4.8" ry="3.8"/><ellipse cx="115.36" cy="483" rx="4.8" ry="3.8"/><ellipse cx="164.54" cy="456.19" rx="4.8" ry="3.8"/><ellipse cx="233.92" cy="411.67" rx="4.8" ry="3.8"/><ellipse cx="230.27" cy="403.56" rx="4.8" ry="3.8"/><ellipse cx="162.85" cy="484.08" rx="4.8" ry="3.8"/><ellipse cx="211.44" cy="437.74" rx="4.8" ry="3.8"/><ellipse cx="190.13" cy="438.39" rx="4.8" ry="3.8"/><ellipse cx="203.82" cy="413.74" rx="4.8" ry="3.8"/><ellipse cx="213.44" cy="440.46" rx="4.8" ry="3.8"/><ellipse cx="189.64" cy="438.72" rx="4.8" ry="3.8"/><ellipse cx="183.79" cy="430.95" rx="4.8" ry="3.8"/><ellipse cx="188.34" cy="450.31" rx="4.8" ry="3.8"/><ellipse cx="168.61" cy="458.2" rx="4.8" ry="3.8"/><ellipse cx="203.31" cy="422.6" rx="4.8" ry="3.8"/><ellipse cx="163.17" cy="463.27" rx="4.8" ry="3.8"/><ellipse cx="153.48" cy="442.13" rx="4.8" ry="3.8"/><ellipse cx="216.4" cy="459.12" rx="4.8" ry="3.8"/><ellipse cx="192.58" cy="437.51" rx="4.8" ry="3.8"/><ellipse cx="192.64" cy="437.86" rx="4.8" ry="3.8"/><ellipse cx="193.46" cy="442.08" rx="4.8" ry="3.8"/><ellipse cx="167" cy="432.04" rx="4.8" ry="3.8"/><ellipse cx="182.58" cy="429.4" rx="4.8" ry="3.8"/><ellipse cx="126.72" cy="479.74" rx="4.8" ry="3.8"/><ellipse cx="225.85" cy="387.18" rx="4.8" ry="3.8"/><ellipse cx="183.22" cy="436.18" rx="4.8" ry="3.8"/><ellipse cx="145.89" cy="442.83" rx="4.8" ry="3.8"/><ellipse cx="152.31" cy="441.56" rx="4.8" ry="3.8"/><ellipse cx="173.53" cy="470.89" rx="4.8" ry="3.8"/><ellipse cx="183.39" cy="432.31" rx="4.8" ry="3.8"/><ellipse cx="225.84" cy="428.13" rx="4.8" ry="3.8"/><ellipse cx="222.28" cy="421.17" rx="4.8" ry="3.8"/><ellipse cx="174.04" cy="442.86" rx="4.8" ry="3.8"/><ellipse cx="208.29" cy="424.5" rx="4.8" ry="3.8"/><ellipse cx="212.17" cy="410.92" rx="4.8" ry="3.8"/><ellipse cx="188.06" cy="441.75" rx="4.8" ry="3.8"/><ellipse cx="203.19" cy="437.02" rx="4.8" ry="3.8"/><ellipse cx="160.23" cy="455.35" rx="4.8" ry="3.8"/><ellipse cx="171.6" cy="451.63" rx="4.8" ry="3.8"/><ellipse cx="159.56" cy="471.44" rx="4.8" ry="3.8"/><ellipse cx="154.7" cy="442.28" rx="4.8" ry="3.8"/><ellipse cx="190.2" cy="435.72" rx="4.8" ry="3.8"/><ellipse cx="228.42" cy="410.36" rx="4.8" ry="3.8"/><ellipse cx="178.84" cy="441.73" rx="4.8" ry="3.8"/><ellipse cx="169.59" cy="450.82" rx="4.8" ry="3.8"/><ellipse cx="240.74" cy="417.25" rx="4.8" ry="3.8"/><ellipse cx="158.31" cy="461.43" rx="4.8" ry="3.8"/><ellipse cx="175.94" cy="446.29" rx="4.8" ry="3.8"/><ellipse cx="219.25" cy="436.52" rx="4.8" ry="3.8"/><ellipse cx="217.21" cy="426.54" rx="4.8" ry="3.8"/><ellipse cx="192.79" cy="427.85" rx="4.8" ry="3.8"/><ellipse cx="178.38" cy="443.85" rx="4.8" ry="3.8"/><ellipse cx="168.78" cy="428" rx="4.8" ry="3.8"/><ellipse cx="201.25" cy="444.23" rx="4.8" ry="3.8"/><ellipse cx="238.02" cy="411.26" rx="4.8" ry="3.8"/><ellipse cx="198.07" cy="411.41" rx="4.8" ry="3.8"/><ellipse cx="165.5" cy="458.94" rx="4.8" ry="3.8"/><ellipse cx="210.27" cy="424.48" rx="4.8" ry="3.8"/><ellipse cx="196.44" cy="431.18" rx="4.8" ry="3.8"/><ellipse cx="137.77" cy="466.62" rx="4.8" ry="3.8"/><ellipse cx="219.08" cy="412.4" rx="4.8" ry="3.8"/><ellipse cx="184.99" cy="439.96" rx="4.8" ry="3.8"/><ellipse cx="170.05" cy="478.01" rx="4.8" ry="3.8"/><ellipse cx="174.35" cy="432.05" rx="4.8" ry="3.8"/><ellipse cx="144.43" cy="454.66" rx="4.8" ry="3.8"/><ellipse cx="202.82" cy="446.18" rx="4.8" ry="3.8"/><ellipse cx="207.17" cy="441.74" rx="4.8" ry="3.8"/><ellipse cx="190.64" cy="467.95" rx="4.8" ry="3.8"/><ellipse cx="182.36" cy="438.17" rx="4.8" ry="3.8"/><ellipse cx="159.51" cy="454.77" rx="4.8" ry="3.8"/><ellipse cx="181.94" cy="447.64" rx="4.8" ry="3.8"/><ellipse cx="180.3" cy="454.69" rx="4.8" ry="3.8"/><ellipse cx="172.22" cy="477.05" rx="4.8" ry="3.8"/><ellipse cx="164.72" cy="461.17" rx="4.8" ry="3.8"/><ellipse cx="184.4" cy="450.05" rx="4.8" ry="3.8"/><ellipse cx="131.37" cy="483.01" rx="4.8" ry="3.8"/><ellipse cx="148.04" cy="468.32" rx="4.8" ry="3.8"/><ellipse cx="194.41" cy="437.49" rx="4.8" ry="3.8"/><ellipse cx="202.37" cy="427.42" rx="4.8" ry="3.8"/><ellipse cx="177.6" cy="432.8" rx="4.8" ry="3.8"/><ellipse cx="186.21" cy="441.8" rx="4.8" ry="3.8"/><ellipse cx="161.5" cy="480.58" rx="4.8" ry="3.8"/><ellipse cx="232.26" cy="398.64" rx="4.8" ry="3.8"/><ellipse cx="175.46" cy="440.01" rx="4.8" ry="3.8"/><ellipse cx="160.21" cy="460.99" rx="4.8" ry="3.8"/><ellipse cx="205.37" cy="419.77" rx="4.8" ry="3.8"/><ellipse cx="195.11" cy="444.17" rx="4.8" ry="3.8"/><ellipse cx="162.52" cy="446.71" rx="4.8" ry="3.8"/><ellipse cx="211.6" cy="432.01" rx="4.8" ry="3.8"/><ellipse cx="211.59" cy="440.13" rx="4.8" ry="3.8"/><ellipse cx="232.39" cy="425.98" rx="4.8" ry="3.8"/><ellipse cx="203.05" cy="440.24" rx="4.8" ry="3.8"/><ellipse cx="237.7" cy="417.3" rx="4.8" ry="3.8"/><ellipse cx="155.82" cy="460.3" rx="4.8" ry="3.8"/><ellipse cx="176.15" cy="450.59" rx="4.8" ry="3.8"/><ellipse cx="165.27" cy="467.04" rx="4.8" ry="3.8"/><ellipse cx="182.14" cy="461.16" rx="4.8" ry="3.8"/><ellipse cx="200.48" cy="433.87" rx="4.8" ry="3.8"/><ellipse cx="174.56" cy="434.32" rx="4.8" ry="3.8"/><ellipse cx="206.8" cy="456.05" rx="4.8" ry="3.8"/><ellipse cx="179.09" cy="455.33" rx="4.8" ry="3.8"/><ellipse cx="173.97" cy="461.62" rx="4.8" ry="3.8"/><ellipse cx="166.57" cy="464.13" rx="4.8" ry="3.8"/><ellipse cx="152.83" cy="465.54" rx="4.8" ry="3.8"/><ellipse cx="176.87" cy="456.73" rx="4.8" ry="3.8"/><ellipse cx="213.39" cy="412.05" rx="4.8" ry="3.8"/><ellipse cx="174.58" cy="453.39" rx="4.8" ry="3.8"/><ellipse cx="167.82" cy="457.61" rx="4.8" ry="3.8"/><ellipse cx="195.4" cy="441.9" rx="4.8" ry="3.8"/><ellipse cx="179.01" cy="439.17" rx="4.8" ry="3.8"/><ellipse cx="203.93" cy="422.64" rx="4.8" ry="3.8"/><ellipse cx="145.3" cy="474.22" rx="4.8" ry="3.8"/><ellipse cx="228.98" cy="436.52" rx="4.8" ry="3.8"/><ellipse cx="158.89" cy="471.51" rx="4.8" ry="3.8"/><ellipse cx="204.9" cy="428.87" rx="4.8" ry="3.8"/><ellipse cx="154.98" cy="451.28" rx="4.8" ry="3.8"/><ellipse cx="186.38" cy="437.71" rx="4.8" ry="3.8"/><ellipse cx="151.88" cy="469.4" rx="4.8" ry="3.8"/><ellipse cx="270.32" cy="405.74" rx="4.8" ry="3.8"/><ellipse cx="190.33" cy="437.36" rx="4.8" ry="3.8"/><ellipse cx="161.13" cy="448.17" rx="4.8" ry="3.8"/><ellipse cx="139.2" cy="460.25" rx="4.8" ry="3.8"/><ellipse cx="197.78" cy="415.64" rx="4.8" ry="3.8"/><ellipse cx="199.55" cy="425.54" rx="4.8" ry="3.8"/><ellipse cx="220.02" cy="444.2" rx="4.8" ry="3.8"/><ellipse cx="199.86" cy="449.72" rx="4.8" ry="3.8"/><ellipse cx="135.36" cy="468.17" rx="4.8" ry="3.8"/><ellipse cx="194.49" cy="459.18" rx="4.8" ry="3.8"/><ellipse cx="176.38" cy="449.65" rx="4.8" ry="3.8"/><ellipse cx="188.2" cy="460.43" rx="4.8" ry="3.8"/><ellipse cx="185.33" cy="457.16" rx="4.8" ry="3.8"/><ellipse cx="197.01" cy="463.57" rx="4.8" ry="3.8"/><ellipse cx="166.16" cy="471.14" rx="4.8" ry="3.8"/><ellipse cx="180.14" cy="458.98" rx="4.8" ry="3.8"/><ellipse cx="208.34" cy="438.03" rx="4.8" ry="3.8"/><ellipse cx="197.68" cy="461.91" rx="4.8" ry="3.8"/><ellipse cx="184.4" cy="440.79" rx="4.8" ry="3.8"/><ellipse cx="208.19" cy="415.64" rx="4.8" ry="3.8"/><ellipse cx="178.05" cy="439.12" rx="4.8" ry="3.8"/><ellipse cx="215.76" cy="448.31" rx="4.8" ry="3.8"/><ellipse cx="179.16" cy="474.84" rx="4.8" ry="3.8"/><ellipse cx="193.57" cy="439.14" rx="4.8" ry="3.8"/><ellipse cx="170.46" cy="434.24" rx="4.8" ry="3.8"/><ellipse cx="158.82" cy="481.91" rx="4.8" ry="3.8"/><ellipse cx="162.79" cy="451.28" rx="4.8" ry="3.8"/><ellipse cx="168.79" cy="436.5" rx="4.8" ry="3.8"/><ellipse cx="170.9" cy="455" rx="4.8" ry="3.8"/><ellipse cx="205.69" cy="447.22" rx="4.8" ry="3.8"/><ellipse cx="240.31" cy="439.25" rx="4.8" ry="3.8"/><ellipse cx="186.99" cy="475.04" rx="4.8" ry="3.8"/><ellipse cx="164.08" cy="444.84" rx="4.8" ry="3.8"/><ellipse cx="167.64" cy="471.4" rx="4.8" ry="3.8"/><ellipse cx="200.72" cy="448.79" rx="4.8" ry="3.8"/><ellipse cx="224.7" cy="430.54" rx="4.8" ry="3.8"/><ellipse cx="246.49" cy="411.84" rx="4.8" ry="3.8"/><ellipse cx="192.59" cy="443.99" rx="4.8" ry="3.8"/><ellipse cx="165.11" cy="458.04" rx="4.8" ry="3.8"/><ellipse cx="222.56" cy="432.47" rx="4.8" ry="3.8"/><ellipse cx="226.62" cy="420.27" rx="4.8" ry="3.8"/><ellipse cx="192.36" cy="437.53" rx="4.8" ry="3.8"/><ellipse cx="183.35" cy="447.1" rx="4.8" ry="3.8"/><ellipse cx="238.18" cy="432.86" rx="4.8" ry="3.8"/><ellipse cx="195.8" cy="423.25" rx="4.8" ry="3.8"/><ellipse cx="176.63" cy="460.22" rx="4.8" ry="3.8"/><ellipse cx="223.21" cy="421.43" rx="4.8" ry="3.8"/><ellipse cx="192.34" cy="427.81" rx="4.8" ry="3.8"/><ellipse cx="195.03" cy="434.69" rx="4.8" ry="3.8"/><ellipse cx="216.08" cy="415.38" rx="4.8" ry="3.8"/><ellipse cx="188.02" cy="447.45" rx="4.8" ry="3.8"/><ellipse cx="188.32" cy="452.11" rx="4.8" ry="3.8"/><ellipse cx="173.3" cy="446.06" rx="4.8" ry="3.8"/><ellipse cx="197.86" cy="422.2" rx="4.8" ry="3.8"/><ellipse cx="165.37" cy="445.8" rx="4.8" ry="3.8"/><ellipse cx="190.88" cy="427.58" rx="4.8" ry="3.8"/><ellipse cx="215.32" cy="428.88" rx="4.8" ry="3.8"/><ellipse cx="168.86" cy="425.82" rx="4.8" ry="3.8"/><ellipse cx="200.14" cy="444.2" rx="4.8" ry="3.8"/><ellipse cx="151.82" cy="470.01" rx="4.8" ry="3.8"/><ellipse cx="218.03" cy="427.88" rx="4.8" ry="3.8"/><ellipse cx="177.41" cy="466.12" rx="4.8" ry="3.8"/><ellipse cx="188.89" cy="431.2" rx="4.8" ry="3.8"/><ellipse cx="160.14" cy="458.35" rx="4.8" ry="3.8"/><ellipse cx="197.28" cy="425.93" rx="4.8" ry="3.8"/><ellipse cx="257.49" cy="409.5" rx="4.8" ry="3.8"/><ellipse cx="211.91" cy="415.91" rx="4.8" ry="3.8"/><ellipse cx="204.22" cy="425.93" rx="4.8" ry="3.8"/><ellipse cx="197.01" cy="448.18" rx="4.8" ry="3.8"/><ellipse cx="203.69" cy="434.6" rx="4.8" ry="3.8"/><ellipse cx="227.23" cy="414.36" rx="4.8" ry="3.8"/><ellipse cx="198.86" cy="437.57" rx="4.8" ry="3.8"/><ellipse cx="177.35" cy="424.86" rx="4.8" ry="3.8"/><ellipse cx="207.48" cy="417.48" rx="4.8" ry="3.8"/><ellipse cx="199.3" cy="425.22" rx="4.8" ry="3.8"/><ellipse cx="155.8" cy="454.08" rx="4.8" ry="3.8"/><ellipse cx="217.93" cy="428.96" rx="4.8" ry="3.8"/><ellipse cx="216.65" cy="408.35" rx="4.8" ry="3.8"/><ellipse cx="180" cy="419.75" rx="4.8" ry="3.8"/><ellipse cx="169.41" cy="454.58" rx="4.8" ry="3.8"/><ellipse cx="198.39" cy="410.08" rx="4.8" ry="3.8"/><ellipse cx="209.2" cy="438.83" rx="4.8" ry="3.8"/><ellipse cx="188.31" cy="455.78" rx="4.8" ry="3.8"/><ellipse cx="152.1" cy="468.88" rx="4.8" ry="3.8"/><ellipse cx="200.24" cy="430.72" rx="4.8" ry="3.8"/><ellipse cx="163.22" cy="462.32" rx="4.8" ry="3.8"/><ellipse cx="158.23" cy="466.89" rx="4.8" ry="3.8"/><ellipse cx="184.25" cy="434.92" rx="4.8" ry="3.8"/><ellipse cx="186.59" cy="437.09" rx="4.8" ry="3.8"/><ellipse cx="160.6" cy="484.57" rx="4.8" ry="3.8"/><ellipse cx="193.95" cy="466.33" rx="4.8" ry="3.8"/><ellipse cx="172.18" cy="453.75" rx="4.8" ry="3.8"/><ellipse cx="165.51" cy="475.24" rx="4.8" ry="3.8"/><ellipse cx="208.98" cy="439.95" rx="4.8" ry="3.8"/><ellipse cx="184.88" cy="419.29" rx="4.8" ry="3.8"/><ellipse cx="217.88" cy="420.56" rx="4.8" ry="3.8"/><ellipse cx="225.64" cy="432.55" rx="4.8" ry="3.8"/><ellipse cx="175.99" cy="443.1" rx="4.8" ry="3.8"/><ellipse cx="192.42" cy="429.47" rx="4.8" ry="3.8"/><ellipse cx="190.05" cy="448.76" rx="4.8" ry="3.8"/><ellipse cx="208.65" cy="406.08" rx="4.8" ry="3.8"/><ellipse cx="164.14" cy="458.82" rx="4.8" ry="3.8"/><ellipse cx="173.25" cy="463.8" rx="4.8" ry="3.8"/><ellipse cx="184.66" cy="443.36" rx="4.8" ry="3.8"/><ellipse cx="240.59" cy="404.96" rx="4.8" ry="3.8"/><ellipse cx="178.52" cy="448.9" rx="4.8" ry="3.8"/><ellipse cx="189.57" cy="450.81" rx="4.8" ry="3.8"/><ellipse cx="158.97" cy="444.2" rx="4.8" ry="3.8"/><ellipse cx="145.56" cy="452.26" rx="4.8" ry="3.8"/><ellipse cx="163.03" cy="431.98" rx="4.8" ry="3.8"/><ellipse cx="123.33" cy="463.32" rx="4.8" ry="3.8"/><ellipse cx="128.43" cy="474.25" rx="4.8" ry="3.8"/><ellipse cx="174.26" cy="465.18" rx="4.8" ry="3.8"/><ellipse cx="179.22" cy="433.03" rx="4.8" ry="3.8"/><ellipse cx="228.93" cy="412.04" rx="4.8" ry="3.8"/><ellipse cx="160.1" cy="473.67" rx="4.8" ry="3.8"/><ellipse cx="194.73" cy="447.24" rx="4.8" ry="3.8"/><ellipse cx="192.03" cy="429.49" rx="4.8" ry="3.8"/><ellipse cx="219.59" cy="428.07" rx="4.8" ry="3.8"/><ellipse cx="186.18" cy="428.22" rx="4.8" ry="3.8"/><ellipse cx="207.93" cy="436.23" rx="4.8" ry="3.8"/><ellipse cx="196.64" cy="442.3" rx="4.8" ry="3.8"/><ellipse cx="173.93" cy="445.4" rx="4.8" ry="3.8"/><ellipse cx="185.51" cy="452.69" rx="4.8" ry="3.8"/><ellipse cx="149.5" cy="486.71" rx="4.8" ry="3.8"/><ellipse cx="191.48" cy="446.48" rx="4.8" ry="3.8"/><ellipse cx="211.6" cy="425.7" rx="4.8" ry="3.8"/><ellipse cx="180.51" cy="439.2" rx="4.8" ry="3.8"/><ellipse cx="153.36" cy="454.65" rx="4.8" ry="3.8"/><ellipse cx="156.6" cy="460.14" rx="4.8" ry="3.8"/><ellipse cx="194.31" cy="397.69" rx="4.8" ry="3.8"/><ellipse cx="184.35" cy="450.93" rx="4.8" ry="3.8"/><ellipse cx="211.04" cy="417.64" rx="4.8" ry="3.8"/><ellipse cx="192.06" cy="442.04" rx="4.8" ry="3.8"/><ellipse cx="221.76" cy="432.14" rx="4.8" ry="3.8"/><ellipse cx="134.23" cy="474.3" rx="4.8" ry="3.8"/><ellipse cx="184.72" cy="437.87" rx="4.8" ry="3.8"/><ellipse cx="193.2" cy="433.71" rx="4.8" ry="3.8"/><ellipse cx="200.98" cy="417.05" rx="4.8" ry="3.8"/><ellipse cx="128.22" cy="467.09" rx="4.8" ry="3.8"/><ellipse cx="183.04" cy="458.01" rx="4.8" ry="3.8"/><ellipse cx="235.27" cy="421.39" rx="4.8" ry="3.8"/><ellipse cx="157.2" cy="466.45" rx="4.8" ry="3.8"/><ellipse cx="165.11" cy="441.16" rx="4.8" ry="3.8"/><ellipse cx="146.15" cy="483.47" rx="4.8" ry="3.8"/><ellipse cx="149.32" cy="464.24" rx="4.8" ry="3.8"/><ellipse cx="205.3" cy="436.16" rx="4.8" ry="3.8"/><ellipse cx="177.55" cy="457.09" rx="4.8" ry="3.8"/><ellipse cx="211.83" cy="423.6" rx="4.8" ry="3.8"/><ellipse cx="166.33" cy="453.78" rx="4.8" ry="3.8"/><ellipse cx="182.11" cy="432.7" rx="4.8" ry="3.8"/><ellipse cx="191.51" cy="454.35" rx="4.8" ry="3.8"/><ellipse cx="227.17" cy="434.68" rx="4.8" ry="3.8"/><ellipse cx="167.4" cy="444.18" rx="4.8" ry="3.8"/><ellipse cx="136.21" cy="462.86" rx="4.8" ry="3.8"/><ellipse cx="175.18" cy="437.49" rx="4.8" ry="3.8"/><ellipse cx="173.64" cy="450.39" rx="4.8" ry="3.8"/><ellipse cx="169.54" cy="441.71" rx="4.8" ry="3.8"/><ellipse cx="172.63" cy="429.07" rx="4.8" ry="3.8"/><ellipse cx="224.52" cy="425.37" rx="4.8" ry="3.8"/><ellipse cx="174.61" cy="459.77" rx="4.8" ry="3.8"/><ellipse cx="173.03" cy="436.13" rx="4.8" ry="3.8"/><ellipse cx="174.36" cy="458.54" rx="4.8" ry="3.8"/><ellipse cx="150.03" cy="441.57" rx="4.8" ry="3.8"/><ellipse cx="187.66" cy="449.49" rx="4.8" ry="3.8"/><ellipse cx="221.93" cy="410.52" rx="4.8" ry="3.8"/><ellipse cx="212.58" cy="440.4" rx="4.8" ry="3.8"/><ellipse cx="156.86" cy="467.81" rx="4.8" ry="3.8"/><ellipse cx="196.66" cy="424.52" rx="4.8" ry="3.8"/><ellipse cx="229.42" cy="398.88" rx="4.8" ry="3.8"/><ellipse cx="197.6" cy="446.74" rx="4.8" ry="3.8"/><ellipse cx="146.58" cy="464.48" rx="4.8" ry="3.8"/><ellipse cx="222.7" cy="407.77" rx="4.8" ry="3.8"/><ellipse cx="173.97" cy="454.92" rx="4.8" ry="3.8"/><ellipse cx="190.66" cy="465.91" rx="4.8" ry="3.8"/><ellipse cx="139.54" cy="474" rx="4.8" ry="3.8"/><ellipse cx="169.64" cy="433.65" rx="4.8" ry="3.8"/><ellipse cx="229.22" cy="401.42" rx="4.8" ry="3.8"/><ellipse cx="195.76" cy="421.44" rx="4.8" ry="3.8"/><ellipse cx="186.84" cy="450.88" rx="4.8" ry="3.8"/><ellipse cx="174.2" cy="450.85" rx="4.8" ry="3.8"/><ellipse cx="224.11" cy="418.74" rx="4.8" ry="3.8"/><ellipse cx="208.77" cy="432.66" rx="4.8" ry="3.8"/><ellipse cx="216.03" cy="437.87" rx="4.8" ry="3.8"/><ellipse cx="156.75" cy="439.22" rx="4.8" ry="3.8"/><ellipse cx="208.57" cy="409.99" rx="4.8" ry="3.8"/><ellipse cx="226.75" cy="431.15" rx="4.8" ry="3.8"/><ellipse cx="204.93" cy="422.73" rx="4.8" ry="3.8"/><ellipse cx="223.3" cy="415.56" rx="4.8" ry="3.8"/><ellipse cx="206.31" cy="428.57" rx="4.8" ry="3.8"/><ellipse cx="224.12" cy="430.73" rx="4.8" ry="3.8"/><ellipse cx="203.8" cy="456.42" rx="4.8" ry="3.8"/><ellipse cx="171.57" cy="456.8" rx="4.8" ry="3.8"/><ellipse cx="186.2" cy="441.51" rx="4.8" ry="3.8"/><ellipse cx="161.1" cy="464.04" rx="4.8" ry="3.8"/><ellipse cx="157.41" cy="445.64" rx="4.8" ry="3.8"/><ellipse cx="140.12" cy="472.24" rx="4.8" ry="3.8"/><ellipse cx="116.56" cy="476.85" rx="4.8" ry="3.8"/><ellipse cx="123.85" cy="472.64" rx="4.8" ry="3.8"/><ellipse cx="188.48" cy="434.36" rx="4.8" ry="3.8"/><ellipse cx="157.91" cy="452.78" rx="4.8" ry="3.8"/><ellipse cx="232.51" cy="440.34" rx="4.8" ry="3.8"/><ellipse cx="175.24" cy="454.62" rx="4.8" ry="3.8"/><ellipse cx="202.57" cy="419.41" rx="4.8" ry="3.8"/><ellipse cx="201.78" cy="431.7" rx="4.8" ry="3.8"/><ellipse cx="209.93" cy="439.79" rx="4.8" ry="3.8"/><ellipse cx="182.33" cy="445.51" rx="4.8" ry="3.8"/><ellipse cx="171.51" cy="439.03" rx="4.8" ry="3.8"/><ellipse cx="193.35" cy="439.9" rx="4.8" ry="3.8"/><ellipse cx="219.52" cy="424.53" rx="4.8" ry="3.8"/><ellipse cx="161.11" cy="460.36" rx="4.8" ry="3.8"/><ellipse cx="169" cy="415.4" rx="4.8" ry="3.8"/><ellipse cx="221.61" cy="417.78" rx="4.8" ry="3.8"/><ellipse cx="124.45" cy="480.83" rx="4.8" ry="3.8"/><ellipse cx="168.55" cy="447.36" rx="4.8" ry="3.8"/><ellipse cx="126.31" cy="475.07" rx="4.8" ry="3.8"/><ellipse cx="188.4" cy="464.46" rx="4.8" ry="3.8"/><ellipse cx="181.95" cy="456.83" rx="4.8" ry="3.8"/><ellipse cx="175.58" cy="448.4" rx="4.8" ry="3.8"/><ellipse cx="206.76" cy="415.2" rx="4.8" ry="3.8"/><ellipse cx="169.37" cy="447.68" rx="4.8" ry="3.8"/><ellipse cx="211.77" cy="425.79" rx="4.8" ry="3.8"/><ellipse cx="206.84" cy="440.9" rx="4.8" ry="3.8"/><ellipse cx="197.27" cy="439.64" rx="4.8" ry="3.8"/><ellipse cx="207.36" cy="425.4" rx="4.8" ry="3.8"/><ellipse cx="229.04" cy="451.54" rx="4.8" ry="3.8"/><ellipse cx="148.2" cy="439.89" rx="4.8" ry="3.8"/><ellipse cx="178.23" cy="441.73" rx="4.8" ry="3.8"/><ellipse cx="212.19" cy="427.53" rx="4.8" ry="3.8"/><ellipse cx="153.21" cy="460.25" rx="4.8" ry="3.8"/><ellipse cx="120.87" cy="471.64" rx="4.8" ry="3.8"/><ellipse cx="190.73" cy="435.88" rx="4.8" ry="3.8"/><ellipse cx="178.41" cy="458.14" rx="4.8" ry="3.8"/><ellipse cx="196.05" cy="458.99" rx="4.8" ry="3.8"/><ellipse cx="172.54" cy="460.03" rx="4.8" ry="3.8"/><ellipse cx="231.91" cy="403.94" rx="4.8" ry="3.8"/><ellipse cx="165.15" cy="452.14" rx="4.8" ry="3.8"/><ellipse cx="125.2" cy="476.35" rx="4.8" ry="3.8"/><ellipse cx="174.74" cy="461.81" rx="4.8" ry="3.8"/><ellipse cx="166.31" cy="467.9" rx="4.8" ry="3.8"/><ellipse cx="159.94" cy="448.26" rx="4.8" ry="3.8"/><ellipse cx="224.38" cy="414.63" rx="4.8" ry="3.8"/><ellipse cx="214.28" cy="434.73" rx="4.8" ry="3.8"/><ellipse cx="179.52" cy="447.98" rx="4.8" ry="3.8"/><ellipse cx="166.96" cy="452.08" rx="4.8" ry="3.8"/><ellipse cx="148.28" cy="479.09" rx="4.8" ry="3.8"/><ellipse cx="195.9" cy="433.82" rx="4.8" ry="3.8"/><ellipse cx="185.7" cy="450.22" rx="4.8" ry="3.8"/><ellipse cx="155.58" cy="480.09" rx="4.8" ry="3.8"/><ellipse cx="143.33" cy="473.17" rx="4.8" ry="3.8"/><ellipse cx="168.42" cy="456.21" rx="4.8" ry="3.8"/><ellipse cx="172.19" cy="475.1" rx="4.8" ry="3.8"/><ellipse cx="159.05" cy="456.51" rx="4.8" ry="3.8"/><ellipse cx="161.31" cy="457.11" rx="4.8" ry="3.8"/><ellipse cx="173.98" cy="450.85" rx="4.8" ry="3.8"/><ellipse cx="141.38" cy="464.27" rx="4.8" ry="3.8"/><ellipse cx="156.4" cy="453.12" rx="4.8" ry="3.8"/><ellipse cx="184.85" cy="450.8" rx="4.8" ry="3.8"/><ellipse cx="187.1" cy="429.01" rx="4.8" ry="3.8"/><ellipse cx="166.58" cy="459.69" rx="4.8" ry="3.8"/><ellipse cx="173.82" cy="447.25" rx="4.8" ry="3.8"/><ellipse cx="179.15" cy="478.59" rx="4.8" ry="3.8"/><ellipse cx="190.46" cy="439.68" rx="4.8" ry="3.8"/><ellipse cx="219.08" cy="424.99" rx="4.8" ry="3.8"/><ellipse cx="163.68" cy="454.09" rx="4.8" ry="3.8"/><ellipse cx="155.52" cy="437.24" rx="4.8" ry="3.8"/><ellipse cx="214.64" cy="405.52" rx="4.8" ry="3.8"/><ellipse cx="135.81" cy="455.24" rx="4.8" ry="3.8"/><ellipse cx="198.43" cy="461.41" rx="4.8" ry="3.8"/><ellipse cx="223.64" cy="427.96" rx="4.8" ry="3.8"/><ellipse cx="206.69" cy="431.53" rx="4.8" ry="3.8"/><ellipse cx="186.65" cy="434.99" rx="4.8" ry="3.8"/><ellipse cx="141.69" cy="479.81" rx="4.8" ry="3.8"/><ellipse cx="192.36" cy="423.33" rx="4.8" ry="3.8"/><ellipse cx="233.75" cy="408.02" rx="4.8" ry="3.8"/><ellipse cx="184.85" cy="469.75" rx="4.8" ry="3.8"/><ellipse cx="210.46" cy="455.62" rx="4.8" ry="3.8"/><ellipse cx="208.09" cy="412.34" rx="4.8" ry="3.8"/><ellipse cx="165.5" cy="481.69" rx="4.8" ry="3.8"/><ellipse cx="199.73" cy="408.68" rx="4.8" ry="3.8"/><ellipse cx="224.13" cy="414.46" rx="4.8" ry="3.8"/><ellipse cx="247.7" cy="445.8" rx="4.8" ry="3.8"/><ellipse cx="190.64" cy="413.83" rx="4.8" ry="3.8"/><ellipse cx="249.75" cy="406.42" rx="4.8" ry="3.8"/><ellipse cx="223.75" cy="413.41" rx="4.8" ry="3.8"/><ellipse cx="179.01" cy="454.08" rx="4.8" ry="3.8"/><ellipse cx="240.68" cy="419.17" rx="4.8" ry="3.8"/><ellipse cx="191.95" cy="440.9" rx="4.8" ry="3.8"/><ellipse cx="236.81" cy="416.1" rx="4.8" ry="3.8"/><ellipse cx="162.72" cy="459.61" rx="4.8" ry="3.8"/><ellipse cx="190.24" cy="401.22" rx="4.8" ry="3.8"/><ellipse cx="159.52" cy="436.45" rx="4.8" ry="3.8"/><ellipse cx="207.94" cy="420.32" rx="4.8" ry="3.8"/><ellipse cx="203.84" cy="414.22" rx="4.8" ry="3.8"/><ellipse cx="223.36" cy="428.27" rx="4.8" ry="3.8"/><ellipse cx="163.2" cy="446.63" rx="4.8" ry="3.8"/><ellipse cx="170.82" cy="446.54" rx="4.8" ry="3.8"/><ellipse cx="220.14" cy="438.72" rx="4.8" ry="3.8"/><ellipse cx="202.71" cy="433.71" rx="4.8" ry="3.8"/><ellipse cx="218.5" cy="418.57" rx="4.8" ry="3.8"/><ellipse cx="205.03" cy="432.87" rx="4.8" ry="3.8"/><ellipse cx="167.9" cy="473.86" rx="4.8" ry="3.8"/><ellipse cx="174.07" cy="465.83" rx="4.8" ry="3.8"/><ellipse cx="217.59" cy="440.61" rx="4.8" ry="3.8"/><ellipse cx="199.72" cy="466.54" rx="4.8" ry="3.8"/><ellipse cx="162.03" cy="451.22" rx="4.8" ry="3.8"/><ellipse cx="193.18" cy="438.31" rx="4.8" ry="3.8"/><ellipse cx="131.36" cy="485.49" rx="4.8" ry="3.8"/><ellipse cx="225.18" cy="428.04" rx="4.8" ry="3.8"/><ellipse cx="189.02" cy="436.09" rx="4.8" ry="3.8"/><ellipse cx="140.87" cy="463.85" rx="4.8" ry="3.8"/><ellipse cx="175.26" cy="462.27" rx="4.8" ry="3.8"/><ellipse cx="154.46" cy="477.45" rx="4.8" ry="3.8"/><ellipse cx="233.59" cy="415.96" rx="4.8" ry="3.8"/><ellipse cx="188.41" cy="424.12" rx="4.8" ry="3.8"/><ellipse cx="155.3" cy="466.12" rx="4.8" ry="3.8"/><ellipse cx="143.87" cy="469.43" rx="4.8" ry="3.8"/><ellipse cx="160.77" cy="472.04" rx="4.8" ry="3.8"/><ellipse cx="191.16" cy="422.93" rx="4.8" ry="3.8"/><ellipse cx="249.15" cy="432.13" rx="4.8" ry="3.8"/><ellipse cx="150.77" cy="466.44" rx="4.8" ry="3.8"/><ellipse cx="200.52" cy="420.17" rx="4.8" ry="3.8"/><ellipse cx="148.28" cy="467.54" rx="4.8" ry="3.8"/><ellipse cx="164.05" cy="446.89" rx="4.8" ry="3.8"/><ellipse cx="143.06" cy="461.98" rx="4.8" ry="3.8"/><ellipse cx="128.58" cy="461.56" rx="4.8" ry="3.8"/><ellipse cx="211.41" cy="448.42" rx="4.8" ry="3.8"/><ellipse cx="196.32" cy="437.7" rx="4.8" ry="3.8"/><ellipse cx="150.99" cy="445.52" rx="4.8" ry="3.8"/><ellipse cx="179.94" cy="436.87" rx="4.8" ry="3.8"/><ellipse cx="230.17" cy="418.18" rx="4.8" ry="3.8"/><ellipse cx="194.94" cy="431.84" rx="4.8" ry="3.8"/><ellipse cx="210.75" cy="411.35" rx="4.8" ry="3.8"/><ellipse cx="211.09" cy="426.33" rx="4.8" ry="3.8"/><ellipse cx="168.68" cy="444.49" rx="4.8" ry="3.8"/><ellipse cx="186.53" cy="448.09" rx="4.8" ry="3.8"/><ellipse cx="204.9" cy="412.66" rx="4.8" ry="3.8"/><ellipse cx="210.33" cy="426.57" rx="4.8" ry="3.8"/><ellipse cx="219.85" cy="411.18" rx="4.8" ry="3.8"/><ellipse cx="168.83" cy="476.23" rx="4.8" ry="3.8"/><ellipse cx="163.14" cy="467.69" rx="4.8" ry="3.8"/><ellipse cx="193.07" cy="453.82" rx="4.8" ry="3.8"/><ellipse cx="175.77" cy="437.85" rx="4.8" ry="3.8"/><ellipse cx="140.74" cy="475.04" rx="4.8" ry="3.8"/><ellipse cx="124.72" cy="481.98" rx="4.8" ry="3.8"/><ellipse cx="175.91" cy="464.47" rx="4.8" ry="3.8"/><ellipse cx="178.85" cy="444.44" rx="4.8" ry="3.8"/><ellipse cx="155.26" cy="478.36" rx="4.8" ry="3.8"/><ellipse cx="225.05" cy="434.75" rx="4.8" ry="3.8"/><ellipse cx="190.7" cy="455.65" rx="4.8" ry="3.8"/><ellipse cx="200.75" cy="446.26" rx="4.8" ry="3.8"/><ellipse cx="194.64" cy="453.07" rx="4.8" ry="3.8"/><ellipse cx="128.93" cy="472.31" rx="4.8" ry="3.8"/><ellipse cx="141.42" cy="470.24" rx="4.8" ry="3.8"/><ellipse cx="168.18" cy="471.06" rx="4.8" ry="3.8"/><ellipse cx="133.67" cy="463.63" rx="4.8" ry="3.8"/><ellipse cx="232.88" cy="403.65" rx="4.8" ry="3.8"/><ellipse cx="191.94" cy="440.11" rx="4.8" ry="3.8"/><ellipse cx="226.64" cy="411.8" rx="4.8" ry="3.8"/><ellipse cx="151.16" cy="445.07" rx="4.8" ry="3.8"/><ellipse cx="150.03" cy="455.9" rx="4.8" ry="3.8"/><ellipse cx="183.66" cy="440.65" rx="4.8" ry="3.8"/><ellipse cx="166.13" cy="443.26" rx="4.8" ry="3.8"/><ellipse cx="187.68" cy="444.81" rx="4.8" ry="3.8"/><ellipse cx="175.5" cy="441.67" rx="4.8" ry="3.8"/><ellipse cx="154.93" cy="476.94" rx="4.8" ry="3.8"/><ellipse cx="208.37" cy="425.67" rx="4.8" ry="3.8"/><ellipse cx="144.54" cy="459.87" rx="4.8" ry="3.8"/><ellipse cx="187.2" cy="439.37" rx="4.8" ry="3.8"/><ellipse cx="177.7" cy="464.65" rx="4.8" ry="3.8"/><ellipse cx="159.76" cy="467.6" rx="4.8" ry="3.8"/><ellipse cx="165.45" cy="442.75" rx="4.8" ry="3.8"/><ellipse cx="208.84" cy="425.27" rx="4.8" ry="3.8"/><ellipse cx="178.01" cy="460.23" rx="4.8" ry="3.8"/><ellipse cx="176.49" cy="427.01" rx="4.8" ry="3.8"/><ellipse cx="229.59" cy="411.56" rx="4.8" ry="3.8"/><ellipse cx="203.88" cy="429.12" rx="4.8" ry="3.8"/><ellipse cx="145.45" cy="458.28" rx="4.8" ry="3.8"/><ellipse cx="202.27" cy="417.46" rx="4.8" ry="3.8"/><ellipse cx="212.9" cy="398.86" rx="4.8" ry="3.8"/><ellipse cx="164.31" cy="478.18" rx="4.8" ry="3.8"/><ellipse cx="173.01" cy="462.57" rx="4.8" ry="3.8"/><ellipse cx="239.43" cy="393.03" rx="4.8" ry="3.8"/><ellipse cx="187.98" cy="437.12" rx="4.8" ry="3.8"/><ellipse cx="213.67" cy="410.95" rx="4.8" ry="3.8"/><ellipse cx="171.87" cy="462.03" rx="4.8" ry="3.8"/><ellipse cx="159.06" cy="459.12" rx="4.8" ry="3.8"/><ellipse cx="181.4" cy="450.92" rx="4.8" ry="3.8"/><ellipse cx="163.04" cy="457.2" rx="4.8" ry="3.8"/><ellipse cx="168.34" cy="440.22" rx="4.8" ry="3.8"/><ellipse cx="238.33" cy="426.71" rx="4.8" ry="3.8"/><ellipse cx="215.15" cy="403.15" rx="4.8" ry="3.8"/><ellipse cx="180.61" cy="435.06" rx="4.8" ry="3.8"/><ellipse cx="170.9" cy="461.34" rx="4.8" ry="3.8"/><ellipse cx="180.57" cy="468.71" rx="4.8" ry="3.8"/><ellipse cx="143.74" cy="457.92" rx="4.8" ry="3.8"/><ellipse cx="221.1" cy="397.79" rx="4.8" ry="3.8"/><ellipse cx="254.77" cy="406.82" rx="4.8" ry="3.8"/><ellipse cx="180.25" cy="460.78" rx="4.8" ry="3.8"/><ellipse cx="115.73" cy="474.53" rx="4.8" ry="3.8"/><ellipse cx="190" cy="455.26" rx="4.8" ry="3.8"/><ellipse cx="198.18" cy="432.6" rx="4.8" ry="3.8"/><ellipse cx="246.68" cy="403.8" rx="4.8" ry="3.8"/><ellipse cx="191.11" cy="442.56" rx="4.8" ry="3.8"/><ellipse cx="139.03" cy="484.74" rx="4.8" ry="3.8"/><ellipse cx="179.03" cy="452.34" rx="4.8" ry="3.8"/><ellipse cx="212.5" cy="425.98" rx="4.8" ry="3.8"/><ellipse cx="206.96" cy="409.15" rx="4.8" ry="3.8"/><ellipse cx="195.09" cy="443.99" rx="4.8" ry="3.8"/><ellipse cx="134.62" cy="475.64" rx="4.8" ry="3.8"/><ellipse cx="165.6" cy="441.87" rx="4.8" ry="3.8"/><ellipse cx="219.48" cy="410.53" rx="4.8" ry="3.8"/><ellipse cx="213.14" cy="434.59" rx="4.8" ry="3.8"/><ellipse cx="175.07" cy="458.14" rx="4.8" ry="3.8"/><ellipse cx="246.39" cy="424.02" rx="4.8" ry="3.8"/><ellipse cx="208.15" cy="440.25" rx="4.8" ry="3.8"/><ellipse cx="194.96" cy="433.71" rx="4.8" ry="3.8"/><ellipse cx="147.44" cy="464.95" rx="4.8" ry="3.8"/><ellipse cx="206.82" cy="421.88" rx="4.8" ry="3.8"/><ellipse cx="155.88" cy="463.36" rx="4.8" ry="3.8"/><ellipse cx="212.96" cy="424.01" rx="4.8" ry="3.8"/><ellipse cx="188.14" cy="416.06" rx="4.8" ry="3.8"/><ellipse cx="183.61" cy="414.16" rx="4.8" ry="3.8"/><ellipse cx="131.79" cy="468.66" rx="4.8" ry="3.8"/><ellipse cx="164.84" cy="455.08" rx="4.8" ry="3.8"/><ellipse cx="197.58" cy="428.27" rx="4.8" ry="3.8"/><ellipse cx="190.06" cy="452.65" rx="4.8" ry="3.8"/><ellipse cx="193.96" cy="442.7" rx="4.8" ry="3.8"/><ellipse cx="174.02" cy="471.23" rx="4.8" ry="3.8"/><ellipse cx="181.71" cy="451.68" rx="4.8" ry="3.8"/><ellipse cx="224.54" cy="416.14" rx="4.8" ry="3.8"/><ellipse cx="150.68" cy="478.17" rx="4.8" ry="3.8"/><ellipse cx="159.3" cy="456.04" rx="4.8" ry="3.8"/><ellipse cx="188.16" cy="443.84" rx="4.8" ry="3.8"/><ellipse cx="173.08" cy="457.39" rx="4.8" ry="3.8"/><ellipse cx="185.88" cy="422.78" rx="4.8" ry="3.8"/><ellipse cx="168.95" cy="459.38" rx="4.8" ry="3.8"/><ellipse cx="191.01" cy="432.2" rx="4.8" ry="3.8"/><ellipse cx="255.27" cy="379.35" rx="4.8" ry="3.8"/><ellipse cx="149.69" cy="462.7" rx="4.8" ry="3.8"/><ellipse cx="171.33" cy="460.45" rx="4.8" ry="3.8"/><ellipse cx="143.59" cy="465.18" rx="4.8" ry="3.8"/><ellipse cx="178.71" cy="461.06" rx="4.8" ry="3.8"/><ellipse cx="250.16" cy="419.67" rx="4.8" ry="3.8"/><ellipse cx="221.28" cy="401.03" rx="4.8" ry="3.8"/><ellipse cx="159.48" cy="462.2" rx="4.8" ry="3.8"/><ellipse cx="197.11" cy="453.93" rx="4.8" ry="3.8"/><ellipse cx="206.28" cy="424.95" rx="4.8" ry="3.8"/><ellipse cx="161.36" cy="427.96" rx="4.8" ry="3.8"/><ellipse cx="170.1" cy="428.48" rx="4.8" ry="3.8"/><ellipse cx="189.6" cy="451.82" rx="4.8" ry="3.8"/><ellipse cx="165.93" cy="452.53" rx="4.8" ry="3.8"/><ellipse cx="187.22" cy="428.09" rx="4.8" ry="3.8"/><ellipse cx="159.61" cy="464.58" rx="4.8" ry="3.8"/><ellipse cx="195.47" cy="461.26" rx="4.8" ry="3.8"/><ellipse cx="173.75" cy="449.05" rx="4.8" ry="3.8"/><ellipse cx="138" cy="477.02" rx="4.8" ry="3.8"/><ellipse cx="211.57" cy="447.18" rx="4.8" ry="3.8"/><ellipse cx="185.29" cy="438.36" rx="4.8" ry="3.8"/><ellipse cx="196.15" cy="450.53" rx="4.8" ry="3.8"/><ellipse cx="164.18" cy="463.08" rx="4.8" ry="3.8"/><ellipse cx="149.49" cy="444.36" rx="4.8" ry="3.8"/><ellipse cx="167.46" cy="447.27" rx="4.8" ry="3.8"/><ellipse cx="174.6" cy="465.33" rx="4.8" ry="3.8"/><ellipse cx="138.54" cy="454.33" rx="4.8" ry="3.8"/><ellipse cx="237.81" cy="406.93" rx="4.8" ry="3.8"/><ellipse cx="206" cy="418.76" rx="4.8" ry="3.8"/><ellipse cx="194.4" cy="411.34" rx="4.8" ry="3.8"/><ellipse cx="144.06" cy="478.68" rx="4.8" ry="3.8"/><ellipse cx="218.34" cy="428.26" rx="4.8" ry="3.8"/><ellipse cx="182.93" cy="442.45" rx="4.8" ry="3.8"/><ellipse cx="183.53" cy="445.95" rx="4.8" ry="3.8"/><ellipse cx="248.25" cy="435.1" rx="4.8" ry="3.8"/><ellipse cx="184.17" cy="433.1" rx="4.8" ry="3.8"/><ellipse cx="206.67" cy="420.1" rx="4.8" ry="3.8"/><ellipse cx="135.45" cy="450.16" rx="4.8" ry="3.8"/><ellipse cx="157.03" cy="445.97" rx="4.8" ry="3.8"/><ellipse cx="210.08" cy="437.99" rx="4.8" ry="3.8"/><ellipse cx="158.6" cy="450.62" rx="4.8" ry="3.8"/><ellipse cx="237.21" cy="404.47" rx="4.8" ry="3.8"/><ellipse cx="149.58" cy="485.68" rx="4.8" ry="3.8"/><ellipse cx="221.57" cy="437.06" rx="4.8" ry="3.8"/><ellipse cx="176.36" cy="453.8" rx="4.8" ry="3.8"/><ellipse cx="244.31" cy="420.11" rx="4.8" ry="3.8"/><ellipse cx="215.54" cy="428.83" rx="4.8" ry="3.8"/><ellipse cx="145.84" cy="452.03" rx="4.8" ry="3.8"/><ellipse cx="165.55" cy="456.63" rx="4.8" ry="3.8"/><ellipse cx="154.41" cy="467.07" rx="4.8" ry="3.8"/><ellipse cx="178.42" cy="442.44" rx="4.8" ry="3.8"/><ellipse cx="128.44" cy="453.56" rx="4.8" ry="3.8"/><ellipse cx="161.96" cy="450.67" rx="4.8" ry="3.8"/><ellipse cx="208.57" cy="450.07" rx="4.8" ry="3.8"/><ellipse cx="197.69" cy="463.83" rx="4.8" ry="3.8"/><ellipse cx="209.87" cy="409.67" rx="4.8" ry="3.8"/><ellipse cx="206.92" cy="419.73" rx="4.8" ry="3.8"/><ellipse cx="126.68" cy="454.85" rx="4.8" ry="3.8"/><ellipse cx="207.95" cy="421.28" rx="4.8" ry="3.8"/><ellipse cx="170.54" cy="441.4" rx="4.8" ry="3.8"/><ellipse cx="198.86" cy="446.26" rx="4.8" ry="3.8"/><ellipse cx="207.15" cy="432.48" rx="4.8" ry="3.8"/><ellipse cx="246.73" cy="436.81" rx="4.8" ry="3.8"/><ellipse cx="150.65" cy="481.89" rx="4.8" ry="3.8"/><ellipse cx="200.01" cy="434.48" rx="4.8" ry="3.8"/><ellipse cx="142.95" cy="473.84" rx="4.8" ry="3.8"/><ellipse cx="160.43" cy="480.1" rx="4.8" ry="3.8"/><ellipse cx="160.18" cy="462.96" rx="4.8" ry="3.8"/><ellipse cx="167.47" cy="455.74" rx="4.8" ry="3.8"/><ellipse cx="202.13" cy="448.87" rx="4.8" ry="3.8"/><ellipse cx="240.44" cy="413.9" rx="4.8" ry="3.8"/><ellipse cx="218.29" cy="415.45" rx="4.8" ry="3.8"/><ellipse cx="139.52" cy="487.39" rx="4.8" ry="3.8"/><ellipse cx="203.82" cy="425.14" rx="4.8" ry="3.8"/><ellipse cx="122.88" cy="478.04" rx="4.8" ry="3.8"/><ellipse cx="128.61" cy="456.36" rx="4.8" ry="3.8"/><ellipse cx="209.23" cy="424.42" rx="4.8" ry="3.8"/><ellipse cx="208" cy="404.76" rx="4.8" ry="3.8"/><ellipse cx="177.15" cy="463.88" rx="4.8" ry="3.8"/><ellipse cx="202.39" cy="424.48" rx="4.8" ry="3.8"/><ellipse cx="196.68" cy="463.36" rx="4.8" ry="3.8"/><ellipse cx="165.01" cy="473.01" rx="4.8" ry="3.8"/><ellipse cx="206.42" cy="434.44" rx="4.8" ry="3.8"/><ellipse cx="197.91" cy="461.23" rx="4.8" ry="3.8"/><ellipse cx="220.43" cy="421.95" rx="4.8" ry="3.8"/><ellipse cx="235.45" cy="434.22" rx="4.8" ry="3.8"/><ellipse cx="129.16" cy="483.23" rx="4.8" ry="3.8"/><ellipse cx="215.83" cy="407.53" rx="4.8" ry="3.8"/><ellipse cx="145.06" cy="466.85" rx="4.8" ry="3.8"/><ellipse cx="140.11" cy="482.02" rx="4.8" ry="3.8"/><ellipse cx="204.7" cy="430.88" rx="4.8" ry="3.8"/><ellipse cx="157.7" cy="463.88" rx="4.8" ry="3.8"/><ellipse cx="198.26" cy="446.39" rx="4.8" ry="3.8"/><ellipse cx="185.22" cy="437.95" rx="4.8" ry="3.8"/><ellipse cx="214.44" cy="419.4" rx="4.8" ry="3.8"/><ellipse cx="166.04" cy="433.04" rx="4.8" ry="3.8"/><ellipse cx="200.62" cy="428.66" rx="4.8" ry="3.8"/><ellipse cx="164.6" cy="466.5" rx="4.8" ry="3.8"/><ellipse cx="194.91" cy="415.44" rx="4.8" ry="3.8"/><ellipse cx="239.35" cy="406.68" rx="4.8" ry="3.8"/><ellipse cx="235.01" cy="410.5" rx="4.8" ry="3.8"/><ellipse cx="190.57" cy="445.61" rx="4.8" ry="3.8"/><ellipse cx="151.6" cy="479.65" rx="4.8" ry="3.8"/><ellipse cx="169.01" cy="472.92" rx="4.8" ry="3.8"/><ellipse cx="193.2" cy="413.24" rx="4.8" ry="3.8"/><ellipse cx="182.86" cy="434.8" rx="4.8" ry="3.8"/><ellipse cx="195.72" cy="438.47" rx="4.8" ry="3.8"/><ellipse cx="186.52" cy="463.25" rx="4.8" ry="3.8"/><ellipse cx="175.85" cy="464.98" rx="4.8" ry="3.8"/><ellipse cx="200.51" cy="443.67" rx="4.8" ry="3.8"/><ellipse cx="200.99" cy="414.1" rx="4.8" ry="3.8"/><ellipse cx="181.06" cy="440.8" rx="4.8" ry="3.8"/><ellipse cx="191.99" cy="430.57" rx="4.8" ry="3.8"/><ellipse cx="167.21" cy="434.69" rx="4.8" ry="3.8"/><ellipse cx="247.69" cy="420.03" rx="4.8" ry="3.8"/><ellipse cx="137.56" cy="460.67" rx="4.8" ry="3.8"/><ellipse cx="243.51" cy="408.92" rx="4.8" ry="3.8"/><ellipse cx="142.98" cy="467.77" rx="4.8" ry="3.8"/><ellipse cx="206.05" cy="414.8" rx="4.8" ry="3.8"/><ellipse cx="182.95" cy="438.34" rx="4.8" ry="3.8"/><ellipse cx="145.17" cy="443.59" rx="4.8" ry="3.8"/><ellipse cx="153.42" cy="458.5" rx="4.8" ry="3.8"/><ellipse cx="213.61" cy="404.42" rx="4.8" ry="3.8"/><ellipse cx="200.63" cy="414.61" rx="4.8" ry="3.8"/><ellipse cx="129.64" cy="467.86" rx="4.8" ry="3.8"/><ellipse cx="194.62" cy="453.31" rx="4.8" ry="3.8"/><ellipse cx="190.05" cy="431.89" rx="4.8" ry="3.8"/><ellipse cx="192.97" cy="447.72" rx="4.8" ry="3.8"/><ellipse cx="215.96" cy="426.49" rx="4.8" ry="3.8"/><ellipse cx="155.19" cy="453.37" rx="4.8" ry="3.8"/><ellipse cx="187.51" cy="441.73" rx="4.8" ry="3.8"/><ellipse cx="222.8" cy="422.73" rx="4.8" ry="3.8"/><ellipse cx="209.58" cy="448.81" rx="4.8" ry="3.8"/><ellipse cx="186.31" cy="431.51" rx="4.8" ry="3.8"/><ellipse cx="208.04" cy="424.41" rx="4.8" ry="3.8"/><ellipse cx="140.63" cy="485.81" rx="4.8" ry="3.8"/><ellipse cx="190.42" cy="431.91" rx="4.8" ry="3.8"/><ellipse cx="168" cy="441.8" rx="4.8" ry="3.8"/><ellipse cx="198.26" cy="430.07" rx="4.8" ry="3.8"/><ellipse cx="195" cy="452.12" rx="4.8" ry="3.8"/><ellipse cx="173.97" cy="450.22" rx="4.8" ry="3.8"/><ellipse cx="174.54" cy="464.89" rx="4.8" ry="3.8"/><ellipse cx="162.39" cy="478.12" rx="4.8" ry="3.8"/><ellipse cx="227.32" cy="425.1" rx="4.8" ry="3.8"/><ellipse cx="225.29" cy="394.72" rx="4.8" ry="3.8"/><ellipse cx="178.07" cy="446.62" rx="4.8" ry="3.8"/><ellipse cx="188.27" cy="429.69" rx="4.8" ry="3.8"/><ellipse cx="130.43" cy="481.94" rx="4.8" ry="3.8"/><ellipse cx="197.14" cy="435.71" rx="4.8" ry="3.8"/><ellipse cx="176.31" cy="446.47" rx="4.8" ry="3.8"/><ellipse cx="188.44" cy="412.09" rx="4.8" ry="3.8"/><ellipse cx="227.93" cy="399.56" rx="4.8" ry="3.8"/><ellipse cx="204.63" cy="436.93" rx="4.8" ry="3.8"/><ellipse cx="189" cy="442.08" rx="4.8" ry="3.8"/><ellipse cx="230.47" cy="421.53" rx="4.8" ry="3.8"/><ellipse cx="234.12" cy="406.56" rx="4.8" ry="3.8"/><ellipse cx="225.5" cy="403.82" rx="4.8" ry="3.8"/><ellipse cx="141.95" cy="441.09" rx="4.8" ry="3.8"/><ellipse cx="132.45" cy="476.85" rx="4.8" ry="3.8"/><ellipse cx="183.67" cy="465.53" rx="4.8" ry="3.8"/><ellipse cx="193.09" cy="437.64" rx="4.8" ry="3.8"/><ellipse cx="177.36" cy="451.19" rx="4.8" ry="3.8"/><ellipse cx="184.11" cy="448.45" rx="4.8" ry="3.8"/><ellipse cx="136.61" cy="474.51" rx="4.8" ry="3.8"/><ellipse cx="172.4" cy="460.4" rx="4.8" ry="3.8"/><ellipse cx="190.52" cy="424.87" rx="4.8" ry="3.8"/><ellipse cx="176.37" cy="445.79" rx="4.8" ry="3.8"/><ellipse cx="126.82" cy="464.17" rx="4.8" ry="3.8"/><ellipse cx="167.9" cy="434.68" rx="4.8" ry="3.8"/><ellipse cx="216.86" cy="398.86" rx="4.8" ry="3.8"/><ellipse cx="196.05" cy="437.58" rx="4.8" ry="3.8"/><ellipse cx="214.25" cy="440.05" rx="4.8" ry="3.8"/><ellipse cx="155.04" cy="459.33" rx="4.8" ry="3.8"/><ellipse cx="156.67" cy="443.92" rx="4.8" ry="3.8"/><ellipse cx="203.27" cy="460.95" rx="4.8" ry="3.8"/><ellipse cx="143.96" cy="446.69" rx="4.8" ry="3.8"/><ellipse cx="202.88" cy="444.53" rx="4.8" ry="3.8"/><ellipse cx="171.33" cy="440.34" rx="4.8" ry="3.8"/><ellipse cx="178.18" cy="459.1" rx="4.8" ry="3.8"/><ellipse cx="210.48" cy="430.43" rx="4.8" ry="3.8"/><ellipse cx="213.72" cy="402.63" rx="4.8" ry="3.8"/><ellipse cx="233.92" cy="456.85" rx="4.8" ry="3.8"/><ellipse cx="160.49" cy="460.73" rx="4.8" ry="3.8"/><ellipse cx="205.68" cy="429.88" rx="4.8" ry="3.8"/><ellipse cx="140.39" cy="477.97" rx="4.8" ry="3.8"/><ellipse cx="194.08" cy="466.64" rx="4.8" ry="3.8"/><ellipse cx="149.07" cy="445.24" rx="4.8" ry="3.8"/><ellipse cx="168.03" cy="438.71" rx="4.8" ry="3.8"/><ellipse cx="211.7" cy="419.21" rx="4.8" ry="3.8"/><ellipse cx="142" cy="470.7" rx="4.8" ry="3.8"/><ellipse cx="167.54" cy="480.78" rx="4.8" ry="3.8"/><ellipse cx="195.29" cy="445.04" rx="4.8" ry="3.8"/><ellipse cx="207.33" cy="429.1" rx="4.8" ry="3.8"/><ellipse cx="142.36" cy="459.19" rx="4.8" ry="3.8"/><ellipse cx="138.43" cy="467.87" rx="4.8" ry="3.8"/><ellipse cx="184" cy="442.45" rx="4.8" ry="3.8"/><ellipse cx="165.3" cy="459.7" rx="4.8" ry="3.8"/><ellipse cx="159.58" cy="475.26" rx="4.8" ry="3.8"/><ellipse cx="150.93" cy="468.14" rx="4.8" ry="3.8"/><ellipse cx="194.51" cy="436.88" rx="4.8" ry="3.8"/><ellipse cx="186.88" cy="439.66" rx="4.8" ry="3.8"/><ellipse cx="187.43" cy="446.72" rx="4.8" ry="3.8"/><ellipse cx="190.29" cy="436.04" rx="4.8" ry="3.8"/><ellipse cx="213.14" cy="431.89" rx="4.8" ry="3.8"/><ellipse cx="182.51" cy="452.43" rx="4.8" ry="3.8"/><ellipse cx="173.07" cy="451" rx="4.8" ry="3.8"/><ellipse cx="194.44" cy="447.23" rx="4.8" ry="3.8"/><ellipse cx="141.94" cy="472.12" rx="4.8" ry="3.8"/><ellipse cx="203.59" cy="432.09" rx="4.8" ry="3.8"/><ellipse cx="174.49" cy="461.26" rx="4.8" ry="3.8"/><ellipse cx="174.37" cy="458.91" rx="4.8" ry="3.8"/><ellipse cx="194.87" cy="425.6" rx="4.8" ry="3.8"/><ellipse cx="162.04" cy="473.85" rx="4.8" ry="3.8"/><ellipse cx="93.56" cy="507.94" rx="4.8" ry="3.8"/><ellipse cx="91.34" cy="509.61" rx="4.8" ry="3.8"/><ellipse cx="112.31" cy="524.62" rx="4.8" ry="3.8"/><ellipse cx="104.09" cy="511.48" rx="4.8" ry="3.8"/><ellipse cx="105.76" cy="518.84" rx="4.8" ry="3.8"/><ellipse cx="100.92" cy="522.86" rx="4.8" ry="3.8"/><ellipse cx="88.21" cy="521.79" rx="4.8" ry="3.8"/><ellipse cx="111.19" cy="519.25" rx="4.8" ry="3.8"/><ellipse cx="100.92" cy="519.2" rx="4.8" ry="3.8"/><ellipse cx="80.29" cy="521.71" rx="4.8" ry="3.8"/><ellipse cx="97.26" cy="525.05" rx="4.8" ry="3.8"/><ellipse cx="96.95" cy="525.11" rx="4.8" ry="3.8"/><ellipse cx="78.21" cy="522.23" rx="4.8" ry="3.8"/><ellipse cx="86.16" cy="528.84" rx="4.8" ry="3.8"/><ellipse cx="68.87" cy="525.21" rx="4.8" ry="3.8"/><ellipse cx="92.1" cy="524.29" rx="4.8" ry="3.8"/><ellipse cx="91.4" cy="531.55" rx="4.8" ry="3.8"/><ellipse cx="93.95" cy="518.11" rx="4.8" ry="3.8"/><ellipse cx="92.53" cy="525.24" rx="4.8" ry="3.8"/><ellipse cx="90.06" cy="520.71" rx="4.8" ry="3.8"/><ellipse cx="102.34" cy="517.55" rx="4.8" ry="3.8"/><ellipse cx="92.23" cy="526.03" rx="4.8" ry="3.8"/><ellipse cx="99.77" cy="512.02" rx="4.8" ry="3.8"/><ellipse cx="82.96" cy="518.58" rx="4.8" ry="3.8"/><ellipse cx="92.9" cy="521.39" rx="4.8" ry="3.8"/><ellipse cx="73.14" cy="512.87" rx="4.8" ry="3.8"/><ellipse cx="84.42" cy="514.94" rx="4.8" ry="3.8"/><ellipse cx="83.84" cy="522.43" rx="4.8" ry="3.8"/><ellipse cx="96.65" cy="517.36" rx="4.8" ry="3.8"/><ellipse cx="82.64" cy="518.36" rx="4.8" ry="3.8"/><ellipse cx="93.94" cy="514.29" rx="4.8" ry="3.8"/><ellipse cx="82.75" cy="523.19" rx="4.8" ry="3.8"/><ellipse cx="84.24" cy="528.21" rx="4.8" ry="3.8"/><ellipse cx="92.24" cy="518.46" rx="4.8" ry="3.8"/><ellipse cx="106.65" cy="520.79" rx="4.8" ry="3.8"/><ellipse cx="93.87" cy="513.28" rx="4.8" ry="3.8"/><ellipse cx="87.67" cy="521.59" rx="4.8" ry="3.8"/><ellipse cx="90.74" cy="526.06" rx="4.8" ry="3.8"/><ellipse cx="76.86" cy="516.5" rx="4.8" ry="3.8"/><ellipse cx="91.22" cy="521.87" rx="4.8" ry="3.8"/><ellipse cx="73.72" cy="523.72" rx="4.8" ry="3.8"/><ellipse cx="103.59" cy="526.83" rx="4.8" ry="3.8"/><ellipse cx="78.06" cy="516.34" rx="4.8" ry="3.8"/><ellipse cx="106.76" cy="508.26" rx="4.8" ry="3.8"/><ellipse cx="82.25" cy="518.98" rx="4.8" ry="3.8"/><ellipse cx="79.81" cy="519.95" rx="4.8" ry="3.8"/><ellipse cx="84.57" cy="521.26" rx="4.8" ry="3.8"/><ellipse cx="105.64" cy="516.55" rx="4.8" ry="3.8"/><ellipse cx="86.11" cy="521.92" rx="4.8" ry="3.8"/><ellipse cx="92.36" cy="524.58" rx="4.8" ry="3.8"/><ellipse cx="91.63" cy="517.31" rx="4.8" ry="3.8"/><ellipse cx="108.32" cy="532.03" rx="4.8" ry="3.8"/><ellipse cx="74.4" cy="532.6" rx="4.8" ry="3.8"/><ellipse cx="99.88" cy="503.61" rx="4.8" ry="3.8"/><ellipse cx="91.47" cy="520.52" rx="4.8" ry="3.8"/><ellipse cx="103.12" cy="535.47" rx="4.8" ry="3.8"/><ellipse cx="90.99" cy="524.79" rx="4.8" ry="3.8"/><ellipse cx="83.1" cy="520.57" rx="4.8" ry="3.8"/><ellipse cx="81.88" cy="515.66" rx="4.8" ry="3.8"/><ellipse cx="89.04" cy="519.23" rx="4.8" ry="3.8"/><ellipse cx="120.34" cy="519.15" rx="4.8" ry="3.8"/><ellipse cx="100.49" cy="525.21" rx="4.8" ry="3.8"/><ellipse cx="104.44" cy="512.62" rx="4.8" ry="3.8"/><ellipse cx="90.8" cy="514.87" rx="4.8" ry="3.8"/><ellipse cx="108.89" cy="509.08" rx="4.8" ry="3.8"/><ellipse cx="89.1" cy="522.12" rx="4.8" ry="3.8"/><ellipse cx="102.71" cy="529.08" rx="4.8" ry="3.8"/><ellipse cx="81.67" cy="519.87" rx="4.8" ry="3.8"/><ellipse cx="96.08" cy="508.18" rx="4.8" ry="3.8"/><ellipse cx="110.72" cy="515.75" rx="4.8" ry="3.8"/><ellipse cx="94.51" cy="529.52" rx="4.8" ry="3.8"/><ellipse cx="86.8" cy="520.43" rx="4.8" ry="3.8"/><ellipse cx="86.3" cy="521.86" rx="4.8" ry="3.8"/><ellipse cx="96.55" cy="526.72" rx="4.8" ry="3.8"/><ellipse cx="82.11" cy="534.76" rx="4.8" ry="3.8"/><ellipse cx="103.14" cy="526.23" rx="4.8" ry="3.8"/><ellipse cx="86.46" cy="515.84" rx="4.8" ry="3.8"/><ellipse cx="84.56" cy="508.51" rx="4.8" ry="3.8"/><ellipse cx="97.84" cy="519.2" rx="4.8" ry="3.8"/><ellipse cx="90.5" cy="522.86" rx="4.8" ry="3.8"/><ellipse cx="99" cy="506.77" rx="4.8" ry="3.8"/><ellipse cx="83.9" cy="529.87" rx="4.8" ry="3.8"/><ellipse cx="96.41" cy="513.4" rx="4.8" ry="3.8"/><ellipse cx="70.78" cy="529.59" rx="4.8" ry="3.8"/><ellipse cx="76.86" cy="520.23" rx="4.8" ry="3.8"/><ellipse cx="95.28" cy="525.5" rx="4.8" ry="3.8"/><ellipse cx="75.28" cy="519.71" rx="4.8" ry="3.8"/><ellipse cx="87.18" cy="509.43" rx="4.8" ry="3.8"/><ellipse cx="101.25" cy="523.41" rx="4.8" ry="3.8"/><ellipse cx="85.72" cy="524.18" rx="4.8" ry="3.8"/><ellipse cx="80.17" cy="522.81" rx="4.8" ry="3.8"/><ellipse cx="100.88" cy="529.59" rx="4.8" ry="3.8"/><ellipse cx="86.29" cy="512.42" rx="4.8" ry="3.8"/><ellipse cx="98.16" cy="525.5" rx="4.8" ry="3.8"/><ellipse cx="79.22" cy="529.15" rx="4.8" ry="3.8"/><ellipse cx="89.93" cy="526.2" rx="4.8" ry="3.8"/><ellipse cx="71.56" cy="527.41" rx="4.8" ry="3.8"/><ellipse cx="82.83" cy="511.54" rx="4.8" ry="3.8"/><ellipse cx="83.47" cy="522" rx="4.8" ry="3.8"/><ellipse cx="102.17" cy="515.03" rx="4.8" ry="3.8"/><ellipse cx="86.87" cy="536.5" rx="4.8" ry="3.8"/><ellipse cx="106.19" cy="514.77" rx="4.8" ry="3.8"/><ellipse cx="83.78" cy="523.29" rx="4.8" ry="3.8"/><ellipse cx="77.42" cy="529.75" rx="4.8" ry="3.8"/><ellipse cx="70.98" cy="521.69" rx="4.8" ry="3.8"/><ellipse cx="95.4" cy="519.48" rx="4.8" ry="3.8"/><ellipse cx="98.6" cy="516.54" rx="4.8" ry="3.8"/><ellipse cx="90.57" cy="527.29" rx="4.8" ry="3.8"/><ellipse cx="96.29" cy="512.68" rx="4.8" ry="3.8"/><ellipse cx="96.77" cy="512.19" rx="4.8" ry="3.8"/><ellipse cx="83.32" cy="529.22" rx="4.8" ry="3.8"/><ellipse cx="104.33" cy="522.87" rx="4.8" ry="3.8"/><ellipse cx="92.04" cy="522.48" rx="4.8" ry="3.8"/><ellipse cx="89.35" cy="523.49" rx="4.8" ry="3.8"/><ellipse cx="82.51" cy="534.63" rx="4.8" ry="3.8"/><ellipse cx="112.28" cy="516.28" rx="4.8" ry="3.8"/><ellipse cx="65.65" cy="531.89" rx="4.8" ry="3.8"/><ellipse cx="75.38" cy="529.07" rx="4.8" ry="3.8"/><ellipse cx="96.08" cy="509.76" rx="4.8" ry="3.8"/><ellipse cx="86.09" cy="517.42" rx="4.8" ry="3.8"/><ellipse cx="96.39" cy="528.61" rx="4.8" ry="3.8"/><ellipse cx="103.9" cy="530.15" rx="4.8" ry="3.8"/><ellipse cx="82.09" cy="525.36" rx="4.8" ry="3.8"/><ellipse cx="104.35" cy="518.25" rx="4.8" ry="3.8"/><ellipse cx="87.57" cy="527.29" rx="4.8" ry="3.8"/><ellipse cx="90.17" cy="521.28" rx="4.8" ry="3.8"/><ellipse cx="97.96" cy="511.04" rx="4.8" ry="3.8"/><ellipse cx="98.04" cy="520.04" rx="4.8" ry="3.8"/><ellipse cx="87.22" cy="511.61" rx="4.8" ry="3.8"/><ellipse cx="91.52" cy="521.43" rx="4.8" ry="3.8"/><ellipse cx="110.9" cy="507.6" rx="4.8" ry="3.8"/><ellipse cx="95.99" cy="521.24" rx="4.8" ry="3.8"/><ellipse cx="81.38" cy="516.15" rx="4.8" ry="3.8"/><ellipse cx="83.58" cy="516.46" rx="4.8" ry="3.8"/><ellipse cx="79.57" cy="522.77" rx="4.8" ry="3.8"/><ellipse cx="93.97" cy="519.94" rx="4.8" ry="3.8"/><ellipse cx="91.92" cy="518.76" rx="4.8" ry="3.8"/><ellipse cx="75.46" cy="531.44" rx="4.8" ry="3.8"/><ellipse cx="87.29" cy="510.28" rx="4.8" ry="3.8"/><ellipse cx="87.57" cy="528.08" rx="4.8" ry="3.8"/><ellipse cx="81.08" cy="522.96" rx="4.8" ry="3.8"/><ellipse cx="103.42" cy="522.89" rx="4.8" ry="3.8"/><ellipse cx="95.88" cy="519.32" rx="4.8" ry="3.8"/><ellipse cx="84.77" cy="528.69" rx="4.8" ry="3.8"/><ellipse cx="87.24" cy="526.81" rx="4.8" ry="3.8"/><ellipse cx="95.6" cy="532.1" rx="4.8" ry="3.8"/><ellipse cx="102.75" cy="514.36" rx="4.8" ry="3.8"/><ellipse cx="96.09" cy="510.73" rx="4.8" ry="3.8"/><ellipse cx="96.39" cy="531.61" rx="4.8" ry="3.8"/><ellipse cx="89.73" cy="518.71" rx="4.8" ry="3.8"/><ellipse cx="80.8" cy="530.61" rx="4.8" ry="3.8"/><ellipse cx="94.32" cy="517.48" rx="4.8" ry="3.8"/><ellipse cx="83.93" cy="524.26" rx="4.8" ry="3.8"/><ellipse cx="82.95" cy="526.55" rx="4.8" ry="3.8"/><ellipse cx="88.38" cy="514.88" rx="4.8" ry="3.8"/><ellipse cx="69.6" cy="527.45" rx="4.8" ry="3.8"/><ellipse cx="108.61" cy="516.2" rx="4.8" ry="3.8"/><ellipse cx="90.94" cy="515.98" rx="4.8" ry="3.8"/><ellipse cx="76.94" cy="531.81" rx="4.8" ry="3.8"/><ellipse cx="69.01" cy="534.84" rx="4.8" ry="3.8"/><ellipse cx="92.09" cy="515.68" rx="4.8" ry="3.8"/><ellipse cx="84.04" cy="527.09" rx="4.8" ry="3.8"/><ellipse cx="93.96" cy="516.89" rx="4.8" ry="3.8"/><ellipse cx="92.18" cy="533.61" rx="4.8" ry="3.8"/><ellipse cx="92.02" cy="526.76" rx="4.8" ry="3.8"/><ellipse cx="81.16" cy="513.38" rx="4.8" ry="3.8"/><ellipse cx="105.05" cy="515.77" rx="4.8" ry="3.8"/><ellipse cx="92.41" cy="520.04" rx="4.8" ry="3.8"/><ellipse cx="82" cy="523.35" rx="4.8" ry="3.8"/><ellipse cx="112.17" cy="523.33" rx="4.8" ry="3.8"/><ellipse cx="81.09" cy="522.13" rx="4.8" ry="3.8"/><ellipse cx="99.85" cy="514.41" rx="4.8" ry="3.8"/><ellipse cx="77.41" cy="524.69" rx="4.8" ry="3.8"/><ellipse cx="85.88" cy="530.35" rx="4.8" ry="3.8"/><ellipse cx="90.01" cy="524.72" rx="4.8" ry="3.8"/><ellipse cx="100.18" cy="516.96" rx="4.8" ry="3.8"/><ellipse cx="79.67" cy="522.91" rx="4.8" ry="3.8"/><ellipse cx="84.78" cy="526.65" rx="4.8" ry="3.8"/><ellipse cx="83.21" cy="515.89" rx="4.8" ry="3.8"/><ellipse cx="84.09" cy="533.79" rx="4.8" ry="3.8"/><ellipse cx="79.74" cy="518.18" rx="4.8" ry="3.8"/><ellipse cx="115.04" cy="523.97" rx="4.8" ry="3.8"/><ellipse cx="84.79" cy="524.66" rx="4.8" ry="3.8"/><ellipse cx="72.11" cy="522.18" rx="4.8" ry="3.8"/><ellipse cx="88.47" cy="520.05" rx="4.8" ry="3.8"/><ellipse cx="116.08" cy="518.67" rx="4.8" ry="3.8"/><ellipse cx="98.65" cy="514.63" rx="4.8" ry="3.8"/><ellipse cx="81.42" cy="526.97" rx="4.8" ry="3.8"/><ellipse cx="107.86" cy="513.76" rx="4.8" ry="3.8"/><ellipse cx="90.81" cy="528.55" rx="4.8" ry="3.8"/><ellipse cx="99.73" cy="516.43" rx="4.8" ry="3.8"/><ellipse cx="115.58" cy="507.45" rx="4.8" ry="3.8"/><ellipse cx="98.78" cy="518.28" rx="4.8" ry="3.8"/><ellipse cx="89.83" cy="525.2" rx="4.8" ry="3.8"/><ellipse cx="92.8" cy="519.51" rx="4.8" ry="3.8"/><ellipse cx="96.94" cy="513.3" rx="4.8" ry="3.8"/><ellipse cx="92.84" cy="524.61" rx="4.8" ry="3.8"/><ellipse cx="98.82" cy="509.93" rx="4.8" ry="3.8"/><ellipse cx="79.02" cy="520.83" rx="4.8" ry="3.8"/><ellipse cx="95.69" cy="517.09" rx="4.8" ry="3.8"/><ellipse cx="95.17" cy="521.26" rx="4.8" ry="3.8"/><ellipse cx="87.86" cy="511.02" rx="4.8" ry="3.8"/><ellipse cx="109.96" cy="527.13" rx="4.8" ry="3.8"/><ellipse cx="94.36" cy="525.19" rx="4.8" ry="3.8"/><ellipse cx="82.85" cy="533.22" rx="4.8" ry="3.8"/><ellipse cx="93.34" cy="521.35" rx="4.8" ry="3.8"/><ellipse cx="82.58" cy="517.08" rx="4.8" ry="3.8"/><ellipse cx="118.39" cy="506.95" rx="4.8" ry="3.8"/><ellipse cx="103.23" cy="521.9" rx="4.8" ry="3.8"/><ellipse cx="97.02" cy="520.58" rx="4.8" ry="3.8"/><ellipse cx="103.03" cy="515.48" rx="4.8" ry="3.8"/><ellipse cx="88.66" cy="518.24" rx="4.8" ry="3.8"/><ellipse cx="80.43" cy="518.15" rx="4.8" ry="3.8"/><ellipse cx="107.21" cy="520.86" rx="4.8" ry="3.8"/><ellipse cx="95.78" cy="531.37" rx="4.8" ry="3.8"/><ellipse cx="100.37" cy="514.04" rx="4.8" ry="3.8"/><ellipse cx="76.78" cy="512.63" rx="4.8" ry="3.8"/><ellipse cx="90.46" cy="532.74" rx="4.8" ry="3.8"/><ellipse cx="72.59" cy="519.02" rx="4.8" ry="3.8"/><ellipse cx="85.8" cy="515.18" rx="4.8" ry="3.8"/><ellipse cx="70.41" cy="525.73" rx="4.8" ry="3.8"/><ellipse cx="100.86" cy="524.05" rx="4.8" ry="3.8"/><ellipse cx="97.28" cy="522.62" rx="4.8" ry="3.8"/><ellipse cx="93.23" cy="518.92" rx="4.8" ry="3.8"/><ellipse cx="115.98" cy="524.99" rx="4.8" ry="3.8"/><ellipse cx="98.47" cy="511.56" rx="4.8" ry="3.8"/><ellipse cx="75.54" cy="523.64" rx="4.8" ry="3.8"/><ellipse cx="116.9" cy="509.97" rx="4.8" ry="3.8"/><ellipse cx="86.22" cy="533.36" rx="4.8" ry="3.8"/><ellipse cx="92.73" cy="525.82" rx="4.8" ry="3.8"/><ellipse cx="82.32" cy="528.4" rx="4.8" ry="3.8"/><ellipse cx="92.63" cy="524.15" rx="4.8" ry="3.8"/><ellipse cx="78.19" cy="525.17" rx="4.8" ry="3.8"/><ellipse cx="93.98" cy="526.44" rx="4.8" ry="3.8"/><ellipse cx="102.46" cy="530.14" rx="4.8" ry="3.8"/><ellipse cx="93.99" cy="523.4" rx="4.8" ry="3.8"/><ellipse cx="108.04" cy="522.55" rx="4.8" ry="3.8"/><ellipse cx="81.09" cy="531.89" rx="4.8" ry="3.8"/><ellipse cx="113" cy="513.48" rx="4.8" ry="3.8"/><ellipse cx="76.01" cy="526.27" rx="4.8" ry="3.8"/><ellipse cx="77.55" cy="513.93" rx="4.8" ry="3.8"/><ellipse cx="94.12" cy="534.08" rx="4.8" ry="3.8"/><ellipse cx="91.61" cy="515.36" rx="4.8" ry="3.8"/><ellipse cx="89.1" cy="518.68" rx="4.8" ry="3.8"/><ellipse cx="87.75" cy="520.64" rx="4.8" ry="3.8"/><ellipse cx="91.65" cy="525.89" rx="4.8" ry="3.8"/><ellipse cx="93.27" cy="519.93" rx="4.8" ry="3.8"/><ellipse cx="88.62" cy="526.28" rx="4.8" ry="3.8"/><ellipse cx="76.86" cy="522.34" rx="4.8" ry="3.8"/><ellipse cx="99.03" cy="535.67" rx="4.8" ry="3.8"/><ellipse cx="82.63" cy="514.12" rx="4.8" ry="3.8"/><ellipse cx="100.11" cy="524.42" rx="4.8" ry="3.8"/><ellipse cx="105.37" cy="525.26" rx="4.8" ry="3.8"/><ellipse cx="79.57" cy="510.86" rx="4.8" ry="3.8"/><ellipse cx="83.82" cy="524.1" rx="4.8" ry="3.8"/><ellipse cx="69.2" cy="531.87" rx="4.8" ry="3.8"/><ellipse cx="74.91" cy="525.18" rx="4.8" ry="3.8"/><ellipse cx="84.79" cy="526.46" rx="4.8" ry="3.8"/><ellipse cx="81.44" cy="518.29" rx="4.8" ry="3.8"/><ellipse cx="107.57" cy="521.1" rx="4.8" ry="3.8"/><ellipse cx="108.54" cy="507.82" rx="4.8" ry="3.8"/><ellipse cx="105.26" cy="516.93" rx="4.8" ry="3.8"/><ellipse cx="71.12" cy="520.58" rx="4.8" ry="3.8"/><ellipse cx="84.15" cy="521.37" rx="4.8" ry="3.8"/><ellipse cx="66.35" cy="527.65" rx="4.8" ry="3.8"/><ellipse cx="91.9" cy="527.34" rx="4.8" ry="3.8"/><ellipse cx="92.63" cy="510.25" rx="4.8" ry="3.8"/><ellipse cx="91.86" cy="525.71" rx="4.8" ry="3.8"/><ellipse cx="117.85" cy="530.62" rx="4.8" ry="3.8"/><ellipse cx="77.99" cy="521.08" rx="4.8" ry="3.8"/><ellipse cx="81.95" cy="537.94" rx="4.8" ry="3.8"/><ellipse cx="92.22" cy="515.79" rx="4.8" ry="3.8"/><ellipse cx="79.49" cy="513.93" rx="4.8" ry="3.8"/><ellipse cx="95.11" cy="512.93" rx="4.8" ry="3.8"/><ellipse cx="70.65" cy="525.07" rx="4.8" ry="3.8"/><ellipse cx="108.39" cy="505.2" rx="4.8" ry="3.8"/><ellipse cx="104.99" cy="518.92" rx="4.8" ry="3.8"/><ellipse cx="91.29" cy="525.44" rx="4.8" ry="3.8"/><ellipse cx="102.35" cy="523.91" rx="4.8" ry="3.8"/><ellipse cx="90.57" cy="534.92" rx="4.8" ry="3.8"/><ellipse cx="89.79" cy="520.23" rx="4.8" ry="3.8"/><ellipse cx="114.11" cy="527.03" rx="4.8" ry="3.8"/><ellipse cx="82.66" cy="524.27" rx="4.8" ry="3.8"/><ellipse cx="73.88" cy="533.31" rx="4.8" ry="3.8"/><ellipse cx="74.14" cy="520.25" rx="4.8" ry="3.8"/><ellipse cx="88.51" cy="516.5" rx="4.8" ry="3.8"/><ellipse cx="76.03" cy="520.24" rx="4.8" ry="3.8"/><ellipse cx="83.73" cy="522.13" rx="4.8" ry="3.8"/><ellipse cx="100.38" cy="519.52" rx="4.8" ry="3.8"/><ellipse cx="84.83" cy="533.38" rx="4.8" ry="3.8"/><ellipse cx="89.85" cy="516.5" rx="4.8" ry="3.8"/><ellipse cx="81.42" cy="523.56" rx="4.8" ry="3.8"/><ellipse cx="67.65" cy="534.3" rx="4.8" ry="3.8"/><ellipse cx="93.97" cy="512.42" rx="4.8" ry="3.8"/><ellipse cx="85.32" cy="533.36" rx="4.8" ry="3.8"/><ellipse cx="84.47" cy="532.8" rx="4.8" ry="3.8"/><ellipse cx="85.74" cy="509.73" rx="4.8" ry="3.8"/><ellipse cx="92.71" cy="522.1" rx="4.8" ry="3.8"/><ellipse cx="101.67" cy="521.99" rx="4.8" ry="3.8"/><ellipse cx="93.11" cy="519.73" rx="4.8" ry="3.8"/><ellipse cx="94.49" cy="530.41" rx="4.8" ry="3.8"/><ellipse cx="97.71" cy="514.44" rx="4.8" ry="3.8"/><ellipse cx="78.19" cy="513.93" rx="4.8" ry="3.8"/><ellipse cx="89.33" cy="517.26" rx="4.8" ry="3.8"/><ellipse cx="95.82" cy="514.73" rx="4.8" ry="3.8"/><ellipse cx="81.32" cy="526.98" rx="4.8" ry="3.8"/><ellipse cx="93.66" cy="516.95" rx="4.8" ry="3.8"/><ellipse cx="96.07" cy="518.28" rx="4.8" ry="3.8"/><ellipse cx="83.18" cy="515.56" rx="4.8" ry="3.8"/><ellipse cx="94.82" cy="513.75" rx="4.8" ry="3.8"/><ellipse cx="101.38" cy="535.58" rx="4.8" ry="3.8"/><ellipse cx="91.66" cy="525.66" rx="4.8" ry="3.8"/><ellipse cx="90.55" cy="524.62" rx="4.8" ry="3.8"/><ellipse cx="85.29" cy="521.17" rx="4.8" ry="3.8"/><ellipse cx="93.31" cy="526.26" rx="4.8" ry="3.8"/><ellipse cx="79.56" cy="519.89" rx="4.8" ry="3.8"/><ellipse cx="78.78" cy="520.78" rx="4.8" ry="3.8"/><ellipse cx="84.58" cy="528.77" rx="4.8" ry="3.8"/><ellipse cx="103.35" cy="508.29" rx="4.8" ry="3.8"/><ellipse cx="87.82" cy="522.32" rx="4.8" ry="3.8"/><ellipse cx="100.8" cy="528.41" rx="4.8" ry="3.8"/><ellipse cx="78.41" cy="516.2" rx="4.8" ry="3.8"/><ellipse cx="100.1" cy="523.04" rx="4.8" ry="3.8"/><ellipse cx="79.57" cy="521.14" rx="4.8" ry="3.8"/><ellipse cx="71.85" cy="528.13" rx="4.8" ry="3.8"/><ellipse cx="86.24" cy="538.51" rx="4.8" ry="3.8"/><ellipse cx="96.32" cy="515.42" rx="4.8" ry="3.8"/><ellipse cx="102.15" cy="528.92" rx="4.8" ry="3.8"/><ellipse cx="73.34" cy="529.95" rx="4.8" ry="3.8"/><ellipse cx="73.08" cy="511.04" rx="4.8" ry="3.8"/><ellipse cx="77.1" cy="525.97" rx="4.8" ry="3.8"/><ellipse cx="91.61" cy="518.29" rx="4.8" ry="3.8"/><ellipse cx="106.89" cy="525.78" rx="4.8" ry="3.8"/><ellipse cx="99.88" cy="518.84" rx="4.8" ry="3.8"/><ellipse cx="74.69" cy="523.33" rx="4.8" ry="3.8"/><ellipse cx="71.86" cy="514.1" rx="4.8" ry="3.8"/><ellipse cx="80.11" cy="516.69" rx="4.8" ry="3.8"/><ellipse cx="105.07" cy="523" rx="4.8" ry="3.8"/><ellipse cx="78.05" cy="522.86" rx="4.8" ry="3.8"/><ellipse cx="76.18" cy="518.1" rx="4.8" ry="3.8"/><ellipse cx="91.24" cy="526.43" rx="4.8" ry="3.8"/><ellipse cx="80.65" cy="518.45" rx="4.8" ry="3.8"/><ellipse cx="71.24" cy="513.74" rx="4.8" ry="3.8"/><ellipse cx="79.41" cy="524.78" rx="4.8" ry="3.8"/><ellipse cx="77.69" cy="513.01" rx="4.8" ry="3.8"/><ellipse cx="99.23" cy="511.3" rx="4.8" ry="3.8"/><ellipse cx="97.13" cy="519.72" rx="4.8" ry="3.8"/><ellipse cx="109.97" cy="513.61" rx="4.8" ry="3.8"/><ellipse cx="94.46" cy="516.96" rx="4.8" ry="3.8"/><ellipse cx="98.16" cy="518.29" rx="4.8" ry="3.8"/><ellipse cx="87.02" cy="532.73" rx="4.8" ry="3.8"/><ellipse cx="114.49" cy="525.87" rx="4.8" ry="3.8"/><ellipse cx="62.49" cy="531.25" rx="4.8" ry="3.8"/><ellipse cx="112.95" cy="509.38" rx="4.8" ry="3.8"/><ellipse cx="81.65" cy="521.32" rx="4.8" ry="3.8"/><ellipse cx="88.78" cy="535.03" rx="4.8" ry="3.8"/><ellipse cx="84.95" cy="520.55" rx="4.8" ry="3.8"/><ellipse cx="103.56" cy="527.18" rx="4.8" ry="3.8"/><ellipse cx="61.19" cy="537.23" rx="4.8" ry="3.8"/><ellipse cx="93.17" cy="520.49" rx="4.8" ry="3.8"/><ellipse cx="90.93" cy="520.44" rx="4.8" ry="3.8"/><ellipse cx="84.55" cy="531.67" rx="4.8" ry="3.8"/><ellipse cx="94.69" cy="518.18" rx="4.8" ry="3.8"/><ellipse cx="96.23" cy="512.17" rx="4.8" ry="3.8"/><ellipse cx="77.76" cy="521.11" rx="4.8" ry="3.8"/><ellipse cx="88.89" cy="516.93" rx="4.8" ry="3.8"/><ellipse cx="82.68" cy="524.03" rx="4.8" ry="3.8"/><ellipse cx="81.68" cy="521.44" rx="4.8" ry="3.8"/><ellipse cx="95.53" cy="527.08" rx="4.8" ry="3.8"/><ellipse cx="105.4" cy="511.19" rx="4.8" ry="3.8"/><ellipse cx="94.6" cy="521.51" rx="4.8" ry="3.8"/><ellipse cx="86.14" cy="533.26" rx="4.8" ry="3.8"/><ellipse cx="97.21" cy="526.82" rx="4.8" ry="3.8"/><ellipse cx="82.86" cy="516.21" rx="4.8" ry="3.8"/><ellipse cx="77.68" cy="527.28" rx="4.8" ry="3.8"/><ellipse cx="99.72" cy="507.45" rx="4.8" ry="3.8"/><ellipse cx="80.52" cy="515.91" rx="4.8" ry="3.8"/><ellipse cx="80.97" cy="520.61" rx="4.8" ry="3.8"/><ellipse cx="95.08" cy="528.29" rx="4.8" ry="3.8"/><ellipse cx="101.79" cy="507.47" rx="4.8" ry="3.8"/><ellipse cx="89.73" cy="519.84" rx="4.8" ry="3.8"/><ellipse cx="74.55" cy="512.41" rx="4.8" ry="3.8"/><ellipse cx="89.86" cy="530.15" rx="4.8" ry="3.8"/><ellipse cx="98.56" cy="529.83" rx="4.8" ry="3.8"/><ellipse cx="80.57" cy="537.52" rx="4.8" ry="3.8"/><ellipse cx="106.14" cy="503.94" rx="4.8" ry="3.8"/><ellipse cx="81.21" cy="527.53" rx="4.8" ry="3.8"/><ellipse cx="81.92" cy="526.81" rx="4.8" ry="3.8"/><ellipse cx="95.95" cy="510.79" rx="4.8" ry="3.8"/><ellipse cx="76.59" cy="521.05" rx="4.8" ry="3.8"/><ellipse cx="87.98" cy="526.63" rx="4.8" ry="3.8"/><ellipse cx="108.06" cy="519.08" rx="4.8" ry="3.8"/><ellipse cx="106.07" cy="511.55" rx="4.8" ry="3.8"/><ellipse cx="109.63" cy="523.44" rx="4.8" ry="3.8"/><ellipse cx="89.78" cy="519.17" rx="4.8" ry="3.8"/><ellipse cx="86.68" cy="512.01" rx="4.8" ry="3.8"/><ellipse cx="80.22" cy="516.64" rx="4.8" ry="3.8"/><ellipse cx="105.98" cy="531.79" rx="4.8" ry="3.8"/><ellipse cx="77.06" cy="529.94" rx="4.8" ry="3.8"/><ellipse cx="82.31" cy="520.36" rx="4.8" ry="3.8"/><ellipse cx="86.93" cy="521.61" rx="4.8" ry="3.8"/><ellipse cx="83.38" cy="523.32" rx="4.8" ry="3.8"/><ellipse cx="95.09" cy="515.7" rx="4.8" ry="3.8"/><ellipse cx="79.39" cy="524.25" rx="4.8" ry="3.8"/><ellipse cx="79.64" cy="524.64" rx="4.8" ry="3.8"/><ellipse cx="71.28" cy="518.56" rx="4.8" ry="3.8"/><ellipse cx="97.41" cy="521.09" rx="4.8" ry="3.8"/><ellipse cx="80.6" cy="526.32" rx="4.8" ry="3.8"/><ellipse cx="80.83" cy="533.54" rx="4.8" ry="3.8"/><ellipse cx="73.84" cy="532.28" rx="4.8" ry="3.8"/><ellipse cx="96.25" cy="516.43" rx="4.8" ry="3.8"/><ellipse cx="69.57" cy="538.08" rx="4.8" ry="3.8"/><ellipse cx="95.8" cy="533.86" rx="4.8" ry="3.8"/><ellipse cx="106.73" cy="521.92" rx="4.8" ry="3.8"/><ellipse cx="90.14" cy="521.59" rx="4.8" ry="3.8"/><ellipse cx="82.14" cy="523.95" rx="4.8" ry="3.8"/><ellipse cx="85.36" cy="514.11" rx="4.8" ry="3.8"/><ellipse cx="87.94" cy="522.17" rx="4.8" ry="3.8"/><ellipse cx="82.52" cy="527.17" rx="4.8" ry="3.8"/><ellipse cx="79.95" cy="523.32" rx="4.8" ry="3.8"/><ellipse cx="54.8" cy="478.4" rx="4.8" ry="3.8"/><ellipse cx="82.2" cy="480.3" rx="4.8" ry="3.8"/><ellipse cx="89.5" cy="480" rx="4.8" ry="3.8"/><ellipse cx="95.6" cy="478.1" rx="4.8" ry="3.8"/><ellipse cx="95.6" cy="486.8" rx="4.8" ry="3.8"/><ellipse cx="103.1" cy="488.9" rx="4.8" ry="3.8"/><ellipse cx="105.6" cy="493.7" rx="4.8" ry="3.8"/><ellipse cx="110.4" cy="488.1" rx="4.8" ry="3.8"/><ellipse cx="108.8" cy="473.6" rx="4.8" ry="3.8"/><ellipse cx="111.2" cy="472" rx="4.8" ry="3.8"/><ellipse cx="109.9" cy="481.6" rx="4.8" ry="3.8"/><ellipse cx="113.6" cy="468.7" rx="4.8" ry="3.8"/><ellipse cx="88.2" cy="495.8" rx="4.8" ry="3.8"/><ellipse cx="92.7" cy="496.6" rx="4.8" ry="3.8"/><ellipse cx="93.5" cy="500.2" rx="4.8" ry="3.8"/><ellipse cx="86.2" cy="501.8" rx="4.8" ry="3.8"/><ellipse cx="87" cy="504.2" rx="4.8" ry="3.8"/><ellipse cx="120.9" cy="499.3" rx="4.8" ry="3.8"/><ellipse cx="123.3" cy="500.2" rx="4.8" ry="3.8"/><ellipse cx="117.6" cy="500.2" rx="4.8" ry="3.8"/><ellipse cx="133.7" cy="514.6" rx="4.8" ry="3.8"/><ellipse cx="135.4" cy="526.2" rx="4.8" ry="3.8"/><ellipse cx="128.9" cy="522.7" rx="4.8" ry="3.8"/><ellipse cx="124.9" cy="524.6" rx="4.8" ry="3.8"/><ellipse cx="123.3" cy="514.6" rx="4.8" ry="3.8"/><ellipse cx="119.3" cy="513" rx="4.8" ry="3.8"/><ellipse cx="143.4" cy="485.7" rx="4.8" ry="3.8"/><ellipse cx="153.1" cy="489.7" rx="4.8" ry="3.8"/><ellipse cx="157.9" cy="491.3" rx="4.8" ry="3.8"/><ellipse cx="75" cy="539.6" rx="4.8" ry="3.8"/><ellipse cx="66.1" cy="536.4" rx="4.8" ry="3.8"/><ellipse cx="58" cy="524.3" rx="4.8" ry="3.8"/><ellipse cx="59.7" cy="529.1" rx="4.8" ry="3.8"/><ellipse cx="98.3" cy="534.8" rx="4.8" ry="3.8"/><ellipse cx="104.8" cy="530.8" rx="4.8" ry="3.8"/><ellipse cx="114.4" cy="526.7" rx="4.8" ry="3.8"/><ellipse cx="326.1" cy="389.3" rx="4.8" ry="3.8"/><ellipse cx="297.6" cy="367.8" rx="4.8" ry="3.8"/><ellipse cx="297.6" cy="387.3" rx="4.8" ry="3.8"/><ellipse cx="293.9" cy="391.9" rx="4.8" ry="3.8"/><ellipse cx="291.3" cy="403.4" rx="4.8" ry="3.8"/><ellipse cx="281.1" cy="380.5" rx="4.8" ry="3.8"/><ellipse cx="277.8" cy="385.9" rx="4.8" ry="3.8"/><ellipse cx="277.8" cy="392.4" rx="4.8" ry="3.8"/><ellipse cx="266.7" cy="380.5" rx="4.8" ry="3.8"/><ellipse cx="269.3" cy="382.2" rx="4.8" ry="3.8"/><ellipse cx="267.6" cy="392.4" rx="4.8" ry="3.8"/><ellipse cx="261.6" cy="385.9" rx="4.8" ry="3.8"/><ellipse cx="278.6" cy="409.3" rx="4.8" ry="3.8"/><ellipse cx="277.8" cy="416.1" rx="4.8" ry="3.8"/><ellipse cx="271" cy="415.6" rx="4.8" ry="3.8"/><ellipse cx="266.7" cy="409.3" rx="4.8" ry="3.8"/><ellipse cx="263.3" cy="413.6" rx="4.8" ry="3.8"/><ellipse cx="276.1" cy="422.9" rx="4.8" ry="3.8"/><ellipse cx="274.4" cy="422.6" rx="4.8" ry="3.8"/><ellipse cx="274.4" cy="431.4" rx="4.8" ry="3.8"/><ellipse cx="275.2" cy="433.9" rx="4.8" ry="3.8"/><ellipse cx="243.8" cy="382.2" rx="4.8" ry="3.8"/><ellipse cx="237.9" cy="385.9" rx="4.8" ry="3.8"/><ellipse cx="248.1" cy="387.3" rx="4.8" ry="3.8"/><ellipse cx="249.8" cy="391.5" rx="4.8" ry="3.8"/><ellipse cx="221.8" cy="385.9" rx="4.8" ry="3.8"/><ellipse cx="218.4" cy="388.1" rx="4.8" ry="3.8"/><ellipse cx="227.7" cy="388.1" rx="4.8" ry="3.8"/><ellipse cx="260.8" cy="400.9" rx="4.8" ry="3.8"/><ellipse cx="255.7" cy="424.6" rx="4.8" ry="3.8"/><ellipse cx="252.3" cy="435.6" rx="4.8" ry="3.8"/><ellipse cx="277.4" cy="466.3" rx="4.8" ry="3.8"/><ellipse cx="241.4" cy="454.9" rx="4.8" ry="3.8"/><ellipse cx="244" cy="456.8" rx="4.8" ry="3.8"/><ellipse cx="255.4" cy="442.6" rx="4.8" ry="3.8"/><ellipse cx="248.4" cy="442" rx="4.8" ry="3.8"/><ellipse cx="214.2" cy="461.5" rx="4.8" ry="3.8"/><ellipse cx="210.4" cy="461.5" rx="4.8" ry="3.8"/><ellipse cx="217.1" cy="460.2" rx="4.8" ry="3.8"/><ellipse cx="182" cy="400.6" rx="4.8" ry="3.8"/><ellipse cx="189.6" cy="405.6" rx="4.8" ry="3.8"/><ellipse cx="195.9" cy="404.4" rx="4.8" ry="3.8"/><ellipse cx="179.5" cy="408.2" rx="4.8" ry="3.8"/><ellipse cx="201.6" cy="403.1" rx="4.8" ry="3.8"/><ellipse cx="210.9" cy="391.8" rx="4.8" ry="3.8"/><ellipse cx="108" cy="449.5" rx="4.8" ry="3.8"/><ellipse cx="108" cy="452.6" rx="4.8" ry="3.8"/><ellipse cx="126.1" cy="437.1" rx="4.8" ry="3.8"/><ellipse cx="129.5" cy="437.1" rx="4.8" ry="3.8"/><ellipse cx="125.1" cy="445.6" rx="4.8" ry="3.8"/><ellipse cx="146.6" cy="425.3" rx="4.8" ry="3.8"/><ellipse cx="154.5" cy="425.3" rx="4.8" ry="3.8"/><ellipse cx="150.7" cy="431" rx="4.8" ry="3.8"/><ellipse cx="162.7" cy="414.7" rx="4.8" ry="3.8"/><ellipse cx="182.4" cy="401.4" rx="4.8" ry="3.8"/><ellipse cx="216.8" cy="476.3" rx="4.8" ry="3.8"/><ellipse cx="184.9" cy="482.2" rx="4.8" ry="3.8"/><ellipse cx="159.3" cy="491.1" rx="4.8" ry="3.8"/><ellipse cx="152.6" cy="489.2" rx="4.8" ry="3.8"/><ellipse cx="143.1" cy="485.8" rx="4.8" ry="3.8"/></g>
<path d="M99 548.55v-3.1M99 328.6v3.1M148.6 548.55v-3.1M148.6 328.6v3.1M198.2 548.55v-3.1M198.2 328.6v3.1M247.8 548.55v-3.1M247.8 328.6v3.1M297.4 548.55v-3.1M297.4 328.6v3.1M54.5 512.5h3.1M325.8 512.5h-3.1M54.5 472.25h3.1M325.8 472.25h-3.1M54.5 432h3.1M325.8 432h-3.1M54.5 391.75h3.1M325.8 391.75h-3.1M54.5 351.5h3.1M325.8 351.5h-3.1" stroke="#484848" stroke-width="1.1" fill="none"/>
<text transform="translate(99,567.1) scale(1,0.85)" font-size="14.7" text-anchor="middle" fill="#262626">50</text>
<text transform="translate(148.6,567.1) scale(1,0.85)" font-size="14.7" text-anchor="middle" fill="#262626">100</text>
<text transform="translate(198.2,567.1) scale(1,0.85)" font-size="14.7" text-anchor="middle" fill="#262626">150</text>
<text transform="translate(247.8,567.1) scale(1,0.85)" font-size="14.7" text-anchor="middle" fill="#262626">200</text>
<text transform="translate(297.4,567.1) scale(1,0.85)" font-size="14.7" text-anchor="middle" fill="#262626">250</text>
<text transform="translate(47.5,518) scale(1,0.85)" font-size="14.7" text-anchor="end" fill="#262626">50</text>
<text transform="translate(47.5,477.75) scale(1,0.85)" font-size="14.7" text-anchor="end" fill="#262626">100</text>
<text transform="translate(47.5,437.5) scale(1,0.85)" font-size="14.7" text-anchor="end" fill="#262626">150</text>
<text transform="translate(47.5,397.25) scale(1,0.85)" font-size="14.7" text-anchor="end" fill="#262626">200</text>
<text transform="translate(47.5,357) scale(1,0.85)" font-size="14.7" text-anchor="end" fill="#262626">250</text>
<text transform="translate(190.15,586.9) scale(1,0.85)" font-size="18.7" font-weight="bold" text-anchor="middle" fill="#262626">Target</text>
<text transform="translate(14.1,439.57) scale(1,0.808) rotate(-90)" font-size="19.4" font-weight="bold" text-anchor="middle" fill="#262626" textLength="234.6" lengthAdjust="spacingAndGlyphs">Output ~= 0.87*Target + 14</text>
<text transform="translate(190.15,323) scale(1,0.85)" font-size="18.5" font-weight="bold" text-anchor="middle" fill="#000" textLength="125" lengthAdjust="spacingAndGlyphs">All: R=0.93264</text>
<rect x="69.3" y="341.5" width="100.3" height="51.4" fill="#fff" stroke="#484848" stroke-width="0.8"/>
<ellipse cx="102.3" cy="352" rx="4.8" ry="3.8" fill="none" stroke="#000" stroke-width="1.3"/>
<line x1="78.6" y1="366.9" x2="124.8" y2="366.9" stroke="#ff0000" stroke-width="3"/>
<line x1="78.6" y1="382.7" x2="124.8" y2="382.7" stroke="#000" stroke-width="1.1" stroke-dasharray="1.3 2.9"/>
<text transform="translate(130,356.6) scale(1,0.85)" font-size="13.8" text-anchor="start" fill="#000">Data</text>
<text transform="translate(130,371.95) scale(1,0.85)" font-size="13.8" text-anchor="start" fill="#000">Fit</text>
<text transform="translate(130,387.3) scale(1,0.85)" font-size="13.8" text-anchor="start" fill="#000">Y = T</text>
</svg>
</body></html>
